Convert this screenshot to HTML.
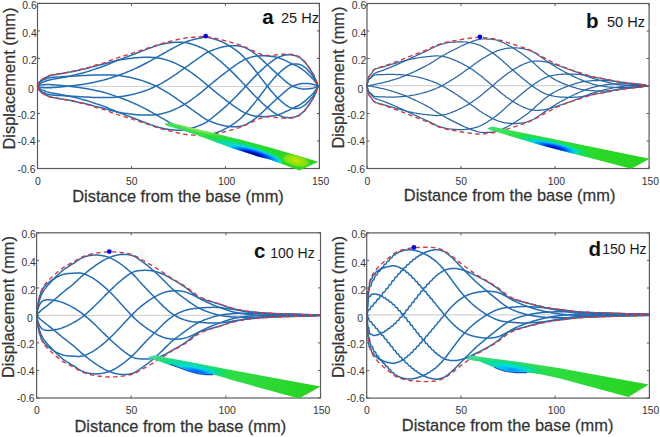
<!DOCTYPE html><html><head><meta charset="utf-8"><style>html,body{margin:0;padding:0;background:#fff;}svg{display:block}text{font-family:"Liberation Sans",sans-serif}</style></head><body>
<svg width="660" height="437" viewBox="0 0 660 437">
<rect width="660" height="437" fill="#fff"/>
<defs>
<linearGradient id="lga" gradientUnits="userSpaceOnUse" x1="164.6" y1="0" x2="318.3" y2="0"><stop offset="0" stop-color="#3ee068"/><stop offset="0.35" stop-color="#2ede38"/><stop offset="1" stop-color="#26d41a"/></linearGradient>
<clipPath id="pca"><polygon points="164.6,124.1 169.7,122.4 240.0,139.6 270.0,147.6 318.3,161.8 299.6,170.4 270.0,159.6 257.0,156.2 232.7,148.3 190.0,132.6 166.0,125.6"/></clipPath>
<linearGradient id="lgb" gradientUnits="userSpaceOnUse" x1="487.3" y1="0" x2="649.7" y2="0"><stop offset="0" stop-color="#3ee068"/><stop offset="0.35" stop-color="#2ede38"/><stop offset="1" stop-color="#26d41a"/></linearGradient>
<clipPath id="pcb"><polygon points="487.3,128.3 492.1,126.5 649.7,158.8 631.2,168.8 575.0,154.0 560.0,150.3 545.0,146.3 489.1,129.8"/></clipPath>
<linearGradient id="lgc" gradientUnits="userSpaceOnUse" x1="148.3" y1="0" x2="320.6" y2="0"><stop offset="0" stop-color="#40dca8"/><stop offset="0.25" stop-color="#38dc90"/><stop offset="0.5" stop-color="#2edc48"/><stop offset="1" stop-color="#26d41a"/></linearGradient>
<clipPath id="pcc"><polygon points="148.3,357.1 154.4,355.3 230.0,369.8 320.6,386.6 299.1,398.4 252.0,385.6 230.0,379.4 214.0,374.6 206.0,374.6 197.6,373.4 190.0,371.5 177.9,367.2 168.0,364.4 160.0,361.5 149.1,358.3"/></clipPath>
<linearGradient id="lgd" gradientUnits="userSpaceOnUse" x1="466.4" y1="0" x2="648.8" y2="0"><stop offset="0" stop-color="#40dc98"/><stop offset="0.25" stop-color="#36dc78"/><stop offset="0.5" stop-color="#2edc40"/><stop offset="1" stop-color="#26d41a"/></linearGradient>
<clipPath id="pcd"><polygon points="466.4,358.9 470.2,355.5 480.0,356.7 520.0,362.1 560.0,368.2 648.8,384.5 628.4,396.9 560.0,378.5 540.6,374.2 528.5,372.6 516.4,372.6 504.2,371.2 492.1,366.4 480.0,361.5 467.0,359.6"/></clipPath>
<radialGradient id="gcy"><stop offset="0" stop-color="#00dce8"/><stop offset="0.55" stop-color="#08dca0"/><stop offset="1" stop-color="#22dd10" stop-opacity="0"/></radialGradient>
<radialGradient id="gbl"><stop offset="0" stop-color="#000090"/><stop offset="0.3" stop-color="#0010d8"/><stop offset="0.55" stop-color="#0060ff"/><stop offset="0.78" stop-color="#00b8ff"/><stop offset="0.92" stop-color="#00e0e0" stop-opacity="0.8"/><stop offset="1" stop-color="#00e0d0" stop-opacity="0"/></radialGradient>
<radialGradient id="gbl2"><stop offset="0" stop-color="#0058f0"/><stop offset="0.45" stop-color="#0090ff"/><stop offset="0.8" stop-color="#00c8f0"/><stop offset="1" stop-color="#00d8d0" stop-opacity="0"/></radialGradient>
<radialGradient id="gbl3"><stop offset="0" stop-color="#0090f8"/><stop offset="0.5" stop-color="#00b8f8"/><stop offset="0.85" stop-color="#00d8e8"/><stop offset="1" stop-color="#00d8d0" stop-opacity="0"/></radialGradient>
<radialGradient id="gblb"><stop offset="0" stop-color="#0008b8"/><stop offset="0.35" stop-color="#0034f0"/><stop offset="0.62" stop-color="#0088ff"/><stop offset="0.82" stop-color="#00c8f0"/><stop offset="1" stop-color="#00d8d0" stop-opacity="0"/></radialGradient>
<radialGradient id="glt"><stop offset="0" stop-color="#a8ec60"/><stop offset="0.6" stop-color="#80e650" stop-opacity="0.7"/><stop offset="1" stop-color="#60e040" stop-opacity="0"/></radialGradient>
<radialGradient id="gye"><stop offset="0" stop-color="#d0e400"/><stop offset="0.3" stop-color="#a8e208"/><stop offset="0.75" stop-color="#80e010"/><stop offset="1" stop-color="#50dc12" stop-opacity="0"/></radialGradient>
</defs>
<line x1="37.5" y1="86.5" x2="319.4" y2="86.5" stroke="#d2d2d2" stroke-width="1.2"/>
<g fill="none" stroke="#226cb4" stroke-width="1.5" stroke-linejoin="round"><path d="M37.5 86.2 38.5 83.5 39.5 82.0 40.5 80.9 41.5 79.9 42.5 79.3 43.5 78.8 44.5 78.2 45.5 77.6 46.5 77.0 47.5 76.6 48.5 76.2 49.5 75.8 50.5 75.5 51.5 75.3 52.5 75.0 53.5 74.8 54.5 74.7 55.5 74.5 56.5 74.4 57.5 74.2 58.5 74.0 59.5 73.9 60.5 73.7 61.5 73.5 62.5 73.4 63.5 73.2 64.5 73.0 65.5 72.8 66.5 72.7 67.5 72.5 68.5 72.3 69.5 72.1 70.5 71.9 71.5 71.8 72.5 71.6 73.5 71.4 74.5 71.2 75.5 70.9 76.5 70.7 77.5 70.5 78.5 70.2 79.5 70.0 80.5 69.8 81.5 69.5 82.5 69.3 83.5 69.1 84.5 68.9 85.5 68.7 86.5 68.4 87.5 68.2 88.5 68.0 89.5 67.7 90.5 67.4 91.5 67.1 92.5 66.8 93.5 66.5 94.5 66.2 95.5 65.9 96.5 65.7 97.5 65.5 98.5 65.3 99.5 65.0 100.5 64.8 101.5 64.6 102.5 64.4 103.5 64.1 104.5 63.9 105.5 63.6 106.5 63.3 107.5 63.0 108.5 62.7 109.5 62.4 110.5 62.1 111.5 61.8 112.5 61.5 113.5 61.3 114.5 61.0 115.5 60.8 116.5 60.5 117.5 60.3 118.5 60.1 119.5 59.9 120.5 59.8 121.5 59.6 122.5 59.5 123.5 59.3 124.5 59.2 125.5 59.0 126.5 58.9 127.5 58.8 128.5 58.6 129.5 58.5 130.5 58.4 131.5 58.3 132.5 58.1 133.5 58.0 134.5 57.9 135.5 57.8 136.5 57.7 137.5 57.7 138.5 57.6 139.5 57.5 140.5 57.4 141.5 57.4 142.5 57.3 143.5 57.3 144.5 57.3 145.5 57.3 146.5 57.3 147.5 57.3 148.5 57.3 149.5 57.3 150.5 57.3 151.5 57.4 152.5 57.4 153.5 57.5 154.5 57.6 155.5 57.6 156.5 57.8 157.5 57.9 158.5 58.0 159.5 58.2 160.5 58.4 161.5 58.6 162.5 58.8 163.5 59.1 164.5 59.4 165.5 59.6 166.5 59.9 167.5 60.3 168.5 60.6 169.5 60.9 170.5 61.3 171.5 61.7 172.5 62.1 173.5 62.5 174.5 62.9 175.5 63.4 176.5 63.8 177.5 64.3 178.5 64.8 179.5 65.3 180.5 65.8 181.5 66.4 182.5 66.9 183.5 67.5 184.5 68.1 185.5 68.7 186.5 69.3 187.5 70.0 188.5 70.6 189.5 71.3 190.5 72.0 191.5 72.7 192.5 73.4 193.5 74.2 194.5 74.9 195.5 75.6 196.5 76.4 197.5 77.2 198.5 78.0 199.5 78.7 200.5 79.5 201.5 80.3 202.5 81.1 203.5 82.0 204.5 82.8 205.5 83.6 206.5 84.5 207.5 85.3 208.5 86.2 209.5 87.0 210.5 87.9 211.5 88.7 212.5 89.5 213.5 90.4 214.5 91.2 215.5 92.0 216.5 92.8 217.5 93.6 218.5 94.4 219.5 95.2 220.5 96.0 221.5 96.8 222.5 97.5 223.5 98.3 224.5 99.1 225.5 99.9 226.5 100.6 227.5 101.4 228.5 102.1 229.5 102.9 230.5 103.6 231.5 104.4 232.5 105.1 233.5 105.8 234.5 106.5 235.5 107.2 236.5 107.9 237.5 108.6 238.5 109.2 239.5 109.9 240.5 110.5 241.5 111.1 242.5 111.6 243.5 112.2 244.5 112.7 245.5 113.1 246.5 113.5 247.5 113.9 248.5 114.3 249.5 114.6 250.5 115.0 251.5 115.3 252.5 115.6 253.5 115.8 254.5 116.1 255.5 116.2 256.5 116.3 257.5 116.4 258.5 116.5 259.5 116.5 260.5 116.6 261.5 116.6 262.5 116.6 263.5 116.7 264.5 116.7 265.5 116.6 266.5 116.5 267.5 116.4 268.5 116.3 269.5 116.2 270.5 116.1 271.5 116.0 272.5 115.9 273.5 115.8 274.5 115.6 275.5 115.4 276.5 115.2 277.5 114.9 278.5 114.6 279.5 114.2 280.5 113.9 281.5 113.5 282.5 113.1 283.5 112.7 284.5 112.2 285.5 111.7 286.5 111.3 287.5 110.8 288.5 110.3 289.5 109.8 290.5 109.3 291.5 108.8 292.5 108.3 293.5 107.9 294.5 107.5 295.5 107.0 296.5 106.5 297.5 106.0 298.5 105.5 299.5 104.9 300.5 104.3 301.5 103.6 302.5 102.9 303.5 102.1 304.5 101.4 305.5 100.6 306.5 99.7 307.5 98.8 308.5 97.9 309.5 96.9 310.5 96.0 311.5 95.0 312.5 94.0 313.5 92.9 314.5 91.7 315.5 90.3 316.5 88.8 317.5 87.0 318.5 86.4"/><path d="M37.5 86.2 38.5 84.7 39.5 83.9 40.5 83.3 41.5 82.7 42.5 82.3 43.5 82.0 44.5 81.6 45.5 81.2 46.5 80.8 47.5 80.5 48.5 80.2 49.5 80.0 50.5 79.7 51.5 79.5 52.5 79.3 53.5 79.1 54.5 78.9 55.5 78.8 56.5 78.6 57.5 78.4 58.5 78.3 59.5 78.1 60.5 77.9 61.5 77.7 62.5 77.5 63.5 77.4 64.5 77.2 65.5 77.0 66.5 76.8 67.5 76.6 68.5 76.4 69.5 76.2 70.5 76.0 71.5 75.7 72.5 75.5 73.5 75.3 74.5 75.1 75.5 74.8 76.5 74.6 77.5 74.3 78.5 74.0 79.5 73.8 80.5 73.5 81.5 73.2 82.5 73.0 83.5 72.7 84.5 72.4 85.5 72.2 86.5 71.9 87.5 71.6 88.5 71.3 89.5 71.0 90.5 70.6 91.5 70.3 92.5 69.9 93.5 69.6 94.5 69.2 95.5 68.9 96.5 68.5 97.5 68.2 98.5 67.9 99.5 67.6 100.5 67.3 101.5 67.0 102.5 66.6 103.5 66.3 104.5 65.9 105.5 65.5 106.5 65.1 107.5 64.7 108.5 64.2 109.5 63.8 110.5 63.3 111.5 62.9 112.5 62.5 113.5 62.1 114.5 61.7 115.5 61.2 116.5 60.8 117.5 60.4 118.5 60.0 119.5 59.6 120.5 59.3 121.5 58.9 122.5 58.5 123.5 58.2 124.5 57.8 125.5 57.4 126.5 57.0 127.5 56.7 128.5 56.3 129.5 55.9 130.5 55.5 131.5 55.1 132.5 54.7 133.5 54.4 134.5 54.0 135.5 53.6 136.5 53.2 137.5 52.8 138.5 52.4 139.5 52.0 140.5 51.6 141.5 51.2 142.5 50.8 143.5 50.4 144.5 50.1 145.5 49.7 146.5 49.3 147.5 48.9 148.5 48.6 149.5 48.2 150.5 47.8 151.5 47.5 152.5 47.1 153.5 46.7 154.5 46.4 155.5 46.1 156.5 45.7 157.5 45.4 158.5 45.1 159.5 44.8 160.5 44.6 161.5 44.3 162.5 44.1 163.5 43.9 164.5 43.7 165.5 43.5 166.5 43.3 167.5 43.1 168.5 42.9 169.5 42.8 170.5 42.7 171.5 42.6 172.5 42.5 173.5 42.4 174.5 42.3 175.5 42.3 176.5 42.2 177.5 42.2 178.5 42.2 179.5 42.2 180.5 42.2 181.5 42.2 182.5 42.3 183.5 42.4 184.5 42.5 185.5 42.6 186.5 42.8 187.5 43.0 188.5 43.2 189.5 43.5 190.5 43.8 191.5 44.1 192.5 44.4 193.5 44.7 194.5 45.0 195.5 45.4 196.5 45.8 197.5 46.1 198.5 46.5 199.5 47.0 200.5 47.4 201.5 47.8 202.5 48.2 203.5 48.7 204.5 49.1 205.5 49.7 206.5 50.3 207.5 51.1 208.5 51.8 209.5 52.6 210.5 53.4 211.5 54.1 212.5 54.9 213.5 55.7 214.5 56.5 215.5 57.2 216.5 58.0 217.5 58.9 218.5 59.7 219.5 60.5 220.5 61.4 221.5 62.2 222.5 63.1 223.5 64.0 224.5 64.9 225.5 65.8 226.5 66.7 227.5 67.6 228.5 68.6 229.5 69.5 230.5 70.5 231.5 71.4 232.5 72.4 233.5 73.4 234.5 74.4 235.5 75.4 236.5 76.4 237.5 77.4 238.5 78.5 239.5 79.5 240.5 80.5 241.5 81.6 242.5 82.7 243.5 83.7 244.5 84.8 245.5 85.9 246.5 87.0 247.5 88.0 248.5 89.1 249.5 90.2 250.5 91.3 251.5 92.3 252.5 93.4 253.5 94.5 254.5 95.5 255.5 96.5 256.5 97.5 257.5 98.4 258.5 99.4 259.5 100.4 260.5 101.3 261.5 102.3 262.5 103.3 263.5 104.2 264.5 105.2 265.5 106.0 266.5 106.9 267.5 107.7 268.5 108.4 269.5 109.2 270.5 110.0 271.5 110.8 272.5 111.6 273.5 112.3 274.5 113.0 275.5 113.6 276.5 114.2 277.5 114.7 278.5 115.2 279.5 115.6 280.5 116.0 281.5 116.3 282.5 116.7 283.5 117.0 284.5 117.2 285.5 117.4 286.5 117.5 287.5 117.6 288.5 117.7 289.5 117.7 290.5 117.6 291.5 117.5 292.5 117.4 293.5 117.2 294.5 117.0 295.5 116.7 296.5 116.4 297.5 115.9 298.5 115.4 299.5 114.9 300.5 114.2 301.5 113.4 302.5 112.5 303.5 111.5 304.5 110.5 305.5 109.4 306.5 108.1 307.5 106.8 308.5 105.3 309.5 103.8 310.5 102.4 311.5 100.9 312.5 99.3 313.5 97.5 314.5 95.4 315.5 93.1 316.5 90.6 317.5 87.5 318.5 86.5"/><path d="M37.5 86.2 38.5 86.9 39.5 87.2 40.5 87.4 41.5 87.5 42.5 87.6 43.5 87.7 44.5 87.7 45.5 87.8 46.5 87.8 47.5 87.8 48.5 87.8 49.5 87.8 50.5 87.7 51.5 87.7 52.5 87.6 53.5 87.5 54.5 87.5 55.5 87.4 56.5 87.3 57.5 87.2 58.5 87.2 59.5 87.1 60.5 87.0 61.5 86.9 62.5 86.8 63.5 86.7 64.5 86.6 65.5 86.5 66.5 86.4 67.5 86.3 68.5 86.2 69.5 86.1 70.5 86.0 71.5 85.8 72.5 85.7 73.5 85.6 74.5 85.5 75.5 85.4 76.5 85.2 77.5 85.1 78.5 85.0 79.5 84.8 80.5 84.7 81.5 84.5 82.5 84.4 83.5 84.2 84.5 84.1 85.5 83.9 86.5 83.7 87.5 83.6 88.5 83.4 89.5 83.2 90.5 83.0 91.5 82.8 92.5 82.6 93.5 82.4 94.5 82.2 95.5 81.9 96.5 81.7 97.5 81.5 98.5 81.3 99.5 81.1 100.5 80.8 101.5 80.6 102.5 80.4 103.5 80.1 104.5 79.8 105.5 79.6 106.5 79.3 107.5 79.0 108.5 78.6 109.5 78.3 110.5 78.0 111.5 77.7 112.5 77.3 113.5 77.0 114.5 76.7 115.5 76.3 116.5 76.0 117.5 75.6 118.5 75.3 119.5 74.9 120.5 74.5 121.5 74.2 122.5 73.8 123.5 73.4 124.5 73.1 125.5 72.7 126.5 72.3 127.5 71.9 128.5 71.5 129.5 71.1 130.5 70.6 131.5 70.2 132.5 69.8 133.5 69.3 134.5 68.9 135.5 68.4 136.5 68.0 137.5 67.5 138.5 67.0 139.5 66.5 140.5 66.0 141.5 65.5 142.5 65.0 143.5 64.5 144.5 64.0 145.5 63.5 146.5 63.0 147.5 62.4 148.5 61.9 149.5 61.4 150.5 60.8 151.5 60.3 152.5 59.7 153.5 59.1 154.5 58.6 155.5 58.0 156.5 57.4 157.5 56.8 158.5 56.3 159.5 55.7 160.5 55.1 161.5 54.6 162.5 54.0 163.5 53.5 164.5 52.9 165.5 52.3 166.5 51.8 167.5 51.2 168.5 50.6 169.5 50.1 170.5 49.5 171.5 49.0 172.5 48.5 173.5 47.9 174.5 47.4 175.5 46.9 176.5 46.3 177.5 45.8 178.5 45.3 179.5 44.8 180.5 44.3 181.5 43.8 182.5 43.3 183.5 42.9 184.5 42.5 185.5 42.1 186.5 41.7 187.5 41.3 188.5 41.0 189.5 40.7 190.5 40.4 191.5 40.1 192.5 39.8 193.5 39.5 194.5 39.3 195.5 39.0 196.5 38.8 197.5 38.6 198.5 38.4 199.5 38.2 200.5 38.0 201.5 37.7 202.5 37.5 203.5 37.3 204.5 37.2 205.5 37.1 206.5 37.2 207.5 37.3 208.5 37.6 209.5 37.8 210.5 38.1 211.5 38.3 212.5 38.6 213.5 38.9 214.5 39.1 215.5 39.5 216.5 39.8 217.5 40.1 218.5 40.5 219.5 40.9 220.5 41.3 221.5 41.7 222.5 42.2 223.5 42.7 224.5 43.1 225.5 43.7 226.5 44.2 227.5 44.7 228.5 45.3 229.5 45.9 230.5 46.5 231.5 47.2 232.5 47.8 233.5 48.5 234.5 49.2 235.5 49.9 236.5 50.6 237.5 51.4 238.5 52.2 239.5 53.0 240.5 53.9 241.5 54.8 242.5 55.8 243.5 56.8 244.5 57.8 245.5 58.8 246.5 59.9 247.5 61.1 248.5 62.2 249.5 63.4 250.5 64.6 251.5 65.8 252.5 67.0 253.5 68.2 254.5 69.5 255.5 70.7 256.5 72.0 257.5 73.3 258.5 74.6 259.5 75.9 260.5 77.2 261.5 78.6 262.5 79.9 263.5 81.2 264.5 82.5 265.5 83.8 266.5 85.1 267.5 86.3 268.5 87.5 269.5 88.7 270.5 90.0 271.5 91.2 272.5 92.4 273.5 93.6 274.5 94.7 275.5 95.8 276.5 96.9 277.5 97.9 278.5 98.8 279.5 99.7 280.5 100.6 281.5 101.5 282.5 102.4 283.5 103.2 284.5 104.0 285.5 104.8 286.5 105.5 287.5 106.1 288.5 106.7 289.5 107.2 290.5 107.6 291.5 107.9 292.5 108.2 293.5 108.4 294.5 108.5 295.5 108.5 296.5 108.5 297.5 108.4 298.5 108.2 299.5 108.0 300.5 107.7 301.5 107.2 302.5 106.7 303.5 106.0 304.5 105.3 305.5 104.6 306.5 103.7 307.5 102.6 308.5 101.5 309.5 100.4 310.5 99.3 311.5 98.1 312.5 96.9 313.5 95.4 314.5 93.8 315.5 91.9 316.5 89.8 317.5 87.3 318.5 86.4"/><path d="M37.5 86.2 38.5 88.6 39.5 89.9 40.5 90.8 41.5 91.6 42.5 92.1 43.5 92.5 44.5 92.9 45.5 93.4 46.5 93.8 47.5 94.1 48.5 94.4 49.5 94.7 50.5 94.8 51.5 95.0 52.5 95.1 53.5 95.2 54.5 95.2 55.5 95.3 56.5 95.4 57.5 95.4 58.5 95.5 59.5 95.5 60.5 95.6 61.5 95.6 62.5 95.7 63.5 95.8 64.5 95.8 65.5 95.9 66.5 95.9 67.5 96.0 68.5 96.0 69.5 96.1 70.5 96.1 71.5 96.2 72.5 96.2 73.5 96.3 74.5 96.3 75.5 96.4 76.5 96.5 77.5 96.5 78.5 96.6 79.5 96.7 80.5 96.7 81.5 96.8 82.5 96.8 83.5 96.9 84.5 96.9 85.5 97.0 86.5 97.0 87.5 97.1 88.5 97.1 89.5 97.2 90.5 97.2 91.5 97.3 92.5 97.4 93.5 97.4 94.5 97.5 95.5 97.5 96.5 97.5 97.5 97.5 98.5 97.5 99.5 97.5 100.5 97.5 101.5 97.5 102.5 97.5 103.5 97.5 104.5 97.5 105.5 97.5 106.5 97.5 107.5 97.5 108.5 97.5 109.5 97.5 110.5 97.5 111.5 97.4 112.5 97.4 113.5 97.3 114.5 97.3 115.5 97.2 116.5 97.1 117.5 97.0 118.5 96.9 119.5 96.8 120.5 96.6 121.5 96.5 122.5 96.4 123.5 96.2 124.5 96.0 125.5 95.8 126.5 95.7 127.5 95.5 128.5 95.3 129.5 95.1 130.5 94.9 131.5 94.6 132.5 94.4 133.5 94.2 134.5 93.9 135.5 93.7 136.5 93.4 137.5 93.1 138.5 92.9 139.5 92.6 140.5 92.3 141.5 92.0 142.5 91.6 143.5 91.3 144.5 91.0 145.5 90.6 146.5 90.2 147.5 89.9 148.5 89.5 149.5 89.1 150.5 88.7 151.5 88.2 152.5 87.8 153.5 87.4 154.5 86.9 155.5 86.4 156.5 86.0 157.5 85.5 158.5 85.0 159.5 84.4 160.5 83.9 161.5 83.3 162.5 82.8 163.5 82.2 164.5 81.6 165.5 81.0 166.5 80.4 167.5 79.8 168.5 79.2 169.5 78.5 170.5 77.9 171.5 77.2 172.5 76.6 173.5 75.9 174.5 75.2 175.5 74.5 176.5 73.8 177.5 73.1 178.5 72.4 179.5 71.7 180.5 71.0 181.5 70.2 182.5 69.5 183.5 68.8 184.5 68.1 185.5 67.4 186.5 66.7 187.5 66.0 188.5 65.3 189.5 64.5 190.5 63.8 191.5 63.1 192.5 62.4 193.5 61.7 194.5 61.0 195.5 60.3 196.5 59.6 197.5 58.9 198.5 58.2 199.5 57.5 200.5 56.8 201.5 56.1 202.5 55.4 203.5 54.6 204.5 54.0 205.5 53.3 206.5 52.7 207.5 52.3 208.5 51.8 209.5 51.4 210.5 51.0 211.5 50.6 212.5 50.2 213.5 49.8 214.5 49.4 215.5 49.1 216.5 48.7 217.5 48.4 218.5 48.1 219.5 47.8 220.5 47.5 221.5 47.3 222.5 47.1 223.5 46.8 224.5 46.6 225.5 46.5 226.5 46.3 227.5 46.1 228.5 46.0 229.5 45.9 230.5 45.8 231.5 45.7 232.5 45.7 233.5 45.7 234.5 45.7 235.5 45.7 236.5 45.7 237.5 45.8 238.5 45.9 239.5 46.0 240.5 46.2 241.5 46.4 242.5 46.7 243.5 47.0 244.5 47.4 245.5 47.8 246.5 48.3 247.5 48.8 248.5 49.4 249.5 50.0 250.5 50.6 251.5 51.2 252.5 51.9 253.5 52.6 254.5 53.3 255.5 54.0 256.5 54.9 257.5 55.7 258.5 56.6 259.5 57.5 260.5 58.4 261.5 59.3 262.5 60.2 263.5 61.1 264.5 62.1 265.5 63.0 266.5 64.0 267.5 64.9 268.5 65.8 269.5 66.8 270.5 67.7 271.5 68.6 272.5 69.6 273.5 70.5 274.5 71.4 275.5 72.4 276.5 73.3 277.5 74.2 278.5 75.0 279.5 75.9 280.5 76.8 281.5 77.7 282.5 78.6 283.5 79.5 284.5 80.4 285.5 81.3 286.5 82.1 287.5 82.9 288.5 83.7 289.5 84.4 290.5 85.0 291.5 85.6 292.5 86.1 293.5 86.5 294.5 86.9 295.5 87.3 296.5 87.6 297.5 87.9 298.5 88.2 299.5 88.4 300.5 88.6 301.5 88.8 302.5 88.9 303.5 89.0 304.5 89.0 305.5 89.0 306.5 89.0 307.5 88.9 308.5 88.8 309.5 88.7 310.5 88.5 311.5 88.4 312.5 88.2 313.5 88.0 314.5 87.7 315.5 87.3 316.5 86.9 317.5 86.4 318.5 86.2"/><path d="M37.5 86.2 38.5 88.9 39.5 90.4 40.5 91.5 41.5 92.5 42.5 93.1 43.5 93.6 44.5 94.2 45.5 94.8 46.5 95.4 47.5 95.8 48.5 96.2 49.5 96.6 50.5 96.9 51.5 97.1 52.5 97.4 53.5 97.6 54.5 97.7 55.5 97.9 56.5 98.0 57.5 98.2 58.5 98.4 59.5 98.5 60.5 98.7 61.5 98.9 62.5 99.0 63.5 99.2 64.5 99.4 65.5 99.6 66.5 99.7 67.5 99.9 68.5 100.1 69.5 100.3 70.5 100.5 71.5 100.6 72.5 100.8 73.5 101.0 74.5 101.2 75.5 101.5 76.5 101.7 77.5 101.9 78.5 102.2 79.5 102.4 80.5 102.6 81.5 102.9 82.5 103.1 83.5 103.3 84.5 103.5 85.5 103.7 86.5 104.0 87.5 104.2 88.5 104.4 89.5 104.7 90.5 105.0 91.5 105.3 92.5 105.6 93.5 105.9 94.5 106.2 95.5 106.5 96.5 106.7 97.5 106.9 98.5 107.1 99.5 107.4 100.5 107.6 101.5 107.8 102.5 108.0 103.5 108.3 104.5 108.5 105.5 108.8 106.5 109.1 107.5 109.4 108.5 109.7 109.5 110.0 110.5 110.3 111.5 110.6 112.5 110.9 113.5 111.1 114.5 111.4 115.5 111.6 116.5 111.9 117.5 112.1 118.5 112.3 119.5 112.5 120.5 112.6 121.5 112.8 122.5 112.9 123.5 113.1 124.5 113.2 125.5 113.4 126.5 113.5 127.5 113.6 128.5 113.8 129.5 113.9 130.5 114.0 131.5 114.1 132.5 114.3 133.5 114.4 134.5 114.5 135.5 114.6 136.5 114.7 137.5 114.7 138.5 114.8 139.5 114.9 140.5 115.0 141.5 115.0 142.5 115.1 143.5 115.1 144.5 115.1 145.5 115.1 146.5 115.1 147.5 115.1 148.5 115.1 149.5 115.1 150.5 115.1 151.5 115.0 152.5 115.0 153.5 114.9 154.5 114.8 155.5 114.8 156.5 114.6 157.5 114.5 158.5 114.4 159.5 114.2 160.5 114.0 161.5 113.8 162.5 113.6 163.5 113.3 164.5 113.0 165.5 112.8 166.5 112.5 167.5 112.1 168.5 111.8 169.5 111.5 170.5 111.1 171.5 110.7 172.5 110.3 173.5 109.9 174.5 109.5 175.5 109.0 176.5 108.6 177.5 108.1 178.5 107.6 179.5 107.1 180.5 106.6 181.5 106.0 182.5 105.5 183.5 104.9 184.5 104.3 185.5 103.7 186.5 103.1 187.5 102.4 188.5 101.8 189.5 101.1 190.5 100.4 191.5 99.7 192.5 99.0 193.5 98.2 194.5 97.5 195.5 96.8 196.5 96.0 197.5 95.2 198.5 94.4 199.5 93.7 200.5 92.9 201.5 92.1 202.5 91.3 203.5 90.4 204.5 89.6 205.5 88.8 206.5 87.9 207.5 87.1 208.5 86.2 209.5 85.4 210.5 84.5 211.5 83.7 212.5 82.9 213.5 82.0 214.5 81.2 215.5 80.4 216.5 79.6 217.5 78.8 218.5 78.0 219.5 77.2 220.5 76.4 221.5 75.6 222.5 74.9 223.5 74.1 224.5 73.3 225.5 72.5 226.5 71.8 227.5 71.0 228.5 70.3 229.5 69.5 230.5 68.8 231.5 68.0 232.5 67.3 233.5 66.6 234.5 65.9 235.5 65.2 236.5 64.5 237.5 63.8 238.5 63.2 239.5 62.5 240.5 61.9 241.5 61.3 242.5 60.8 243.5 60.2 244.5 59.7 245.5 59.3 246.5 58.9 247.5 58.5 248.5 58.1 249.5 57.8 250.5 57.4 251.5 57.1 252.5 56.8 253.5 56.6 254.5 56.3 255.5 56.2 256.5 56.1 257.5 56.0 258.5 55.9 259.5 55.9 260.5 55.8 261.5 55.8 262.5 55.8 263.5 55.7 264.5 55.7 265.5 55.8 266.5 55.9 267.5 56.0 268.5 56.1 269.5 56.2 270.5 56.3 271.5 56.4 272.5 56.5 273.5 56.6 274.5 56.8 275.5 57.0 276.5 57.2 277.5 57.5 278.5 57.8 279.5 58.2 280.5 58.5 281.5 58.9 282.5 59.3 283.5 59.7 284.5 60.2 285.5 60.7 286.5 61.1 287.5 61.6 288.5 62.1 289.5 62.6 290.5 63.1 291.5 63.6 292.5 64.1 293.5 64.5 294.5 64.9 295.5 65.4 296.5 65.9 297.5 66.4 298.5 66.9 299.5 67.5 300.5 68.1 301.5 68.8 302.5 69.5 303.5 70.3 304.5 71.0 305.5 71.8 306.5 72.7 307.5 73.6 308.5 74.5 309.5 75.5 310.5 76.4 311.5 77.4 312.5 78.4 313.5 79.5 314.5 80.7 315.5 82.1 316.5 83.6 317.5 85.4 318.5 86.0"/><path d="M37.5 86.2 38.5 87.7 39.5 88.5 40.5 89.1 41.5 89.7 42.5 90.1 43.5 90.4 44.5 90.8 45.5 91.2 46.5 91.6 47.5 91.9 48.5 92.2 49.5 92.4 50.5 92.7 51.5 92.9 52.5 93.1 53.5 93.3 54.5 93.5 55.5 93.6 56.5 93.8 57.5 94.0 58.5 94.1 59.5 94.3 60.5 94.5 61.5 94.7 62.5 94.9 63.5 95.0 64.5 95.2 65.5 95.4 66.5 95.6 67.5 95.8 68.5 96.0 69.5 96.2 70.5 96.4 71.5 96.7 72.5 96.9 73.5 97.1 74.5 97.3 75.5 97.6 76.5 97.8 77.5 98.1 78.5 98.4 79.5 98.6 80.5 98.9 81.5 99.2 82.5 99.4 83.5 99.7 84.5 100.0 85.5 100.2 86.5 100.5 87.5 100.8 88.5 101.1 89.5 101.4 90.5 101.8 91.5 102.1 92.5 102.5 93.5 102.8 94.5 103.2 95.5 103.5 96.5 103.9 97.5 104.2 98.5 104.5 99.5 104.8 100.5 105.1 101.5 105.4 102.5 105.8 103.5 106.1 104.5 106.5 105.5 106.9 106.5 107.3 107.5 107.7 108.5 108.2 109.5 108.6 110.5 109.1 111.5 109.5 112.5 109.9 113.5 110.3 114.5 110.7 115.5 111.2 116.5 111.6 117.5 112.0 118.5 112.4 119.5 112.8 120.5 113.1 121.5 113.5 122.5 113.9 123.5 114.2 124.5 114.6 125.5 115.0 126.5 115.4 127.5 115.7 128.5 116.1 129.5 116.5 130.5 116.9 131.5 117.3 132.5 117.7 133.5 118.0 134.5 118.4 135.5 118.8 136.5 119.2 137.5 119.6 138.5 120.0 139.5 120.4 140.5 120.8 141.5 121.2 142.5 121.6 143.5 122.0 144.5 122.3 145.5 122.7 146.5 123.1 147.5 123.5 148.5 123.8 149.5 124.2 150.5 124.6 151.5 124.9 152.5 125.3 153.5 125.7 154.5 126.0 155.5 126.3 156.5 126.7 157.5 127.0 158.5 127.3 159.5 127.6 160.5 127.8 161.5 128.1 162.5 128.3 163.5 128.5 164.5 128.7 165.5 128.9 166.5 129.1 167.5 129.3 168.5 129.5 169.5 129.6 170.5 129.7 171.5 129.8 172.5 129.9 173.5 130.0 174.5 130.1 175.5 130.1 176.5 130.2 177.5 130.2 178.5 130.2 179.5 130.2 180.5 130.2 181.5 130.2 182.5 130.1 183.5 130.0 184.5 129.9 185.5 129.8 186.5 129.6 187.5 129.4 188.5 129.2 189.5 128.9 190.5 128.6 191.5 128.3 192.5 128.0 193.5 127.7 194.5 127.4 195.5 127.0 196.5 126.6 197.5 126.3 198.5 125.9 199.5 125.4 200.5 125.0 201.5 124.6 202.5 124.2 203.5 123.7 204.5 123.3 205.5 122.7 206.5 122.1 207.5 121.3 208.5 120.6 209.5 119.8 210.5 119.0 211.5 118.3 212.5 117.5 213.5 116.7 214.5 115.9 215.5 115.2 216.5 114.4 217.5 113.5 218.5 112.7 219.5 111.9 220.5 111.0 221.5 110.2 222.5 109.3 223.5 108.4 224.5 107.5 225.5 106.6 226.5 105.7 227.5 104.8 228.5 103.8 229.5 102.9 230.5 101.9 231.5 101.0 232.5 100.0 233.5 99.0 234.5 98.0 235.5 97.0 236.5 96.0 237.5 95.0 238.5 93.9 239.5 92.9 240.5 91.9 241.5 90.8 242.5 89.7 243.5 88.7 244.5 87.6 245.5 86.5 246.5 85.4 247.5 84.4 248.5 83.3 249.5 82.2 250.5 81.1 251.5 80.1 252.5 79.0 253.5 77.9 254.5 76.9 255.5 75.9 256.5 74.9 257.5 74.0 258.5 73.0 259.5 72.0 260.5 71.1 261.5 70.1 262.5 69.1 263.5 68.2 264.5 67.2 265.5 66.4 266.5 65.5 267.5 64.7 268.5 64.0 269.5 63.2 270.5 62.4 271.5 61.6 272.5 60.8 273.5 60.1 274.5 59.4 275.5 58.8 276.5 58.2 277.5 57.7 278.5 57.2 279.5 56.8 280.5 56.4 281.5 56.1 282.5 55.7 283.5 55.4 284.5 55.2 285.5 55.0 286.5 54.9 287.5 54.8 288.5 54.7 289.5 54.7 290.5 54.8 291.5 54.9 292.5 55.0 293.5 55.2 294.5 55.4 295.5 55.7 296.5 56.0 297.5 56.5 298.5 57.0 299.5 57.5 300.5 58.2 301.5 59.0 302.5 59.9 303.5 60.9 304.5 61.9 305.5 63.0 306.5 64.3 307.5 65.6 308.5 67.1 309.5 68.6 310.5 70.0 311.5 71.5 312.5 73.1 313.5 74.9 314.5 77.0 315.5 79.3 316.5 81.8 317.5 84.9 318.5 85.9"/><path d="M37.5 86.2 38.5 85.5 39.5 85.2 40.5 85.0 41.5 84.9 42.5 84.8 43.5 84.7 44.5 84.7 45.5 84.6 46.5 84.6 47.5 84.6 48.5 84.6 49.5 84.6 50.5 84.7 51.5 84.7 52.5 84.8 53.5 84.9 54.5 84.9 55.5 85.0 56.5 85.1 57.5 85.2 58.5 85.2 59.5 85.3 60.5 85.4 61.5 85.5 62.5 85.6 63.5 85.7 64.5 85.8 65.5 85.9 66.5 86.0 67.5 86.1 68.5 86.2 69.5 86.3 70.5 86.4 71.5 86.6 72.5 86.7 73.5 86.8 74.5 86.9 75.5 87.0 76.5 87.2 77.5 87.3 78.5 87.4 79.5 87.6 80.5 87.7 81.5 87.9 82.5 88.0 83.5 88.2 84.5 88.3 85.5 88.5 86.5 88.7 87.5 88.8 88.5 89.0 89.5 89.2 90.5 89.4 91.5 89.6 92.5 89.8 93.5 90.0 94.5 90.2 95.5 90.5 96.5 90.7 97.5 90.9 98.5 91.1 99.5 91.3 100.5 91.6 101.5 91.8 102.5 92.0 103.5 92.3 104.5 92.6 105.5 92.8 106.5 93.1 107.5 93.4 108.5 93.8 109.5 94.1 110.5 94.4 111.5 94.7 112.5 95.1 113.5 95.4 114.5 95.7 115.5 96.1 116.5 96.4 117.5 96.8 118.5 97.1 119.5 97.5 120.5 97.9 121.5 98.2 122.5 98.6 123.5 99.0 124.5 99.3 125.5 99.7 126.5 100.1 127.5 100.5 128.5 100.9 129.5 101.3 130.5 101.8 131.5 102.2 132.5 102.6 133.5 103.1 134.5 103.5 135.5 104.0 136.5 104.4 137.5 104.9 138.5 105.4 139.5 105.9 140.5 106.4 141.5 106.9 142.5 107.4 143.5 107.9 144.5 108.4 145.5 108.9 146.5 109.4 147.5 110.0 148.5 110.5 149.5 111.0 150.5 111.6 151.5 112.1 152.5 112.7 153.5 113.3 154.5 113.8 155.5 114.4 156.5 115.0 157.5 115.6 158.5 116.1 159.5 116.7 160.5 117.3 161.5 117.8 162.5 118.4 163.5 118.9 164.5 119.5 165.5 120.1 166.5 120.6 167.5 121.2 168.5 121.8 169.5 122.3 170.5 122.9 171.5 123.4 172.5 123.9 173.5 124.5 174.5 125.0 175.5 125.5 176.5 126.1 177.5 126.6 178.5 127.1 179.5 127.6 180.5 128.1 181.5 128.6 182.5 129.1 183.5 129.5 184.5 129.9 185.5 130.3 186.5 130.7 187.5 131.1 188.5 131.4 189.5 131.7 190.5 132.0 191.5 132.3 192.5 132.6 193.5 132.9 194.5 133.1 195.5 133.4 196.5 133.6 197.5 133.8 198.5 134.0 199.5 134.2 200.5 134.4 201.5 134.7 202.5 134.9 203.5 135.1 204.5 135.2 205.5 135.3 206.5 135.2 207.5 135.1 208.5 134.8 209.5 134.6 210.5 134.3 211.5 134.1 212.5 133.8 213.5 133.5 214.5 133.3 215.5 132.9 216.5 132.6 217.5 132.3 218.5 131.9 219.5 131.5 220.5 131.1 221.5 130.7 222.5 130.2 223.5 129.7 224.5 129.3 225.5 128.7 226.5 128.2 227.5 127.7 228.5 127.1 229.5 126.5 230.5 125.9 231.5 125.2 232.5 124.6 233.5 123.9 234.5 123.2 235.5 122.5 236.5 121.8 237.5 121.0 238.5 120.2 239.5 119.4 240.5 118.5 241.5 117.6 242.5 116.6 243.5 115.6 244.5 114.6 245.5 113.6 246.5 112.5 247.5 111.3 248.5 110.2 249.5 109.0 250.5 107.8 251.5 106.6 252.5 105.4 253.5 104.2 254.5 102.9 255.5 101.7 256.5 100.4 257.5 99.1 258.5 97.8 259.5 96.5 260.5 95.2 261.5 93.8 262.5 92.5 263.5 91.2 264.5 89.9 265.5 88.6 266.5 87.3 267.5 86.1 268.5 84.9 269.5 83.7 270.5 82.4 271.5 81.2 272.5 80.0 273.5 78.8 274.5 77.7 275.5 76.6 276.5 75.5 277.5 74.5 278.5 73.6 279.5 72.7 280.5 71.8 281.5 70.9 282.5 70.0 283.5 69.2 284.5 68.4 285.5 67.6 286.5 66.9 287.5 66.3 288.5 65.7 289.5 65.2 290.5 64.8 291.5 64.5 292.5 64.2 293.5 64.0 294.5 63.9 295.5 63.9 296.5 63.9 297.5 64.0 298.5 64.2 299.5 64.4 300.5 64.7 301.5 65.2 302.5 65.7 303.5 66.4 304.5 67.1 305.5 67.8 306.5 68.7 307.5 69.8 308.5 70.9 309.5 72.0 310.5 73.1 311.5 74.3 312.5 75.5 313.5 77.0 314.5 78.6 315.5 80.5 316.5 82.6 317.5 85.1 318.5 86.0"/><path d="M37.5 86.2 38.5 83.8 39.5 82.5 40.5 81.6 41.5 80.8 42.5 80.3 43.5 79.9 44.5 79.5 45.5 79.0 46.5 78.6 47.5 78.3 48.5 78.0 49.5 77.7 50.5 77.6 51.5 77.4 52.5 77.3 53.5 77.2 54.5 77.2 55.5 77.1 56.5 77.0 57.5 77.0 58.5 76.9 59.5 76.9 60.5 76.8 61.5 76.8 62.5 76.7 63.5 76.6 64.5 76.6 65.5 76.5 66.5 76.5 67.5 76.4 68.5 76.4 69.5 76.3 70.5 76.3 71.5 76.2 72.5 76.2 73.5 76.1 74.5 76.1 75.5 76.0 76.5 75.9 77.5 75.9 78.5 75.8 79.5 75.7 80.5 75.7 81.5 75.6 82.5 75.6 83.5 75.5 84.5 75.5 85.5 75.4 86.5 75.4 87.5 75.3 88.5 75.3 89.5 75.2 90.5 75.2 91.5 75.1 92.5 75.0 93.5 75.0 94.5 74.9 95.5 74.9 96.5 74.9 97.5 74.9 98.5 74.9 99.5 74.9 100.5 74.9 101.5 74.9 102.5 74.9 103.5 74.9 104.5 74.9 105.5 74.9 106.5 74.9 107.5 74.9 108.5 74.9 109.5 74.9 110.5 74.9 111.5 75.0 112.5 75.0 113.5 75.1 114.5 75.1 115.5 75.2 116.5 75.3 117.5 75.4 118.5 75.5 119.5 75.6 120.5 75.8 121.5 75.9 122.5 76.0 123.5 76.2 124.5 76.4 125.5 76.6 126.5 76.7 127.5 76.9 128.5 77.1 129.5 77.3 130.5 77.5 131.5 77.8 132.5 78.0 133.5 78.2 134.5 78.5 135.5 78.7 136.5 79.0 137.5 79.3 138.5 79.5 139.5 79.8 140.5 80.1 141.5 80.4 142.5 80.8 143.5 81.1 144.5 81.4 145.5 81.8 146.5 82.2 147.5 82.5 148.5 82.9 149.5 83.3 150.5 83.7 151.5 84.2 152.5 84.6 153.5 85.0 154.5 85.5 155.5 86.0 156.5 86.4 157.5 86.9 158.5 87.4 159.5 88.0 160.5 88.5 161.5 89.1 162.5 89.6 163.5 90.2 164.5 90.8 165.5 91.4 166.5 92.0 167.5 92.6 168.5 93.2 169.5 93.9 170.5 94.5 171.5 95.2 172.5 95.8 173.5 96.5 174.5 97.2 175.5 97.9 176.5 98.6 177.5 99.3 178.5 100.0 179.5 100.7 180.5 101.4 181.5 102.2 182.5 102.9 183.5 103.6 184.5 104.3 185.5 105.0 186.5 105.7 187.5 106.4 188.5 107.1 189.5 107.9 190.5 108.6 191.5 109.3 192.5 110.0 193.5 110.7 194.5 111.4 195.5 112.1 196.5 112.8 197.5 113.5 198.5 114.2 199.5 114.9 200.5 115.6 201.5 116.3 202.5 117.0 203.5 117.8 204.5 118.4 205.5 119.1 206.5 119.7 207.5 120.1 208.5 120.6 209.5 121.0 210.5 121.4 211.5 121.8 212.5 122.2 213.5 122.6 214.5 123.0 215.5 123.3 216.5 123.7 217.5 124.0 218.5 124.3 219.5 124.6 220.5 124.9 221.5 125.1 222.5 125.3 223.5 125.6 224.5 125.8 225.5 125.9 226.5 126.1 227.5 126.3 228.5 126.4 229.5 126.5 230.5 126.6 231.5 126.7 232.5 126.7 233.5 126.7 234.5 126.7 235.5 126.7 236.5 126.7 237.5 126.6 238.5 126.5 239.5 126.4 240.5 126.2 241.5 126.0 242.5 125.7 243.5 125.4 244.5 125.0 245.5 124.6 246.5 124.1 247.5 123.6 248.5 123.0 249.5 122.4 250.5 121.8 251.5 121.2 252.5 120.5 253.5 119.8 254.5 119.1 255.5 118.4 256.5 117.5 257.5 116.7 258.5 115.8 259.5 114.9 260.5 114.0 261.5 113.1 262.5 112.2 263.5 111.3 264.5 110.3 265.5 109.4 266.5 108.4 267.5 107.5 268.5 106.6 269.5 105.6 270.5 104.7 271.5 103.8 272.5 102.8 273.5 101.9 274.5 101.0 275.5 100.0 276.5 99.1 277.5 98.2 278.5 97.4 279.5 96.5 280.5 95.6 281.5 94.7 282.5 93.8 283.5 92.9 284.5 92.0 285.5 91.1 286.5 90.3 287.5 89.5 288.5 88.7 289.5 88.0 290.5 87.4 291.5 86.8 292.5 86.3 293.5 85.9 294.5 85.5 295.5 85.1 296.5 84.8 297.5 84.5 298.5 84.2 299.5 84.0 300.5 83.8 301.5 83.6 302.5 83.5 303.5 83.4 304.5 83.4 305.5 83.4 306.5 83.4 307.5 83.5 308.5 83.6 309.5 83.7 310.5 83.9 311.5 84.0 312.5 84.2 313.5 84.4 314.5 84.7 315.5 85.1 316.5 85.5 317.5 86.0 318.5 86.2"/></g>
<g fill="none" stroke="#d8393b" stroke-width="1.4" stroke-dasharray="4.5 3.3"><path d="M37.5 86.2 38.5 83.3 39.5 81.8 40.5 80.6 41.5 79.7 42.5 79.1 43.5 78.5 44.5 77.9 45.5 77.3 46.5 76.7 47.5 76.3 48.5 75.9 49.5 75.5 50.5 75.2 51.5 75.0 52.5 74.8 53.5 74.6 54.5 74.4 55.5 74.3 56.5 74.1 57.5 74.0 58.5 73.8 59.5 73.6 60.5 73.5 61.5 73.3 62.5 73.1 63.5 73.0 64.5 72.8 65.5 72.6 66.5 72.5 67.5 72.3 68.5 72.1 69.5 71.9 70.5 71.7 71.5 71.5 72.5 71.3 73.5 71.1 74.5 70.9 75.5 70.7 76.5 70.4 77.5 70.2 78.5 69.9 79.5 69.7 80.5 69.4 81.5 69.2 82.5 69.0 83.5 68.7 84.5 68.5 85.5 68.2 86.5 68.0 87.5 67.7 88.5 67.5 89.5 67.2 90.5 66.8 91.5 66.5 92.5 66.2 93.5 65.8 94.5 65.5 95.5 65.2 96.5 64.9 97.5 64.6 98.5 64.4 99.5 64.1 100.5 63.8 101.5 63.6 102.5 63.3 103.5 63.0 104.5 62.6 105.5 62.3 106.5 61.9 107.5 61.5 108.5 61.1 109.5 60.7 110.5 60.3 111.5 59.9 112.5 59.6 113.5 59.2 114.5 58.9 115.5 58.5 116.5 58.2 117.5 57.8 118.5 57.5 119.5 57.2 120.5 56.9 121.5 56.6 122.5 56.3 123.5 56.0 124.5 55.7 125.5 55.4 126.5 55.1 127.5 54.8 128.5 54.5 129.5 54.1 130.5 53.8 131.5 53.5 132.5 53.2 133.5 52.9 134.5 52.5 135.5 52.2 136.5 51.9 137.5 51.6 138.5 51.2 139.5 50.9 140.5 50.5 141.5 50.2 142.5 49.9 143.5 49.5 144.5 49.2 145.5 48.8 146.5 48.5 147.5 48.2 148.5 47.8 149.5 47.5 150.5 47.2 151.5 46.8 152.5 46.5 153.5 46.1 154.5 45.8 155.5 45.4 156.5 45.1 157.5 44.8 158.5 44.5 159.5 44.2 160.5 43.9 161.5 43.6 162.5 43.3 163.5 43.0 164.5 42.8 165.5 42.5 166.5 42.2 167.5 42.0 168.5 41.7 169.5 41.5 170.5 41.2 171.5 41.0 172.5 40.7 173.5 40.5 174.5 40.3 175.5 40.0 176.5 39.8 177.5 39.6 178.5 39.3 179.5 39.1 180.5 38.9 181.5 38.7 182.5 38.5 183.5 38.3 184.5 38.2 185.5 38.0 186.5 37.9 187.5 37.8 188.5 37.7 189.5 37.6 190.5 37.5 191.5 37.4 192.5 37.3 193.5 37.3 194.5 37.2 195.5 37.1 196.5 37.1 197.5 37.0 198.5 36.9 199.5 36.8 200.5 36.8 201.5 36.6 202.5 36.5 203.5 36.4 204.5 36.3 205.5 36.3 206.5 36.4 207.5 36.6 208.5 36.9 209.5 37.1 210.5 37.3 211.5 37.5 212.5 37.7 213.5 37.9 214.5 38.2 215.5 38.4 216.5 38.6 217.5 38.8 218.5 39.1 219.5 39.3 220.5 39.6 221.5 39.8 222.5 40.1 223.5 40.3 224.5 40.6 225.5 40.8 226.5 41.1 227.5 41.4 228.5 41.6 229.5 41.9 230.5 42.2 231.5 42.5 232.5 42.8 233.5 43.0 234.5 43.3 235.5 43.6 236.5 43.9 237.5 44.2 238.5 44.5 239.5 44.8 240.5 45.2 241.5 45.5 242.5 45.9 243.5 46.3 244.5 46.8 245.5 47.2 246.5 47.7 247.5 48.2 248.5 48.7 249.5 49.2 250.5 49.7 251.5 50.1 252.5 50.6 253.5 51.0 254.5 51.5 255.5 51.9 256.5 52.4 257.5 52.8 258.5 53.3 259.5 53.7 260.5 54.0 261.5 54.4 262.5 54.6 263.5 54.9 264.5 55.1 265.5 55.2 266.5 55.4 267.5 55.5 268.5 55.6 269.5 55.6 270.5 55.6 271.5 55.5 272.5 55.4 273.5 55.3 274.5 55.1 275.5 55.0 276.5 54.9 277.5 54.8 278.5 54.7 279.5 54.6 280.5 54.5 281.5 54.4 282.5 54.3 283.5 54.3 284.5 54.2 285.5 54.1 286.5 54.1 287.5 54.1 288.5 54.1 289.5 54.2 290.5 54.3 291.5 54.4 292.5 54.5 293.5 54.7 294.5 54.9 295.5 55.2 296.5 55.6 297.5 56.0 298.5 56.5 299.5 57.0 300.5 57.7 301.5 58.5 302.5 59.4 303.5 60.4 304.5 61.4 305.5 62.5 306.5 63.7 307.5 65.2 308.5 66.6 309.5 68.1 310.5 69.6 311.5 71.2 312.5 72.8 313.5 74.6 314.5 76.7 315.5 79.1 316.5 81.7 317.5 84.9 318.5 85.9"/><path d="M37.5 86.2 38.5 89.1 39.5 90.6 40.5 91.8 41.5 92.7 42.5 93.3 43.5 93.9 44.5 94.5 45.5 95.1 46.5 95.7 47.5 96.1 48.5 96.5 49.5 96.9 50.5 97.2 51.5 97.4 52.5 97.6 53.5 97.8 54.5 98.0 55.5 98.1 56.5 98.3 57.5 98.4 58.5 98.6 59.5 98.8 60.5 98.9 61.5 99.1 62.5 99.3 63.5 99.4 64.5 99.6 65.5 99.8 66.5 99.9 67.5 100.1 68.5 100.3 69.5 100.5 70.5 100.7 71.5 100.9 72.5 101.1 73.5 101.3 74.5 101.5 75.5 101.7 76.5 102.0 77.5 102.2 78.5 102.5 79.5 102.7 80.5 103.0 81.5 103.2 82.5 103.4 83.5 103.7 84.5 103.9 85.5 104.2 86.5 104.4 87.5 104.7 88.5 104.9 89.5 105.2 90.5 105.6 91.5 105.9 92.5 106.2 93.5 106.6 94.5 106.9 95.5 107.2 96.5 107.5 97.5 107.8 98.5 108.0 99.5 108.3 100.5 108.6 101.5 108.8 102.5 109.1 103.5 109.4 104.5 109.8 105.5 110.1 106.5 110.5 107.5 110.9 108.5 111.3 109.5 111.7 110.5 112.1 111.5 112.5 112.5 112.8 113.5 113.2 114.5 113.5 115.5 113.9 116.5 114.2 117.5 114.6 118.5 114.9 119.5 115.2 120.5 115.5 121.5 115.8 122.5 116.1 123.5 116.4 124.5 116.7 125.5 117.0 126.5 117.3 127.5 117.6 128.5 117.9 129.5 118.3 130.5 118.6 131.5 118.9 132.5 119.2 133.5 119.5 134.5 119.9 135.5 120.2 136.5 120.5 137.5 120.8 138.5 121.2 139.5 121.5 140.5 121.9 141.5 122.2 142.5 122.5 143.5 122.9 144.5 123.2 145.5 123.6 146.5 123.9 147.5 124.2 148.5 124.6 149.5 124.9 150.5 125.2 151.5 125.6 152.5 125.9 153.5 126.3 154.5 126.6 155.5 127.0 156.5 127.3 157.5 127.6 158.5 127.9 159.5 128.2 160.5 128.5 161.5 128.8 162.5 129.1 163.5 129.4 164.5 129.6 165.5 129.9 166.5 130.2 167.5 130.4 168.5 130.7 169.5 130.9 170.5 131.2 171.5 131.4 172.5 131.7 173.5 131.9 174.5 132.1 175.5 132.4 176.5 132.6 177.5 132.8 178.5 133.1 179.5 133.3 180.5 133.5 181.5 133.7 182.5 133.9 183.5 134.1 184.5 134.2 185.5 134.4 186.5 134.5 187.5 134.6 188.5 134.7 189.5 134.8 190.5 134.9 191.5 135.0 192.5 135.1 193.5 135.1 194.5 135.2 195.5 135.3 196.5 135.3 197.5 135.4 198.5 135.5 199.5 135.6 200.5 135.6 201.5 135.8 202.5 135.9 203.5 136.0 204.5 136.1 205.5 136.1 206.5 136.0 207.5 135.8 208.5 135.5 209.5 135.3 210.5 135.1 211.5 134.9 212.5 134.7 213.5 134.5 214.5 134.2 215.5 134.0 216.5 133.8 217.5 133.6 218.5 133.3 219.5 133.1 220.5 132.8 221.5 132.6 222.5 132.3 223.5 132.1 224.5 131.8 225.5 131.6 226.5 131.3 227.5 131.0 228.5 130.8 229.5 130.5 230.5 130.2 231.5 129.9 232.5 129.6 233.5 129.4 234.5 129.1 235.5 128.8 236.5 128.5 237.5 128.2 238.5 127.9 239.5 127.6 240.5 127.2 241.5 126.9 242.5 126.5 243.5 126.1 244.5 125.6 245.5 125.2 246.5 124.7 247.5 124.2 248.5 123.7 249.5 123.2 250.5 122.7 251.5 122.3 252.5 121.8 253.5 121.4 254.5 120.9 255.5 120.5 256.5 120.0 257.5 119.6 258.5 119.1 259.5 118.7 260.5 118.4 261.5 118.0 262.5 117.8 263.5 117.5 264.5 117.3 265.5 117.2 266.5 117.0 267.5 116.9 268.5 116.8 269.5 116.8 270.5 116.8 271.5 116.9 272.5 117.0 273.5 117.1 274.5 117.3 275.5 117.4 276.5 117.5 277.5 117.6 278.5 117.7 279.5 117.8 280.5 117.9 281.5 118.0 282.5 118.1 283.5 118.1 284.5 118.2 285.5 118.3 286.5 118.3 287.5 118.3 288.5 118.3 289.5 118.2 290.5 118.1 291.5 118.0 292.5 117.9 293.5 117.7 294.5 117.5 295.5 117.2 296.5 116.8 297.5 116.4 298.5 115.9 299.5 115.4 300.5 114.7 301.5 113.9 302.5 113.0 303.5 112.0 304.5 111.0 305.5 109.9 306.5 108.7 307.5 107.2 308.5 105.8 309.5 104.3 310.5 102.8 311.5 101.2 312.5 99.6 313.5 97.8 314.5 95.7 315.5 93.3 316.5 90.7 317.5 87.5 318.5 86.5"/></g>
<circle cx="205.7" cy="36.2" r="2.4" fill="#0000ff"/>
<rect x="37.5" y="3.4" width="281.9" height="165.1" fill="none" stroke="#5a5a5a" stroke-width="1.2"/>
<path d="M37.5 168.5h2.5M319.4 168.5h-2.5M37.5 141.0h2.5M319.4 141.0h-2.5M37.5 113.5h2.5M319.4 113.5h-2.5M37.5 85.9h2.5M319.4 85.9h-2.5M37.5 58.4h2.5M319.4 58.4h-2.5M37.5 30.9h2.5M319.4 30.9h-2.5M37.5 3.4h2.5M319.4 3.4h-2.5M37.5 168.5v-2.5M37.5 3.4v2.5M131.5 168.5v-2.5M131.5 3.4v2.5M225.4 168.5v-2.5M225.4 3.4v2.5M319.4 168.5v-2.5M319.4 3.4v2.5" stroke="#5a5a5a" stroke-width="1" fill="none"/>
<polygon points="164.6,124.1 169.7,122.4 240.0,139.6 270.0,147.6 318.3,161.8 299.6,170.4 270.0,159.6 257.0,156.2 232.7,148.3 190.0,132.6 166.0,125.6" fill="url(#lga)"/>
<g clip-path="url(#pca)">
<ellipse cx="195" cy="128.5" rx="32" ry="3.2" transform="rotate(15 195 128.5)" fill="url(#glt)"/>
<ellipse cx="244" cy="150" rx="50" ry="9" transform="rotate(15 244 150)" fill="url(#gcy)"/>
<ellipse cx="254" cy="154.3" rx="30" ry="5.8" transform="rotate(16 254 154.3)" fill="url(#gbl)"/>
<ellipse cx="296" cy="160.5" rx="15" ry="6.5" transform="rotate(14 296 160.5)" fill="url(#gye)"/>
</g>
<text x="35.5" y="172.8" font-size="10.4" text-anchor="end" fill="#333333" >-0.6</text>
<text x="35.5" y="145.1" font-size="10.4" text-anchor="end" fill="#333333" >-0.4</text>
<text x="35.5" y="118.6" font-size="10.4" text-anchor="end" fill="#333333" >-0.2</text>
<text x="33.8" y="92.8" font-size="10.4" text-anchor="end" fill="#333333" >0</text>
<text x="36.8" y="64.0" font-size="10.4" text-anchor="end" fill="#333333" >0.2</text>
<text x="36.8" y="37.0" font-size="10.4" text-anchor="end" fill="#333333" >0.4</text>
<text x="36.8" y="8.7" font-size="10.4" text-anchor="end" fill="#333333" >0.6</text>
<text x="37.8" y="184.8" font-size="10.4" text-anchor="middle" fill="#333333" >0</text>
<text x="131.8" y="184.8" font-size="10.4" text-anchor="middle" fill="#333333" >50</text>
<text x="226.6" y="184.8" font-size="10.4" text-anchor="middle" fill="#333333" >100</text>
<text x="320.6" y="184.8" font-size="10.4" text-anchor="middle" fill="#333333" >150</text>
<text transform="translate(72.2,201.5) scale(0.966,1)" font-size="17" fill="#333333" stroke="#333333" stroke-width="0.25" >Distance from the base (mm)</text>
<text transform="translate(14.7,149.5) rotate(-90) scale(0.964,1)" font-size="17" fill="#333333" stroke="#333333" stroke-width="0.25" >Displacement (mm)</text>
<text x="262.3" y="24.2" font-size="20.5" font-weight="bold" fill="#111" >a</text>
<text transform="translate(281.0,22.8) scale(1.045,1)" font-size="14" fill="#1a1a1a">25 Hz</text>
<line x1="367.0" y1="85.7" x2="649.1" y2="85.7" stroke="#d2d2d2" stroke-width="1.2"/>
<g fill="none" stroke="#2766a6" stroke-width="1.25" stroke-linejoin="round"><path d="M367.0 85.7 368.0 78.9 369.0 76.4 370.0 75.3 371.0 74.1 372.0 72.6 373.0 71.0 374.0 69.8 375.0 69.3 376.0 68.8 377.0 68.5 378.0 68.2 379.0 67.9 380.0 67.7 381.0 67.4 382.0 67.2 383.0 66.9 384.0 66.6 385.0 66.3 386.0 66.0 387.0 65.7 388.0 65.4 389.0 65.1 390.0 64.8 391.0 64.5 392.0 64.2 393.0 63.9 394.0 63.7 395.0 63.4 396.0 63.1 397.0 62.8 398.0 62.5 399.0 62.2 400.0 62.0 401.0 61.7 402.0 61.4 403.0 61.2 404.0 60.9 405.0 60.6 406.0 60.4 407.0 60.1 408.0 59.9 409.0 59.6 410.0 59.4 411.0 59.2 412.0 59.0 413.0 58.8 414.0 58.6 415.0 58.4 416.0 58.2 417.0 58.0 418.0 57.8 419.0 57.7 420.0 57.5 421.0 57.4 422.0 57.2 423.0 57.1 424.0 57.0 425.0 56.9 426.0 56.8 427.0 56.7 428.0 56.6 429.0 56.5 430.0 56.4 431.0 56.3 432.0 56.2 433.0 56.1 434.0 56.0 435.0 55.9 436.0 55.9 437.0 55.9 438.0 55.9 439.0 56.0 440.0 56.1 441.0 56.2 442.0 56.3 443.0 56.5 444.0 56.7 445.0 56.9 446.0 57.1 447.0 57.4 448.0 57.7 449.0 58.0 450.0 58.4 451.0 58.7 452.0 59.1 453.0 59.5 454.0 59.9 455.0 60.3 456.0 60.7 457.0 61.2 458.0 61.6 459.0 62.1 460.0 62.6 461.0 63.0 462.0 63.6 463.0 64.1 464.0 64.6 465.0 65.2 466.0 65.7 467.0 66.3 468.0 66.9 469.0 67.5 470.0 68.1 471.0 68.8 472.0 69.4 473.0 70.1 474.0 70.8 475.0 71.5 476.0 72.2 477.0 72.9 478.0 73.7 479.0 74.4 480.0 75.2 481.0 76.0 482.0 76.8 483.0 77.6 484.0 78.5 485.0 79.3 486.0 80.2 487.0 81.0 488.0 81.8 489.0 82.7 490.0 83.5 491.0 84.4 492.0 85.2 493.0 86.0 494.0 86.9 495.0 87.7 496.0 88.6 497.0 89.4 498.0 90.3 499.0 91.1 500.0 91.9 501.0 92.7 502.0 93.6 503.0 94.4 504.0 95.1 505.0 95.9 506.0 96.7 507.0 97.4 508.0 98.1 509.0 98.8 510.0 99.5 511.0 100.2 512.0 100.9 513.0 101.5 514.0 102.1 515.0 102.7 516.0 103.3 517.0 103.9 518.0 104.4 519.0 105.0 520.0 105.5 521.0 106.0 522.0 106.5 523.0 106.9 524.0 107.4 525.0 107.8 526.0 108.2 527.0 108.5 528.0 108.9 529.0 109.2 530.0 109.4 531.0 109.7 532.0 109.9 533.0 110.1 534.0 110.2 535.0 110.3 536.0 110.4 537.0 110.4 538.0 110.3 539.0 110.3 540.0 110.2 541.0 110.2 542.0 110.1 543.0 109.9 544.0 109.8 545.0 109.6 546.0 109.4 547.0 109.2 548.0 109.0 549.0 108.7 550.0 108.4 551.0 108.2 552.0 107.9 553.0 107.5 554.0 107.2 555.0 106.9 556.0 106.5 557.0 106.2 558.0 105.9 559.0 105.5 560.0 105.2 561.0 104.9 562.0 104.5 563.0 104.2 564.0 103.8 565.0 103.5 566.0 103.2 567.0 102.8 568.0 102.4 569.0 102.1 570.0 101.7 571.0 101.4 572.0 101.0 573.0 100.6 574.0 100.3 575.0 99.9 576.0 99.5 577.0 99.2 578.0 98.8 579.0 98.4 580.0 98.0 581.0 97.6 582.0 97.2 583.0 96.8 584.0 96.4 585.0 96.0 586.0 95.6 587.0 95.2 588.0 94.9 589.0 94.5 590.0 94.1 591.0 93.7 592.0 93.4 593.0 93.0 594.0 92.7 595.0 92.4 596.0 92.1 597.0 91.8 598.0 91.5 599.0 91.2 600.0 91.0 601.0 90.7 602.0 90.5 603.0 90.2 604.0 90.0 605.0 89.7 606.0 89.5 607.0 89.2 608.0 89.0 609.0 88.8 610.0 88.5 611.0 88.3 612.0 88.1 613.0 87.9 614.0 87.7 615.0 87.5 616.0 87.3 617.0 87.1 618.0 87.0 619.0 86.8 620.0 86.7 621.0 86.5 622.0 86.4 623.0 86.3 624.0 86.2 625.0 86.1 626.0 86.0 627.0 85.9 628.0 85.8 629.0 85.8 630.0 85.7 631.0 85.6 632.0 85.6 633.0 85.6 634.0 85.5 635.0 85.5 636.0 85.5 637.0 85.4 638.0 85.4 639.0 85.4 640.0 85.4 641.0 85.4 642.0 85.4 643.0 85.4 644.0 85.5 645.0 85.5 646.0 85.6 647.0 85.6 648.0 85.7 649.0 85.7"/><path d="M367.0 85.7 368.0 80.8 369.0 79.0 370.0 78.1 371.0 77.2 372.0 75.9 373.0 74.7 374.0 73.7 375.0 73.2 376.0 72.7 377.0 72.3 378.0 71.9 379.0 71.6 380.0 71.3 381.0 70.9 382.0 70.6 383.0 70.3 384.0 69.9 385.0 69.5 386.0 69.1 387.0 68.7 388.0 68.3 389.0 67.9 390.0 67.5 391.0 67.1 392.0 66.7 393.0 66.2 394.0 65.8 395.0 65.4 396.0 64.9 397.0 64.5 398.0 64.1 399.0 63.6 400.0 63.2 401.0 62.7 402.0 62.3 403.0 61.8 404.0 61.4 405.0 60.9 406.0 60.4 407.0 60.0 408.0 59.5 409.0 59.0 410.0 58.5 411.0 58.1 412.0 57.6 413.0 57.1 414.0 56.7 415.0 56.2 416.0 55.7 417.0 55.3 418.0 54.8 419.0 54.4 420.0 53.9 421.0 53.4 422.0 53.0 423.0 52.5 424.0 52.1 425.0 51.6 426.0 51.2 427.0 50.7 428.0 50.3 429.0 49.8 430.0 49.3 431.0 48.8 432.0 48.3 433.0 47.8 434.0 47.3 435.0 46.8 436.0 46.3 437.0 45.8 438.0 45.4 439.0 45.1 440.0 44.7 441.0 44.4 442.0 44.1 443.0 43.8 444.0 43.5 445.0 43.2 446.0 43.0 447.0 42.8 448.0 42.6 449.0 42.5 450.0 42.4 451.0 42.3 452.0 42.2 453.0 42.1 454.0 42.1 455.0 42.0 456.0 42.0 457.0 41.9 458.0 41.9 459.0 41.8 460.0 41.8 461.0 41.8 462.0 41.8 463.0 41.9 464.0 41.9 465.0 42.0 466.0 42.1 467.0 42.2 468.0 42.3 469.0 42.4 470.0 42.6 471.0 42.8 472.0 43.0 473.0 43.2 474.0 43.5 475.0 43.7 476.0 44.0 477.0 44.3 478.0 44.6 479.0 45.0 480.0 45.4 481.0 45.9 482.0 46.4 483.0 46.9 484.0 47.5 485.0 48.1 486.0 48.7 487.0 49.3 488.0 49.9 489.0 50.6 490.0 51.2 491.0 51.9 492.0 52.5 493.0 53.2 494.0 53.9 495.0 54.6 496.0 55.4 497.0 56.2 498.0 57.0 499.0 57.8 500.0 58.7 501.0 59.5 502.0 60.4 503.0 61.3 504.0 62.2 505.0 63.1 506.0 64.0 507.0 64.9 508.0 65.8 509.0 66.7 510.0 67.6 511.0 68.5 512.0 69.3 513.0 70.2 514.0 71.1 515.0 71.9 516.0 72.8 517.0 73.7 518.0 74.5 519.0 75.3 520.0 76.2 521.0 77.0 522.0 77.8 523.0 78.7 524.0 79.5 525.0 80.3 526.0 81.1 527.0 81.9 528.0 82.7 529.0 83.4 530.0 84.2 531.0 85.0 532.0 85.7 533.0 86.4 534.0 87.2 535.0 87.9 536.0 88.5 537.0 89.2 538.0 89.8 539.0 90.5 540.0 91.1 541.0 91.6 542.0 92.2 543.0 92.7 544.0 93.1 545.0 93.6 546.0 94.0 547.0 94.4 548.0 94.7 549.0 95.1 550.0 95.4 551.0 95.6 552.0 95.8 553.0 96.0 554.0 96.2 555.0 96.4 556.0 96.5 557.0 96.7 558.0 96.8 559.0 96.9 560.0 97.0 561.0 97.0 562.0 97.1 563.0 97.2 564.0 97.2 565.0 97.2 566.0 97.3 567.0 97.3 568.0 97.3 569.0 97.3 570.0 97.3 571.0 97.3 572.0 97.3 573.0 97.3 574.0 97.2 575.0 97.2 576.0 97.1 577.0 97.1 578.0 97.0 579.0 96.9 580.0 96.8 581.0 96.7 582.0 96.5 583.0 96.4 584.0 96.2 585.0 96.0 586.0 95.8 587.0 95.7 588.0 95.5 589.0 95.3 590.0 95.1 591.0 94.9 592.0 94.6 593.0 94.4 594.0 94.2 595.0 94.0 596.0 93.8 597.0 93.7 598.0 93.5 599.0 93.3 600.0 93.2 601.0 93.0 602.0 92.8 603.0 92.6 604.0 92.5 605.0 92.3 606.0 92.1 607.0 91.8 608.0 91.6 609.0 91.4 610.0 91.2 611.0 90.9 612.0 90.7 613.0 90.5 614.0 90.2 615.0 90.0 616.0 89.8 617.0 89.6 618.0 89.4 619.0 89.2 620.0 89.0 621.0 88.8 622.0 88.6 623.0 88.4 624.0 88.3 625.0 88.1 626.0 88.0 627.0 87.8 628.0 87.7 629.0 87.6 630.0 87.4 631.0 87.3 632.0 87.2 633.0 87.1 634.0 87.0 635.0 86.9 636.0 86.9 637.0 86.8 638.0 86.7 639.0 86.6 640.0 86.5 641.0 86.4 642.0 86.3 643.0 86.2 644.0 86.1 645.0 86.0 646.0 85.9 647.0 85.8 648.0 85.7 649.0 85.7"/><path d="M367.0 85.7 368.0 85.6 369.0 85.5 370.0 85.4 371.0 85.2 372.0 85.0 373.0 84.8 374.0 84.6 375.0 84.4 376.0 84.2 377.0 84.0 378.0 83.7 379.0 83.5 380.0 83.3 381.0 83.1 382.0 82.9 383.0 82.7 384.0 82.4 385.0 82.2 386.0 81.9 387.0 81.6 388.0 81.4 389.0 81.1 390.0 80.8 391.0 80.5 392.0 80.2 393.0 79.9 394.0 79.6 395.0 79.3 396.0 79.0 397.0 78.6 398.0 78.3 399.0 78.0 400.0 77.6 401.0 77.2 402.0 76.9 403.0 76.5 404.0 76.1 405.0 75.7 406.0 75.3 407.0 74.9 408.0 74.4 409.0 74.0 410.0 73.6 411.0 73.1 412.0 72.7 413.0 72.2 414.0 71.8 415.0 71.3 416.0 70.8 417.0 70.4 418.0 69.9 419.0 69.4 420.0 68.9 421.0 68.4 422.0 67.9 423.0 67.4 424.0 66.9 425.0 66.4 426.0 65.8 427.0 65.3 428.0 64.7 429.0 64.2 430.0 63.6 431.0 63.0 432.0 62.4 433.0 61.7 434.0 61.1 435.0 60.4 436.0 59.8 437.0 59.2 438.0 58.5 439.0 58.0 440.0 57.4 441.0 56.8 442.0 56.2 443.0 55.6 444.0 55.0 445.0 54.5 446.0 53.9 447.0 53.3 448.0 52.8 449.0 52.3 450.0 51.8 451.0 51.3 452.0 50.8 453.0 50.3 454.0 49.8 455.0 49.3 456.0 48.8 457.0 48.3 458.0 47.8 459.0 47.3 460.0 46.8 461.0 46.3 462.0 45.8 463.0 45.3 464.0 44.9 465.0 44.4 466.0 44.0 467.0 43.5 468.0 43.1 469.0 42.7 470.0 42.3 471.0 42.0 472.0 41.6 473.0 41.2 474.0 40.9 475.0 40.6 476.0 40.2 477.0 39.9 478.0 39.6 479.0 39.4 480.0 39.2 481.0 39.1 482.0 39.0 483.0 38.9 484.0 38.9 485.0 38.9 486.0 39.0 487.0 39.0 488.0 39.0 489.0 39.0 490.0 39.1 491.0 39.2 492.0 39.3 493.0 39.4 494.0 39.6 495.0 39.7 496.0 40.0 497.0 40.2 498.0 40.6 499.0 40.9 500.0 41.3 501.0 41.7 502.0 42.1 503.0 42.5 504.0 43.0 505.0 43.5 506.0 44.0 507.0 44.6 508.0 45.1 509.0 45.7 510.0 46.2 511.0 46.8 512.0 47.4 513.0 48.0 514.0 48.6 515.0 49.2 516.0 49.8 517.0 50.5 518.0 51.1 519.0 51.8 520.0 52.4 521.0 53.1 522.0 53.8 523.0 54.5 524.0 55.2 525.0 56.0 526.0 56.7 527.0 57.5 528.0 58.2 529.0 59.0 530.0 59.8 531.0 60.7 532.0 61.5 533.0 62.3 534.0 63.2 535.0 64.1 536.0 65.1 537.0 66.0 538.0 66.9 539.0 67.8 540.0 68.7 541.0 69.6 542.0 70.5 543.0 71.3 544.0 72.1 545.0 73.0 546.0 73.7 547.0 74.5 548.0 75.2 549.0 75.9 550.0 76.6 551.0 77.3 552.0 77.9 553.0 78.5 554.0 79.1 555.0 79.6 556.0 80.2 557.0 80.7 558.0 81.2 559.0 81.7 560.0 82.1 561.0 82.6 562.0 83.0 563.0 83.4 564.0 83.8 565.0 84.2 566.0 84.6 567.0 85.0 568.0 85.4 569.0 85.7 570.0 86.1 571.0 86.4 572.0 86.8 573.0 87.1 574.0 87.4 575.0 87.7 576.0 88.0 577.0 88.3 578.0 88.6 579.0 88.8 580.0 89.1 581.0 89.3 582.0 89.5 583.0 89.7 584.0 89.8 585.0 90.0 586.0 90.1 587.0 90.2 588.0 90.3 589.0 90.4 590.0 90.5 591.0 90.6 592.0 90.7 593.0 90.7 594.0 90.8 595.0 90.8 596.0 90.8 597.0 90.9 598.0 90.9 599.0 90.9 600.0 91.0 601.0 91.0 602.0 91.0 603.0 91.0 604.0 91.0 605.0 91.0 606.0 90.9 607.0 90.9 608.0 90.8 609.0 90.7 610.0 90.6 611.0 90.5 612.0 90.4 613.0 90.3 614.0 90.1 615.0 90.0 616.0 89.9 617.0 89.8 618.0 89.6 619.0 89.5 620.0 89.4 621.0 89.3 622.0 89.1 623.0 89.0 624.0 88.9 625.0 88.7 626.0 88.6 627.0 88.5 628.0 88.4 629.0 88.3 630.0 88.2 631.0 88.1 632.0 88.0 633.0 87.9 634.0 87.8 635.0 87.7 636.0 87.6 637.0 87.5 638.0 87.3 639.0 87.2 640.0 87.1 641.0 87.0 642.0 86.8 643.0 86.7 644.0 86.5 645.0 86.3 646.0 86.1 647.0 85.9 648.0 85.8 649.0 85.7"/><path d="M367.0 85.7 368.0 90.5 369.0 92.1 370.0 92.8 371.0 93.5 372.0 94.5 373.0 95.5 374.0 96.1 375.0 96.4 376.0 96.5 377.0 96.7 378.0 96.7 379.0 96.8 380.0 96.8 381.0 96.8 382.0 96.8 383.0 96.8 384.0 96.9 385.0 96.9 386.0 97.0 387.0 97.0 388.0 97.0 389.0 97.0 390.0 97.0 391.0 97.0 392.0 97.0 393.0 97.0 394.0 97.0 395.0 97.0 396.0 96.9 397.0 96.9 398.0 96.9 399.0 96.8 400.0 96.8 401.0 96.7 402.0 96.6 403.0 96.5 404.0 96.4 405.0 96.3 406.0 96.2 407.0 96.1 408.0 96.0 409.0 95.9 410.0 95.7 411.0 95.6 412.0 95.4 413.0 95.2 414.0 95.0 415.0 94.9 416.0 94.7 417.0 94.4 418.0 94.2 419.0 94.0 420.0 93.8 421.0 93.5 422.0 93.2 423.0 93.0 424.0 92.7 425.0 92.4 426.0 92.1 427.0 91.8 428.0 91.5 429.0 91.1 430.0 90.8 431.0 90.4 432.0 90.1 433.0 89.7 434.0 89.3 435.0 88.9 436.0 88.5 437.0 88.0 438.0 87.6 439.0 87.1 440.0 86.6 441.0 86.1 442.0 85.6 443.0 85.1 444.0 84.5 445.0 84.0 446.0 83.4 447.0 82.8 448.0 82.2 449.0 81.6 450.0 81.0 451.0 80.4 452.0 79.8 453.0 79.2 454.0 78.5 455.0 77.9 456.0 77.2 457.0 76.6 458.0 75.9 459.0 75.2 460.0 74.5 461.0 73.9 462.0 73.2 463.0 72.4 464.0 71.7 465.0 71.0 466.0 70.3 467.0 69.6 468.0 68.9 469.0 68.2 470.0 67.5 471.0 66.7 472.0 66.0 473.0 65.3 474.0 64.6 475.0 63.8 476.0 63.1 477.0 62.4 478.0 61.6 479.0 60.9 480.0 60.2 481.0 59.6 482.0 58.9 483.0 58.3 484.0 57.7 485.0 57.2 486.0 56.6 487.0 56.0 488.0 55.4 489.0 54.9 490.0 54.3 491.0 53.8 492.0 53.2 493.0 52.7 494.0 52.2 495.0 51.8 496.0 51.3 497.0 50.9 498.0 50.5 499.0 50.2 500.0 49.9 501.0 49.6 502.0 49.3 503.0 49.1 504.0 48.8 505.0 48.6 506.0 48.5 507.0 48.3 508.0 48.2 509.0 48.1 510.0 48.0 511.0 48.0 512.0 47.9 513.0 47.9 514.0 47.9 515.0 47.9 516.0 47.9 517.0 47.9 518.0 48.0 519.0 48.1 520.0 48.2 521.0 48.3 522.0 48.5 523.0 48.6 524.0 48.8 525.0 49.1 526.0 49.3 527.0 49.6 528.0 49.9 529.0 50.2 530.0 50.6 531.0 51.0 532.0 51.5 533.0 51.9 534.0 52.4 535.0 53.0 536.0 53.7 537.0 54.3 538.0 55.0 539.0 55.7 540.0 56.3 541.0 57.0 542.0 57.7 543.0 58.4 544.0 59.1 545.0 59.8 546.0 60.5 547.0 61.2 548.0 61.8 549.0 62.5 550.0 63.2 551.0 63.9 552.0 64.5 553.0 65.2 554.0 65.8 555.0 66.4 556.0 67.1 557.0 67.7 558.0 68.2 559.0 68.8 560.0 69.4 561.0 69.9 562.0 70.5 563.0 71.0 564.0 71.5 565.0 72.1 566.0 72.6 567.0 73.1 568.0 73.6 569.0 74.1 570.0 74.6 571.0 75.1 572.0 75.6 573.0 76.1 574.0 76.6 575.0 77.1 576.0 77.6 577.0 78.0 578.0 78.5 579.0 78.9 580.0 79.4 581.0 79.8 582.0 80.2 583.0 80.6 584.0 81.0 585.0 81.4 586.0 81.8 587.0 82.2 588.0 82.5 589.0 82.8 590.0 83.2 591.0 83.5 592.0 83.8 593.0 84.1 594.0 84.3 595.0 84.6 596.0 84.8 597.0 85.1 598.0 85.3 599.0 85.5 600.0 85.7 601.0 85.9 602.0 86.1 603.0 86.2 604.0 86.4 605.0 86.6 606.0 86.7 607.0 86.8 608.0 87.0 609.0 87.1 610.0 87.2 611.0 87.2 612.0 87.3 613.0 87.4 614.0 87.4 615.0 87.5 616.0 87.5 617.0 87.6 618.0 87.6 619.0 87.6 620.0 87.6 621.0 87.6 622.0 87.6 623.0 87.6 624.0 87.6 625.0 87.6 626.0 87.6 627.0 87.5 628.0 87.5 629.0 87.5 630.0 87.4 631.0 87.4 632.0 87.4 633.0 87.3 634.0 87.3 635.0 87.3 636.0 87.2 637.0 87.1 638.0 87.1 639.0 87.0 640.0 86.9 641.0 86.8 642.0 86.7 643.0 86.6 644.0 86.5 645.0 86.3 646.0 86.1 647.0 85.9 648.0 85.8 649.0 85.7"/><path d="M367.0 85.7 368.0 92.5 369.0 95.0 370.0 96.1 371.0 97.3 372.0 98.8 373.0 100.4 374.0 101.6 375.0 102.1 376.0 102.6 377.0 102.9 378.0 103.2 379.0 103.5 380.0 103.7 381.0 104.0 382.0 104.2 383.0 104.5 384.0 104.8 385.0 105.1 386.0 105.4 387.0 105.7 388.0 106.0 389.0 106.3 390.0 106.6 391.0 106.9 392.0 107.2 393.0 107.5 394.0 107.7 395.0 108.0 396.0 108.3 397.0 108.6 398.0 108.9 399.0 109.2 400.0 109.4 401.0 109.7 402.0 110.0 403.0 110.2 404.0 110.5 405.0 110.8 406.0 111.0 407.0 111.3 408.0 111.5 409.0 111.8 410.0 112.0 411.0 112.2 412.0 112.4 413.0 112.6 414.0 112.8 415.0 113.0 416.0 113.2 417.0 113.4 418.0 113.6 419.0 113.7 420.0 113.9 421.0 114.0 422.0 114.2 423.0 114.3 424.0 114.4 425.0 114.5 426.0 114.6 427.0 114.7 428.0 114.8 429.0 114.9 430.0 115.0 431.0 115.1 432.0 115.2 433.0 115.3 434.0 115.4 435.0 115.5 436.0 115.5 437.0 115.5 438.0 115.5 439.0 115.4 440.0 115.3 441.0 115.2 442.0 115.1 443.0 114.9 444.0 114.7 445.0 114.5 446.0 114.3 447.0 114.0 448.0 113.7 449.0 113.4 450.0 113.0 451.0 112.7 452.0 112.3 453.0 111.9 454.0 111.5 455.0 111.1 456.0 110.7 457.0 110.2 458.0 109.8 459.0 109.3 460.0 108.8 461.0 108.4 462.0 107.8 463.0 107.3 464.0 106.8 465.0 106.2 466.0 105.7 467.0 105.1 468.0 104.5 469.0 103.9 470.0 103.3 471.0 102.6 472.0 102.0 473.0 101.3 474.0 100.6 475.0 99.9 476.0 99.2 477.0 98.5 478.0 97.7 479.0 97.0 480.0 96.2 481.0 95.4 482.0 94.6 483.0 93.8 484.0 92.9 485.0 92.1 486.0 91.2 487.0 90.4 488.0 89.6 489.0 88.7 490.0 87.9 491.0 87.0 492.0 86.2 493.0 85.4 494.0 84.5 495.0 83.7 496.0 82.8 497.0 82.0 498.0 81.1 499.0 80.3 500.0 79.5 501.0 78.7 502.0 77.8 503.0 77.0 504.0 76.3 505.0 75.5 506.0 74.7 507.0 74.0 508.0 73.3 509.0 72.6 510.0 71.9 511.0 71.2 512.0 70.5 513.0 69.9 514.0 69.3 515.0 68.7 516.0 68.1 517.0 67.5 518.0 67.0 519.0 66.4 520.0 65.9 521.0 65.4 522.0 64.9 523.0 64.5 524.0 64.0 525.0 63.6 526.0 63.2 527.0 62.9 528.0 62.5 529.0 62.2 530.0 62.0 531.0 61.7 532.0 61.5 533.0 61.3 534.0 61.2 535.0 61.1 536.0 61.0 537.0 61.0 538.0 61.1 539.0 61.1 540.0 61.2 541.0 61.2 542.0 61.3 543.0 61.5 544.0 61.6 545.0 61.8 546.0 62.0 547.0 62.2 548.0 62.4 549.0 62.7 550.0 63.0 551.0 63.2 552.0 63.5 553.0 63.9 554.0 64.2 555.0 64.5 556.0 64.9 557.0 65.2 558.0 65.5 559.0 65.9 560.0 66.2 561.0 66.5 562.0 66.9 563.0 67.2 564.0 67.6 565.0 67.9 566.0 68.2 567.0 68.6 568.0 69.0 569.0 69.3 570.0 69.7 571.0 70.0 572.0 70.4 573.0 70.8 574.0 71.1 575.0 71.5 576.0 71.9 577.0 72.2 578.0 72.6 579.0 73.0 580.0 73.4 581.0 73.8 582.0 74.2 583.0 74.6 584.0 75.0 585.0 75.4 586.0 75.8 587.0 76.2 588.0 76.5 589.0 76.9 590.0 77.3 591.0 77.7 592.0 78.0 593.0 78.4 594.0 78.7 595.0 79.0 596.0 79.3 597.0 79.6 598.0 79.9 599.0 80.2 600.0 80.4 601.0 80.7 602.0 80.9 603.0 81.2 604.0 81.4 605.0 81.7 606.0 81.9 607.0 82.2 608.0 82.4 609.0 82.6 610.0 82.9 611.0 83.1 612.0 83.3 613.0 83.5 614.0 83.7 615.0 83.9 616.0 84.1 617.0 84.3 618.0 84.4 619.0 84.6 620.0 84.7 621.0 84.9 622.0 85.0 623.0 85.1 624.0 85.2 625.0 85.3 626.0 85.4 627.0 85.5 628.0 85.6 629.0 85.6 630.0 85.7 631.0 85.8 632.0 85.8 633.0 85.8 634.0 85.9 635.0 85.9 636.0 85.9 637.0 86.0 638.0 86.0 639.0 86.0 640.0 86.0 641.0 86.0 642.0 86.0 643.0 86.0 644.0 85.9 645.0 85.9 646.0 85.8 647.0 85.8 648.0 85.7 649.0 85.7"/><path d="M367.0 85.7 368.0 90.6 369.0 92.4 370.0 93.3 371.0 94.2 372.0 95.5 373.0 96.7 374.0 97.7 375.0 98.2 376.0 98.7 377.0 99.1 378.0 99.5 379.0 99.8 380.0 100.1 381.0 100.5 382.0 100.8 383.0 101.1 384.0 101.5 385.0 101.9 386.0 102.3 387.0 102.7 388.0 103.1 389.0 103.5 390.0 103.9 391.0 104.3 392.0 104.7 393.0 105.2 394.0 105.6 395.0 106.0 396.0 106.5 397.0 106.9 398.0 107.3 399.0 107.8 400.0 108.2 401.0 108.7 402.0 109.1 403.0 109.6 404.0 110.0 405.0 110.5 406.0 111.0 407.0 111.4 408.0 111.9 409.0 112.4 410.0 112.9 411.0 113.3 412.0 113.8 413.0 114.3 414.0 114.7 415.0 115.2 416.0 115.7 417.0 116.1 418.0 116.6 419.0 117.0 420.0 117.5 421.0 118.0 422.0 118.4 423.0 118.9 424.0 119.3 425.0 119.8 426.0 120.2 427.0 120.7 428.0 121.1 429.0 121.6 430.0 122.1 431.0 122.6 432.0 123.1 433.0 123.6 434.0 124.1 435.0 124.6 436.0 125.1 437.0 125.6 438.0 126.0 439.0 126.3 440.0 126.7 441.0 127.0 442.0 127.3 443.0 127.6 444.0 127.9 445.0 128.2 446.0 128.4 447.0 128.6 448.0 128.8 449.0 128.9 450.0 129.0 451.0 129.1 452.0 129.2 453.0 129.3 454.0 129.3 455.0 129.4 456.0 129.4 457.0 129.5 458.0 129.5 459.0 129.6 460.0 129.6 461.0 129.6 462.0 129.6 463.0 129.5 464.0 129.5 465.0 129.4 466.0 129.3 467.0 129.2 468.0 129.1 469.0 129.0 470.0 128.8 471.0 128.6 472.0 128.4 473.0 128.2 474.0 127.9 475.0 127.7 476.0 127.4 477.0 127.1 478.0 126.8 479.0 126.4 480.0 126.0 481.0 125.5 482.0 125.0 483.0 124.5 484.0 123.9 485.0 123.3 486.0 122.7 487.0 122.1 488.0 121.5 489.0 120.8 490.0 120.2 491.0 119.5 492.0 118.9 493.0 118.2 494.0 117.5 495.0 116.8 496.0 116.0 497.0 115.2 498.0 114.4 499.0 113.6 500.0 112.7 501.0 111.9 502.0 111.0 503.0 110.1 504.0 109.2 505.0 108.3 506.0 107.4 507.0 106.5 508.0 105.6 509.0 104.7 510.0 103.8 511.0 102.9 512.0 102.1 513.0 101.2 514.0 100.3 515.0 99.5 516.0 98.6 517.0 97.7 518.0 96.9 519.0 96.1 520.0 95.2 521.0 94.4 522.0 93.6 523.0 92.7 524.0 91.9 525.0 91.1 526.0 90.3 527.0 89.5 528.0 88.7 529.0 88.0 530.0 87.2 531.0 86.4 532.0 85.7 533.0 85.0 534.0 84.2 535.0 83.5 536.0 82.9 537.0 82.2 538.0 81.6 539.0 80.9 540.0 80.3 541.0 79.8 542.0 79.2 543.0 78.7 544.0 78.3 545.0 77.8 546.0 77.4 547.0 77.0 548.0 76.7 549.0 76.3 550.0 76.0 551.0 75.8 552.0 75.6 553.0 75.4 554.0 75.2 555.0 75.0 556.0 74.9 557.0 74.7 558.0 74.6 559.0 74.5 560.0 74.4 561.0 74.4 562.0 74.3 563.0 74.2 564.0 74.2 565.0 74.2 566.0 74.1 567.0 74.1 568.0 74.1 569.0 74.1 570.0 74.1 571.0 74.1 572.0 74.1 573.0 74.1 574.0 74.2 575.0 74.2 576.0 74.3 577.0 74.3 578.0 74.4 579.0 74.5 580.0 74.6 581.0 74.7 582.0 74.9 583.0 75.0 584.0 75.2 585.0 75.4 586.0 75.6 587.0 75.7 588.0 75.9 589.0 76.1 590.0 76.3 591.0 76.5 592.0 76.8 593.0 77.0 594.0 77.2 595.0 77.4 596.0 77.6 597.0 77.7 598.0 77.9 599.0 78.1 600.0 78.2 601.0 78.4 602.0 78.6 603.0 78.8 604.0 78.9 605.0 79.1 606.0 79.3 607.0 79.6 608.0 79.8 609.0 80.0 610.0 80.2 611.0 80.5 612.0 80.7 613.0 80.9 614.0 81.2 615.0 81.4 616.0 81.6 617.0 81.8 618.0 82.0 619.0 82.2 620.0 82.4 621.0 82.6 622.0 82.8 623.0 83.0 624.0 83.1 625.0 83.3 626.0 83.4 627.0 83.6 628.0 83.7 629.0 83.8 630.0 84.0 631.0 84.1 632.0 84.2 633.0 84.3 634.0 84.4 635.0 84.5 636.0 84.5 637.0 84.6 638.0 84.7 639.0 84.8 640.0 84.9 641.0 85.0 642.0 85.1 643.0 85.2 644.0 85.3 645.0 85.4 646.0 85.5 647.0 85.6 648.0 85.7 649.0 85.7"/><path d="M367.0 85.7 368.0 85.8 369.0 85.9 370.0 86.0 371.0 86.2 372.0 86.4 373.0 86.6 374.0 86.8 375.0 87.0 376.0 87.2 377.0 87.4 378.0 87.7 379.0 87.9 380.0 88.1 381.0 88.3 382.0 88.5 383.0 88.7 384.0 89.0 385.0 89.2 386.0 89.5 387.0 89.8 388.0 90.0 389.0 90.3 390.0 90.6 391.0 90.9 392.0 91.2 393.0 91.5 394.0 91.8 395.0 92.1 396.0 92.4 397.0 92.8 398.0 93.1 399.0 93.4 400.0 93.8 401.0 94.2 402.0 94.5 403.0 94.9 404.0 95.3 405.0 95.7 406.0 96.1 407.0 96.5 408.0 97.0 409.0 97.4 410.0 97.8 411.0 98.3 412.0 98.7 413.0 99.2 414.0 99.6 415.0 100.1 416.0 100.6 417.0 101.0 418.0 101.5 419.0 102.0 420.0 102.5 421.0 103.0 422.0 103.5 423.0 104.0 424.0 104.5 425.0 105.0 426.0 105.6 427.0 106.1 428.0 106.7 429.0 107.2 430.0 107.8 431.0 108.4 432.0 109.0 433.0 109.7 434.0 110.3 435.0 111.0 436.0 111.6 437.0 112.2 438.0 112.9 439.0 113.4 440.0 114.0 441.0 114.6 442.0 115.2 443.0 115.8 444.0 116.4 445.0 116.9 446.0 117.5 447.0 118.1 448.0 118.6 449.0 119.1 450.0 119.6 451.0 120.1 452.0 120.6 453.0 121.1 454.0 121.6 455.0 122.1 456.0 122.6 457.0 123.1 458.0 123.6 459.0 124.1 460.0 124.6 461.0 125.1 462.0 125.6 463.0 126.1 464.0 126.5 465.0 127.0 466.0 127.4 467.0 127.9 468.0 128.3 469.0 128.7 470.0 129.1 471.0 129.4 472.0 129.8 473.0 130.2 474.0 130.5 475.0 130.8 476.0 131.2 477.0 131.5 478.0 131.8 479.0 132.0 480.0 132.2 481.0 132.3 482.0 132.4 483.0 132.5 484.0 132.5 485.0 132.5 486.0 132.4 487.0 132.4 488.0 132.4 489.0 132.4 490.0 132.3 491.0 132.2 492.0 132.1 493.0 132.0 494.0 131.8 495.0 131.7 496.0 131.4 497.0 131.2 498.0 130.8 499.0 130.5 500.0 130.1 501.0 129.7 502.0 129.3 503.0 128.9 504.0 128.4 505.0 127.9 506.0 127.4 507.0 126.8 508.0 126.3 509.0 125.7 510.0 125.2 511.0 124.6 512.0 124.0 513.0 123.4 514.0 122.8 515.0 122.2 516.0 121.6 517.0 120.9 518.0 120.3 519.0 119.6 520.0 119.0 521.0 118.3 522.0 117.6 523.0 116.9 524.0 116.2 525.0 115.4 526.0 114.7 527.0 113.9 528.0 113.2 529.0 112.4 530.0 111.6 531.0 110.7 532.0 109.9 533.0 109.1 534.0 108.2 535.0 107.3 536.0 106.3 537.0 105.4 538.0 104.5 539.0 103.6 540.0 102.7 541.0 101.8 542.0 100.9 543.0 100.1 544.0 99.3 545.0 98.4 546.0 97.7 547.0 96.9 548.0 96.2 549.0 95.5 550.0 94.8 551.0 94.1 552.0 93.5 553.0 92.9 554.0 92.3 555.0 91.8 556.0 91.2 557.0 90.7 558.0 90.2 559.0 89.7 560.0 89.3 561.0 88.8 562.0 88.4 563.0 88.0 564.0 87.6 565.0 87.2 566.0 86.8 567.0 86.4 568.0 86.0 569.0 85.7 570.0 85.3 571.0 85.0 572.0 84.6 573.0 84.3 574.0 84.0 575.0 83.7 576.0 83.4 577.0 83.1 578.0 82.8 579.0 82.6 580.0 82.3 581.0 82.1 582.0 81.9 583.0 81.7 584.0 81.6 585.0 81.4 586.0 81.3 587.0 81.2 588.0 81.1 589.0 81.0 590.0 80.9 591.0 80.8 592.0 80.7 593.0 80.7 594.0 80.6 595.0 80.6 596.0 80.6 597.0 80.5 598.0 80.5 599.0 80.5 600.0 80.4 601.0 80.4 602.0 80.4 603.0 80.4 604.0 80.4 605.0 80.4 606.0 80.5 607.0 80.5 608.0 80.6 609.0 80.7 610.0 80.8 611.0 80.9 612.0 81.0 613.0 81.1 614.0 81.3 615.0 81.4 616.0 81.5 617.0 81.6 618.0 81.8 619.0 81.9 620.0 82.0 621.0 82.1 622.0 82.3 623.0 82.4 624.0 82.5 625.0 82.7 626.0 82.8 627.0 82.9 628.0 83.0 629.0 83.1 630.0 83.2 631.0 83.3 632.0 83.4 633.0 83.5 634.0 83.6 635.0 83.7 636.0 83.8 637.0 83.9 638.0 84.1 639.0 84.2 640.0 84.3 641.0 84.4 642.0 84.6 643.0 84.7 644.0 84.9 645.0 85.1 646.0 85.3 647.0 85.5 648.0 85.6 649.0 85.7"/><path d="M367.0 85.7 368.0 80.9 369.0 79.3 370.0 78.6 371.0 77.9 372.0 76.9 373.0 75.9 374.0 75.3 375.0 75.0 376.0 74.9 377.0 74.7 378.0 74.7 379.0 74.6 380.0 74.6 381.0 74.6 382.0 74.6 383.0 74.6 384.0 74.5 385.0 74.5 386.0 74.4 387.0 74.4 388.0 74.4 389.0 74.4 390.0 74.4 391.0 74.4 392.0 74.4 393.0 74.4 394.0 74.4 395.0 74.4 396.0 74.5 397.0 74.5 398.0 74.5 399.0 74.6 400.0 74.6 401.0 74.7 402.0 74.8 403.0 74.9 404.0 75.0 405.0 75.1 406.0 75.2 407.0 75.3 408.0 75.4 409.0 75.5 410.0 75.7 411.0 75.8 412.0 76.0 413.0 76.2 414.0 76.4 415.0 76.5 416.0 76.7 417.0 77.0 418.0 77.2 419.0 77.4 420.0 77.6 421.0 77.9 422.0 78.2 423.0 78.4 424.0 78.7 425.0 79.0 426.0 79.3 427.0 79.6 428.0 79.9 429.0 80.3 430.0 80.6 431.0 81.0 432.0 81.3 433.0 81.7 434.0 82.1 435.0 82.5 436.0 82.9 437.0 83.4 438.0 83.8 439.0 84.3 440.0 84.8 441.0 85.3 442.0 85.8 443.0 86.3 444.0 86.9 445.0 87.4 446.0 88.0 447.0 88.6 448.0 89.2 449.0 89.8 450.0 90.4 451.0 91.0 452.0 91.6 453.0 92.2 454.0 92.9 455.0 93.5 456.0 94.2 457.0 94.8 458.0 95.5 459.0 96.2 460.0 96.9 461.0 97.5 462.0 98.2 463.0 99.0 464.0 99.7 465.0 100.4 466.0 101.1 467.0 101.8 468.0 102.5 469.0 103.2 470.0 103.9 471.0 104.7 472.0 105.4 473.0 106.1 474.0 106.8 475.0 107.6 476.0 108.3 477.0 109.0 478.0 109.8 479.0 110.5 480.0 111.2 481.0 111.8 482.0 112.5 483.0 113.1 484.0 113.7 485.0 114.2 486.0 114.8 487.0 115.4 488.0 116.0 489.0 116.5 490.0 117.1 491.0 117.6 492.0 118.2 493.0 118.7 494.0 119.2 495.0 119.6 496.0 120.1 497.0 120.5 498.0 120.9 499.0 121.2 500.0 121.5 501.0 121.8 502.0 122.1 503.0 122.3 504.0 122.6 505.0 122.8 506.0 122.9 507.0 123.1 508.0 123.2 509.0 123.3 510.0 123.4 511.0 123.4 512.0 123.5 513.0 123.5 514.0 123.5 515.0 123.5 516.0 123.5 517.0 123.5 518.0 123.4 519.0 123.3 520.0 123.2 521.0 123.1 522.0 122.9 523.0 122.8 524.0 122.6 525.0 122.3 526.0 122.1 527.0 121.8 528.0 121.5 529.0 121.2 530.0 120.8 531.0 120.4 532.0 119.9 533.0 119.5 534.0 119.0 535.0 118.4 536.0 117.7 537.0 117.1 538.0 116.4 539.0 115.7 540.0 115.1 541.0 114.4 542.0 113.7 543.0 113.0 544.0 112.3 545.0 111.6 546.0 110.9 547.0 110.2 548.0 109.6 549.0 108.9 550.0 108.2 551.0 107.5 552.0 106.9 553.0 106.2 554.0 105.6 555.0 105.0 556.0 104.3 557.0 103.7 558.0 103.2 559.0 102.6 560.0 102.0 561.0 101.5 562.0 100.9 563.0 100.4 564.0 99.9 565.0 99.3 566.0 98.8 567.0 98.3 568.0 97.8 569.0 97.3 570.0 96.8 571.0 96.3 572.0 95.8 573.0 95.3 574.0 94.8 575.0 94.3 576.0 93.8 577.0 93.4 578.0 92.9 579.0 92.5 580.0 92.0 581.0 91.6 582.0 91.2 583.0 90.8 584.0 90.4 585.0 90.0 586.0 89.6 587.0 89.2 588.0 88.9 589.0 88.6 590.0 88.2 591.0 87.9 592.0 87.6 593.0 87.3 594.0 87.1 595.0 86.8 596.0 86.6 597.0 86.3 598.0 86.1 599.0 85.9 600.0 85.7 601.0 85.5 602.0 85.3 603.0 85.2 604.0 85.0 605.0 84.8 606.0 84.7 607.0 84.6 608.0 84.4 609.0 84.3 610.0 84.2 611.0 84.2 612.0 84.1 613.0 84.0 614.0 84.0 615.0 83.9 616.0 83.9 617.0 83.8 618.0 83.8 619.0 83.8 620.0 83.8 621.0 83.8 622.0 83.8 623.0 83.8 624.0 83.8 625.0 83.8 626.0 83.8 627.0 83.9 628.0 83.9 629.0 83.9 630.0 84.0 631.0 84.0 632.0 84.0 633.0 84.1 634.0 84.1 635.0 84.1 636.0 84.2 637.0 84.3 638.0 84.3 639.0 84.4 640.0 84.5 641.0 84.6 642.0 84.7 643.0 84.8 644.0 84.9 645.0 85.1 646.0 85.3 647.0 85.5 648.0 85.6 649.0 85.7"/></g>
<g fill="none" stroke="#d8393b" stroke-width="1.4" stroke-dasharray="4.5 3.3"><path d="M367.0 85.7 368.0 78.8 369.0 76.3 370.0 75.1 371.0 74.0 372.0 72.4 373.0 70.7 374.0 69.6 375.0 69.0 376.0 68.5 377.0 68.1 378.0 67.8 379.0 67.5 380.0 67.2 381.0 67.0 382.0 66.7 383.0 66.4 384.0 66.0 385.0 65.7 386.0 65.3 387.0 65.0 388.0 64.6 389.0 64.3 390.0 63.9 391.0 63.6 392.0 63.2 393.0 62.8 394.0 62.5 395.0 62.1 396.0 61.7 397.0 61.4 398.0 61.0 399.0 60.6 400.0 60.2 401.0 59.8 402.0 59.5 403.0 59.1 404.0 58.7 405.0 58.3 406.0 57.9 407.0 57.5 408.0 57.1 409.0 56.7 410.0 56.3 411.0 55.9 412.0 55.5 413.0 55.1 414.0 54.7 415.0 54.3 416.0 54.0 417.0 53.6 418.0 53.2 419.0 52.8 420.0 52.4 421.0 52.0 422.0 51.6 423.0 51.2 424.0 50.8 425.0 50.5 426.0 50.1 427.0 49.7 428.0 49.3 429.0 48.8 430.0 48.4 431.0 47.9 432.0 47.5 433.0 47.0 434.0 46.5 435.0 46.0 436.0 45.6 437.0 45.2 438.0 44.8 439.0 44.4 440.0 44.1 441.0 43.7 442.0 43.4 443.0 43.1 444.0 42.8 445.0 42.6 446.0 42.3 447.0 42.1 448.0 41.9 449.0 41.7 450.0 41.5 451.0 41.3 452.0 41.1 453.0 41.0 454.0 40.8 455.0 40.6 456.0 40.5 457.0 40.3 458.0 40.1 459.0 39.9 460.0 39.7 461.0 39.6 462.0 39.4 463.0 39.2 464.0 39.0 465.0 38.9 466.0 38.7 467.0 38.6 468.0 38.5 469.0 38.3 470.0 38.2 471.0 38.1 472.0 38.0 473.0 37.9 474.0 37.8 475.0 37.7 476.0 37.5 477.0 37.4 478.0 37.4 479.0 37.3 480.0 37.3 481.0 37.3 482.0 37.4 483.0 37.5 484.0 37.7 485.0 37.8 486.0 37.9 487.0 38.0 488.0 38.1 489.0 38.2 490.0 38.3 491.0 38.5 492.0 38.6 493.0 38.7 494.0 38.8 495.0 39.0 496.0 39.2 497.0 39.4 498.0 39.6 499.0 39.9 500.0 40.2 501.0 40.4 502.0 40.7 503.0 41.0 504.0 41.3 505.0 41.6 506.0 41.9 507.0 42.3 508.0 42.6 509.0 42.9 510.0 43.3 511.0 43.6 512.0 43.9 513.0 44.2 514.0 44.5 515.0 44.8 516.0 45.1 517.0 45.5 518.0 45.8 519.0 46.1 520.0 46.4 521.0 46.7 522.0 47.1 523.0 47.4 524.0 47.7 525.0 48.1 526.0 48.5 527.0 48.8 528.0 49.2 529.0 49.6 530.0 50.1 531.0 50.5 532.0 50.9 533.0 51.4 534.0 51.9 535.0 52.5 536.0 53.1 537.0 53.7 538.0 54.3 539.0 54.8 540.0 55.4 541.0 56.0 542.0 56.5 543.0 57.1 544.0 57.6 545.0 58.2 546.0 58.7 547.0 59.3 548.0 59.8 549.0 60.3 550.0 60.8 551.0 61.3 552.0 61.9 553.0 62.4 554.0 62.9 555.0 63.3 556.0 63.8 557.0 64.3 558.0 64.7 559.0 65.1 560.0 65.6 561.0 66.0 562.0 66.4 563.0 66.8 564.0 67.2 565.0 67.6 566.0 67.9 567.0 68.3 568.0 68.7 569.0 69.1 570.0 69.4 571.0 69.8 572.0 70.1 573.0 70.5 574.0 70.8 575.0 71.1 576.0 71.5 577.0 71.8 578.0 72.1 579.0 72.4 580.0 72.7 581.0 73.0 582.0 73.4 583.0 73.7 584.0 74.0 585.0 74.3 586.0 74.7 587.0 75.0 588.0 75.3 589.0 75.6 590.0 75.9 591.0 76.1 592.0 76.4 593.0 76.7 594.0 76.9 595.0 77.2 596.0 77.4 597.0 77.6 598.0 77.8 599.0 78.0 600.0 78.1 601.0 78.3 602.0 78.5 603.0 78.6 604.0 78.8 605.0 79.0 606.0 79.2 607.0 79.4 608.0 79.6 609.0 79.8 610.0 80.0 611.0 80.2 612.0 80.4 613.0 80.6 614.0 80.8 615.0 81.0 616.0 81.2 617.0 81.3 618.0 81.5 619.0 81.7 620.0 81.8 621.0 82.0 622.0 82.1 623.0 82.3 624.0 82.4 625.0 82.6 626.0 82.7 627.0 82.9 628.0 83.0 629.0 83.1 630.0 83.2 631.0 83.3 632.0 83.4 633.0 83.5 634.0 83.6 635.0 83.7 636.0 83.8 637.0 83.9 638.0 84.0 639.0 84.1 640.0 84.2 641.0 84.4 642.0 84.5 643.0 84.7 644.0 84.8 645.0 85.0 646.0 85.3 647.0 85.5 648.0 85.6 649.0 85.7"/><path d="M367.0 85.7 368.0 92.6 369.0 95.1 370.0 96.3 371.0 97.4 372.0 99.0 373.0 100.7 374.0 101.8 375.0 102.4 376.0 102.9 377.0 103.3 378.0 103.6 379.0 103.9 380.0 104.2 381.0 104.4 382.0 104.7 383.0 105.0 384.0 105.4 385.0 105.7 386.0 106.1 387.0 106.4 388.0 106.8 389.0 107.1 390.0 107.5 391.0 107.8 392.0 108.2 393.0 108.6 394.0 108.9 395.0 109.3 396.0 109.7 397.0 110.0 398.0 110.4 399.0 110.8 400.0 111.2 401.0 111.6 402.0 111.9 403.0 112.3 404.0 112.7 405.0 113.1 406.0 113.5 407.0 113.9 408.0 114.3 409.0 114.7 410.0 115.1 411.0 115.5 412.0 115.9 413.0 116.3 414.0 116.7 415.0 117.1 416.0 117.4 417.0 117.8 418.0 118.2 419.0 118.6 420.0 119.0 421.0 119.4 422.0 119.8 423.0 120.2 424.0 120.6 425.0 120.9 426.0 121.3 427.0 121.7 428.0 122.1 429.0 122.6 430.0 123.0 431.0 123.5 432.0 123.9 433.0 124.4 434.0 124.9 435.0 125.4 436.0 125.8 437.0 126.2 438.0 126.6 439.0 127.0 440.0 127.3 441.0 127.7 442.0 128.0 443.0 128.3 444.0 128.6 445.0 128.8 446.0 129.1 447.0 129.3 448.0 129.5 449.0 129.7 450.0 129.9 451.0 130.1 452.0 130.3 453.0 130.4 454.0 130.6 455.0 130.8 456.0 130.9 457.0 131.1 458.0 131.3 459.0 131.5 460.0 131.7 461.0 131.8 462.0 132.0 463.0 132.2 464.0 132.4 465.0 132.5 466.0 132.7 467.0 132.8 468.0 132.9 469.0 133.1 470.0 133.2 471.0 133.3 472.0 133.4 473.0 133.5 474.0 133.6 475.0 133.7 476.0 133.9 477.0 134.0 478.0 134.0 479.0 134.1 480.0 134.1 481.0 134.1 482.0 134.0 483.0 133.9 484.0 133.7 485.0 133.6 486.0 133.5 487.0 133.4 488.0 133.3 489.0 133.2 490.0 133.1 491.0 132.9 492.0 132.8 493.0 132.7 494.0 132.6 495.0 132.4 496.0 132.2 497.0 132.0 498.0 131.8 499.0 131.5 500.0 131.2 501.0 131.0 502.0 130.7 503.0 130.4 504.0 130.1 505.0 129.8 506.0 129.5 507.0 129.1 508.0 128.8 509.0 128.5 510.0 128.1 511.0 127.8 512.0 127.5 513.0 127.2 514.0 126.9 515.0 126.6 516.0 126.3 517.0 125.9 518.0 125.6 519.0 125.3 520.0 125.0 521.0 124.7 522.0 124.3 523.0 124.0 524.0 123.7 525.0 123.3 526.0 122.9 527.0 122.6 528.0 122.2 529.0 121.8 530.0 121.3 531.0 120.9 532.0 120.5 533.0 120.0 534.0 119.5 535.0 118.9 536.0 118.3 537.0 117.7 538.0 117.1 539.0 116.6 540.0 116.0 541.0 115.4 542.0 114.9 543.0 114.3 544.0 113.8 545.0 113.2 546.0 112.7 547.0 112.1 548.0 111.6 549.0 111.1 550.0 110.6 551.0 110.1 552.0 109.5 553.0 109.0 554.0 108.5 555.0 108.1 556.0 107.6 557.0 107.1 558.0 106.7 559.0 106.3 560.0 105.8 561.0 105.4 562.0 105.0 563.0 104.6 564.0 104.2 565.0 103.8 566.0 103.5 567.0 103.1 568.0 102.7 569.0 102.3 570.0 102.0 571.0 101.6 572.0 101.3 573.0 100.9 574.0 100.6 575.0 100.3 576.0 99.9 577.0 99.6 578.0 99.3 579.0 99.0 580.0 98.7 581.0 98.4 582.0 98.0 583.0 97.7 584.0 97.4 585.0 97.1 586.0 96.7 587.0 96.4 588.0 96.1 589.0 95.8 590.0 95.5 591.0 95.3 592.0 95.0 593.0 94.7 594.0 94.5 595.0 94.2 596.0 94.0 597.0 93.8 598.0 93.6 599.0 93.4 600.0 93.3 601.0 93.1 602.0 92.9 603.0 92.8 604.0 92.6 605.0 92.4 606.0 92.2 607.0 92.0 608.0 91.8 609.0 91.6 610.0 91.4 611.0 91.2 612.0 91.0 613.0 90.8 614.0 90.6 615.0 90.4 616.0 90.2 617.0 90.1 618.0 89.9 619.0 89.7 620.0 89.6 621.0 89.4 622.0 89.3 623.0 89.1 624.0 89.0 625.0 88.8 626.0 88.7 627.0 88.5 628.0 88.4 629.0 88.3 630.0 88.2 631.0 88.1 632.0 88.0 633.0 87.9 634.0 87.8 635.0 87.7 636.0 87.6 637.0 87.5 638.0 87.4 639.0 87.3 640.0 87.2 641.0 87.0 642.0 86.9 643.0 86.7 644.0 86.6 645.0 86.4 646.0 86.1 647.0 85.9 648.0 85.8 649.0 85.7"/></g>
<circle cx="479.9" cy="36.8" r="2.4" fill="#0000ff"/>
<rect x="367.0" y="3.5" width="282.1" height="165.0" fill="none" stroke="#5a5a5a" stroke-width="1.2"/>
<path d="M367.0 168.5h2.5M649.1 168.5h-2.5M367.0 141.0h2.5M649.1 141.0h-2.5M367.0 113.5h2.5M649.1 113.5h-2.5M367.0 86.0h2.5M649.1 86.0h-2.5M367.0 58.5h2.5M649.1 58.5h-2.5M367.0 31.0h2.5M649.1 31.0h-2.5M367.0 3.5h2.5M649.1 3.5h-2.5M367.0 168.5v-2.5M367.0 3.5v2.5M461.0 168.5v-2.5M461.0 3.5v2.5M555.1 168.5v-2.5M555.1 3.5v2.5M649.1 168.5v-2.5M649.1 3.5v2.5" stroke="#5a5a5a" stroke-width="1" fill="none"/>
<polygon points="487.3,128.3 492.1,126.5 649.7,158.8 631.2,168.8 575.0,154.0 560.0,150.3 545.0,146.3 489.1,129.8" fill="url(#lgb)"/>
<g clip-path="url(#pcb)">
<ellipse cx="552" cy="146" rx="48" ry="7.5" transform="rotate(13 552 146)" fill="url(#gcy)"/>
<ellipse cx="554" cy="147.6" rx="25" ry="5" transform="rotate(13 554 147.6)" fill="url(#gblb)"/>
</g>
<text x="365.0" y="172.8" font-size="10.4" text-anchor="end" fill="#333333" >-0.6</text>
<text x="365.0" y="145.1" font-size="10.4" text-anchor="end" fill="#333333" >-0.4</text>
<text x="365.0" y="118.6" font-size="10.4" text-anchor="end" fill="#333333" >-0.2</text>
<text x="363.3" y="92.9" font-size="10.4" text-anchor="end" fill="#333333" >0</text>
<text x="366.3" y="64.1" font-size="10.4" text-anchor="end" fill="#333333" >0.2</text>
<text x="366.3" y="37.1" font-size="10.4" text-anchor="end" fill="#333333" >0.4</text>
<text x="366.3" y="8.8" font-size="10.4" text-anchor="end" fill="#333333" >0.6</text>
<text x="367.3" y="184.8" font-size="10.4" text-anchor="middle" fill="#333333" >0</text>
<text x="461.3" y="184.8" font-size="10.4" text-anchor="middle" fill="#333333" >50</text>
<text x="556.3" y="184.8" font-size="10.4" text-anchor="middle" fill="#333333" >100</text>
<text x="650.3" y="184.8" font-size="10.4" text-anchor="middle" fill="#333333" >150</text>
<text transform="translate(403.8,201.4) scale(0.966,1)" font-size="17" fill="#333333" stroke="#333333" stroke-width="0.25" >Distance from the base (mm)</text>
<text transform="translate(344.2,148.6) rotate(-90) scale(0.964,1)" font-size="17" fill="#333333" stroke="#333333" stroke-width="0.25" >Displacement (mm)</text>
<text x="585.9" y="28.1" font-size="20.5" font-weight="bold" fill="#111" >b</text>
<text transform="translate(607.0,26.5) scale(1.045,1)" font-size="14" fill="#1a1a1a">50 Hz</text>
<line x1="36.6" y1="315.4" x2="320.5" y2="315.4" stroke="#d2d2d2" stroke-width="1.2"/>
<g fill="none" stroke="#226cb4" stroke-width="1.5" stroke-linejoin="round"><path d="M36.6 315.3 37.6 306.4 38.6 301.0 39.6 296.9 40.6 293.5 41.6 290.9 42.6 289.0 43.6 287.5 44.6 286.3 45.6 285.2 46.6 284.2 47.6 283.3 48.6 282.5 49.6 281.8 50.6 281.1 51.6 280.4 52.6 279.7 53.6 279.0 54.6 278.4 55.6 277.8 56.6 277.3 57.6 276.7 58.6 276.3 59.6 275.8 60.6 275.4 61.6 275.0 62.6 274.6 63.6 274.3 64.6 274.1 65.6 273.9 66.6 273.7 67.6 273.6 68.6 273.5 69.6 273.4 70.6 273.4 71.6 273.3 72.6 273.3 73.6 273.2 74.6 273.2 75.6 273.1 76.6 273.0 77.6 273.0 78.6 273.0 79.6 273.0 80.6 273.1 81.6 273.3 82.6 273.5 83.6 273.8 84.6 274.1 85.6 274.5 86.6 274.9 87.6 275.3 88.6 275.8 89.6 276.3 90.6 276.8 91.6 277.4 92.6 278.0 93.6 278.6 94.6 279.3 95.6 280.0 96.6 280.7 97.6 281.4 98.6 282.2 99.6 283.0 100.6 283.8 101.6 284.6 102.6 285.4 103.6 286.3 104.6 287.1 105.6 288.0 106.6 288.9 107.6 289.9 108.6 290.8 109.6 291.8 110.6 292.7 111.6 293.7 112.6 294.8 113.6 295.8 114.6 296.8 115.6 297.9 116.6 299.0 117.6 300.1 118.6 301.2 119.6 302.3 120.6 303.4 121.6 304.5 122.6 305.6 123.6 306.7 124.6 307.8 125.6 308.9 126.6 310.0 127.6 311.1 128.6 312.2 129.6 313.3 130.6 314.4 131.6 315.4 132.6 316.4 133.6 317.4 134.6 318.4 135.6 319.3 136.6 320.2 137.6 321.1 138.6 322.0 139.6 322.8 140.6 323.6 141.6 324.4 142.6 325.2 143.6 326.0 144.6 326.7 145.6 327.5 146.6 328.2 147.6 328.9 148.6 329.5 149.6 330.2 150.6 330.8 151.6 331.4 152.6 332.0 153.6 332.6 154.6 333.2 155.6 333.7 156.6 334.3 157.6 334.8 158.6 335.3 159.6 335.8 160.6 336.2 161.6 336.6 162.6 337.0 163.6 337.4 164.6 337.7 165.6 338.0 166.6 338.2 167.6 338.4 168.6 338.6 169.6 338.8 170.6 338.9 171.6 339.0 172.6 339.1 173.6 339.1 174.6 339.2 175.6 339.2 176.6 339.2 177.6 339.2 178.6 339.1 179.6 339.0 180.6 338.9 181.6 338.7 182.6 338.6 183.6 338.4 184.6 338.1 185.6 337.9 186.6 337.6 187.6 337.2 188.6 336.9 189.6 336.5 190.6 336.0 191.6 335.6 192.6 335.1 193.6 334.7 194.6 334.2 195.6 333.7 196.6 333.2 197.6 332.7 198.6 332.2 199.6 331.9 200.6 331.5 201.6 331.2 202.6 330.9 203.6 330.6 204.6 330.3 205.6 330.0 206.6 329.8 207.6 329.5 208.6 329.2 209.6 328.9 210.6 328.6 211.6 328.4 212.6 328.1 213.6 327.8 214.6 327.5 215.6 327.3 216.6 327.0 217.6 326.7 218.6 326.4 219.6 326.1 220.6 325.8 221.6 325.5 222.6 325.1 223.6 324.8 224.6 324.4 225.6 324.1 226.6 323.7 227.6 323.4 228.6 323.0 229.6 322.7 230.6 322.4 231.6 322.1 232.6 321.9 233.6 321.6 234.6 321.4 235.6 321.1 236.6 320.8 237.6 320.6 238.6 320.4 239.6 320.1 240.6 319.9 241.6 319.7 242.6 319.5 243.6 319.3 244.6 319.1 245.6 318.9 246.6 318.8 247.6 318.6 248.6 318.5 249.6 318.3 250.6 318.2 251.6 318.1 252.6 317.9 253.6 317.8 254.6 317.7 255.6 317.6 256.6 317.5 257.6 317.4 258.6 317.3 259.6 317.2 260.6 317.1 261.6 317.0 262.6 316.9 263.6 316.8 264.6 316.7 265.6 316.7 266.6 316.6 267.6 316.5 268.6 316.5 269.6 316.4 270.6 316.3 271.6 316.3 272.6 316.2 273.6 316.2 274.6 316.1 275.6 316.1 276.6 316.0 277.6 316.0 278.6 315.9 279.6 315.9 280.6 315.9 281.6 315.8 282.6 315.8 283.6 315.7 284.6 315.7 285.6 315.7 286.6 315.6 287.6 315.6 288.6 315.6 289.6 315.5 290.6 315.5 291.6 315.5 292.6 315.5 293.6 315.4 294.6 315.4 295.6 315.4 296.6 315.4 297.6 315.3 298.6 315.3 299.6 315.3 300.6 315.3 301.6 315.3 302.6 315.3 303.6 315.2 304.6 315.2 305.6 315.2 306.6 315.2 307.6 315.2 308.6 315.2 309.6 315.2 310.6 315.2 311.6 315.2 312.6 315.2 313.6 315.2 314.6 315.2 315.6 315.2 316.6 315.2 317.6 315.2 318.6 315.2 319.6 315.3"/><path d="M36.6 315.3 37.6 308.1 38.6 303.5 39.6 299.9 40.6 296.8 41.6 294.3 42.6 292.4 43.6 290.8 44.6 289.4 45.6 288.1 46.6 286.8 47.6 285.6 48.6 284.5 49.6 283.4 50.6 282.3 51.6 281.3 52.6 280.2 53.6 279.1 54.6 278.1 55.6 277.0 56.6 276.0 57.6 275.1 58.6 274.1 59.6 273.2 60.6 272.3 61.6 271.4 62.6 270.5 63.6 269.7 64.6 269.0 65.6 268.3 66.6 267.6 67.6 267.0 68.6 266.3 69.6 265.7 70.6 265.1 71.6 264.5 72.6 263.9 73.6 263.3 74.6 262.6 75.6 261.9 76.6 261.2 77.6 260.5 78.6 259.9 79.6 259.2 80.6 258.6 81.6 258.1 82.6 257.7 83.6 257.3 84.6 256.9 85.6 256.6 86.6 256.3 87.6 256.0 88.6 255.8 89.6 255.6 90.6 255.4 91.6 255.3 92.6 255.2 93.6 255.1 94.6 255.1 95.6 255.0 96.6 255.0 97.6 255.1 98.6 255.2 99.6 255.3 100.6 255.4 101.6 255.5 102.6 255.7 103.6 255.9 104.6 256.1 105.6 256.4 106.6 256.6 107.6 256.9 108.6 257.3 109.6 257.7 110.6 258.1 111.6 258.6 112.6 259.1 113.6 259.6 114.6 260.1 115.6 260.7 116.6 261.3 117.6 261.9 118.6 262.6 119.6 263.2 120.6 264.0 121.6 264.7 122.6 265.5 123.6 266.2 124.6 267.0 125.6 267.8 126.6 268.6 127.6 269.5 128.6 270.3 129.6 271.2 130.6 272.1 131.6 273.0 132.6 273.9 133.6 274.9 134.6 275.9 135.6 277.0 136.6 278.1 137.6 279.2 138.6 280.4 139.6 281.5 140.6 282.6 141.6 283.7 142.6 284.8 143.6 285.9 144.6 286.9 145.6 288.0 146.6 289.0 147.6 290.1 148.6 291.1 149.6 292.2 150.6 293.2 151.6 294.3 152.6 295.3 153.6 296.3 154.6 297.4 155.6 298.4 156.6 299.5 157.6 300.5 158.6 301.5 159.6 302.6 160.6 303.6 161.6 304.6 162.6 305.6 163.6 306.6 164.6 307.5 165.6 308.4 166.6 309.3 167.6 310.2 168.6 311.1 169.6 311.9 170.6 312.6 171.6 313.4 172.6 314.1 173.6 314.7 174.6 315.4 175.6 315.9 176.6 316.5 177.6 317.0 178.6 317.5 179.6 318.0 180.6 318.4 181.6 318.8 182.6 319.2 183.6 319.6 184.6 319.9 185.6 320.2 186.6 320.5 187.6 320.8 188.6 321.0 189.6 321.2 190.6 321.4 191.6 321.6 192.6 321.7 193.6 321.8 194.6 321.9 195.6 322.0 196.6 322.1 197.6 322.1 198.6 322.2 199.6 322.3 200.6 322.4 201.6 322.5 202.6 322.6 203.6 322.6 204.6 322.7 205.6 322.8 206.6 322.8 207.6 322.9 208.6 322.9 209.6 323.0 210.6 323.0 211.6 323.0 212.6 323.0 213.6 323.1 214.6 323.1 215.6 323.0 216.6 323.0 217.6 323.0 218.6 322.9 219.6 322.9 220.6 322.8 221.6 322.7 222.6 322.6 223.6 322.5 224.6 322.3 225.6 322.2 226.6 322.0 227.6 321.9 228.6 321.7 229.6 321.5 230.6 321.4 231.6 321.3 232.6 321.1 233.6 321.0 234.6 320.8 235.6 320.7 236.6 320.5 237.6 320.4 238.6 320.3 239.6 320.1 240.6 320.0 241.6 319.8 242.6 319.7 243.6 319.6 244.6 319.4 245.6 319.3 246.6 319.2 247.6 319.1 248.6 319.0 249.6 318.9 250.6 318.7 251.6 318.6 252.6 318.6 253.6 318.5 254.6 318.4 255.6 318.3 256.6 318.2 257.6 318.1 258.6 318.0 259.6 317.9 260.6 317.8 261.6 317.8 262.6 317.7 263.6 317.6 264.6 317.5 265.6 317.5 266.6 317.4 267.6 317.4 268.6 317.3 269.6 317.2 270.6 317.2 271.6 317.1 272.6 317.1 273.6 317.0 274.6 317.0 275.6 316.9 276.6 316.9 277.6 316.8 278.6 316.8 279.6 316.7 280.6 316.7 281.6 316.6 282.6 316.6 283.6 316.5 284.6 316.5 285.6 316.5 286.6 316.4 287.6 316.4 288.6 316.4 289.6 316.3 290.6 316.3 291.6 316.2 292.6 316.2 293.6 316.2 294.6 316.1 295.6 316.1 296.6 316.1 297.6 316.0 298.6 316.0 299.6 316.0 300.6 315.9 301.6 315.9 302.6 315.9 303.6 315.8 304.6 315.8 305.6 315.8 306.6 315.7 307.6 315.7 308.6 315.7 309.6 315.6 310.6 315.6 311.6 315.6 312.6 315.6 313.6 315.5 314.6 315.5 315.6 315.5 316.6 315.4 317.6 315.4 318.6 315.4 319.6 315.3"/><path d="M36.6 315.3 37.6 313.9 38.6 312.9 39.6 311.9 40.6 310.9 41.6 310.0 42.6 309.2 43.6 308.4 44.6 307.6 45.6 306.9 46.6 306.1 47.6 305.3 48.6 304.5 49.6 303.7 50.6 302.9 51.6 302.1 52.6 301.2 53.6 300.4 54.6 299.5 55.6 298.7 56.6 297.8 57.6 297.0 58.6 296.1 59.6 295.2 60.6 294.4 61.6 293.5 62.6 292.7 63.6 291.8 64.6 291.0 65.6 290.2 66.6 289.4 67.6 288.6 68.6 287.8 69.6 287.0 70.6 286.3 71.6 285.5 72.6 284.6 73.6 283.8 74.6 282.9 75.6 282.0 76.6 281.1 77.6 280.1 78.6 279.2 79.6 278.3 80.6 277.3 81.6 276.4 82.6 275.6 83.6 274.7 84.6 273.9 85.6 273.1 86.6 272.2 87.6 271.4 88.6 270.6 89.6 269.8 90.6 269.1 91.6 268.3 92.6 267.6 93.6 266.8 94.6 266.1 95.6 265.4 96.6 264.7 97.6 264.0 98.6 263.4 99.6 262.7 100.6 262.1 101.6 261.5 102.6 260.9 103.6 260.3 104.6 259.8 105.6 259.2 106.6 258.7 107.6 258.2 108.6 257.8 109.6 257.4 110.6 257.0 111.6 256.6 112.6 256.3 113.6 256.0 114.6 255.7 115.6 255.4 116.6 255.2 117.6 255.0 118.6 254.8 119.6 254.7 120.6 254.6 121.6 254.5 122.6 254.5 123.6 254.5 124.6 254.5 125.6 254.5 126.6 254.6 127.6 254.6 128.6 254.8 129.6 254.9 130.6 255.1 131.6 255.4 132.6 255.7 133.6 256.0 134.6 256.5 135.6 257.0 136.6 257.7 137.6 258.3 138.6 259.1 139.6 259.8 140.6 260.5 141.6 261.3 142.6 262.0 143.6 262.7 144.6 263.4 145.6 264.2 146.6 264.9 147.6 265.7 148.6 266.5 149.6 267.3 150.6 268.1 151.6 269.0 152.6 269.8 153.6 270.7 154.6 271.6 155.6 272.5 156.6 273.4 157.6 274.3 158.6 275.3 159.6 276.2 160.6 277.2 161.6 278.2 162.6 279.2 163.6 280.2 164.6 281.2 165.6 282.3 166.6 283.3 167.6 284.3 168.6 285.3 169.6 286.3 170.6 287.3 171.6 288.2 172.6 289.1 173.6 290.0 174.6 290.8 175.6 291.6 176.6 292.4 177.6 293.2 178.6 294.0 179.6 294.8 180.6 295.5 181.6 296.3 182.6 297.0 183.6 297.8 184.6 298.5 185.6 299.2 186.6 300.0 187.6 300.7 188.6 301.4 189.6 302.1 190.6 302.8 191.6 303.5 192.6 304.2 193.6 304.9 194.6 305.5 195.6 306.2 196.6 306.8 197.6 307.4 198.6 307.9 199.6 308.4 200.6 308.9 201.6 309.4 202.6 309.8 203.6 310.2 204.6 310.6 205.6 311.0 206.6 311.4 207.6 311.8 208.6 312.1 209.6 312.5 210.6 312.8 211.6 313.1 212.6 313.4 213.6 313.7 214.6 314.0 215.6 314.3 216.6 314.5 217.6 314.8 218.6 315.0 219.6 315.2 220.6 315.4 221.6 315.6 222.6 315.8 223.6 316.0 224.6 316.1 225.6 316.3 226.6 316.4 227.6 316.5 228.6 316.6 229.6 316.7 230.6 316.8 231.6 316.9 232.6 317.0 233.6 317.0 234.6 317.1 235.6 317.1 236.6 317.2 237.6 317.2 238.6 317.2 239.6 317.3 240.6 317.3 241.6 317.3 242.6 317.3 243.6 317.3 244.6 317.3 245.6 317.3 246.6 317.3 247.6 317.3 248.6 317.3 249.6 317.3 250.6 317.3 251.6 317.3 252.6 317.3 253.6 317.2 254.6 317.2 255.6 317.2 256.6 317.2 257.6 317.2 258.6 317.2 259.6 317.1 260.6 317.1 261.6 317.1 262.6 317.1 263.6 317.1 264.6 317.0 265.6 317.0 266.6 317.0 267.6 317.0 268.6 317.0 269.6 316.9 270.6 316.9 271.6 316.9 272.6 316.9 273.6 316.8 274.6 316.8 275.6 316.8 276.6 316.8 277.6 316.8 278.6 316.7 279.6 316.7 280.6 316.7 281.6 316.7 282.6 316.6 283.6 316.6 284.6 316.6 285.6 316.6 286.6 316.6 287.6 316.5 288.6 316.5 289.6 316.5 290.6 316.5 291.6 316.4 292.6 316.4 293.6 316.4 294.6 316.4 295.6 316.3 296.6 316.3 297.6 316.3 298.6 316.3 299.6 316.2 300.6 316.2 301.6 316.2 302.6 316.1 303.6 316.1 304.6 316.1 305.6 316.0 306.6 316.0 307.6 316.0 308.6 315.9 309.6 315.9 310.6 315.9 311.6 315.8 312.6 315.8 313.6 315.7 314.6 315.7 315.6 315.6 316.6 315.6 317.6 315.5 318.6 315.4 319.6 315.4"/><path d="M36.6 315.3 37.6 320.5 38.6 323.4 39.6 325.6 40.6 327.3 41.6 328.5 42.6 329.2 43.6 329.7 44.6 330.0 45.6 330.2 46.6 330.3 47.6 330.4 48.6 330.4 49.6 330.4 50.6 330.3 51.6 330.2 52.6 330.1 53.6 330.0 54.6 329.8 55.6 329.6 56.6 329.4 57.6 329.2 58.6 328.9 59.6 328.7 60.6 328.4 61.6 328.1 62.6 327.7 63.6 327.3 64.6 326.9 65.6 326.5 66.6 326.1 67.6 325.6 68.6 325.1 69.6 324.7 70.6 324.1 71.6 323.6 72.6 323.1 73.6 322.6 74.6 322.0 75.6 321.4 76.6 320.8 77.6 320.2 78.6 319.6 79.6 318.9 80.6 318.2 81.6 317.5 82.6 316.7 83.6 315.9 84.6 315.1 85.6 314.3 86.6 313.4 87.6 312.5 88.6 311.6 89.6 310.7 90.6 309.8 91.6 308.9 92.6 307.9 93.6 306.9 94.6 306.0 95.6 305.0 96.6 304.0 97.6 303.0 98.6 302.0 99.6 301.0 100.6 300.0 101.6 299.0 102.6 298.0 103.6 297.0 104.6 295.9 105.6 294.9 106.6 293.9 107.6 292.9 108.6 292.0 109.6 291.0 110.6 290.0 111.6 289.1 112.6 288.1 113.6 287.1 114.6 286.2 115.6 285.3 116.6 284.3 117.6 283.4 118.6 282.5 119.6 281.7 120.6 280.8 121.6 280.0 122.6 279.2 123.6 278.4 124.6 277.6 125.6 276.8 126.6 276.1 127.6 275.4 128.6 274.7 129.6 274.0 130.6 273.4 131.6 272.8 132.6 272.3 133.6 271.9 134.6 271.5 135.6 271.2 136.6 271.0 137.6 270.8 138.6 270.7 139.6 270.6 140.6 270.5 141.6 270.5 142.6 270.4 143.6 270.3 144.6 270.3 145.6 270.3 146.6 270.3 147.6 270.4 148.6 270.4 149.6 270.5 150.6 270.6 151.6 270.8 152.6 271.0 153.6 271.1 154.6 271.4 155.6 271.6 156.6 271.9 157.6 272.1 158.6 272.5 159.6 272.8 160.6 273.2 161.6 273.6 162.6 274.0 163.6 274.5 164.6 274.9 165.6 275.4 166.6 276.0 167.6 276.6 168.6 277.1 169.6 277.7 170.6 278.4 171.6 278.9 172.6 279.5 173.6 280.1 174.6 280.6 175.6 281.2 176.6 281.7 177.6 282.3 178.6 282.9 179.6 283.5 180.6 284.2 181.6 284.8 182.6 285.5 183.6 286.1 184.6 286.8 185.6 287.5 186.6 288.3 187.6 289.0 188.6 289.8 189.6 290.6 190.6 291.4 191.6 292.2 192.6 293.1 193.6 293.9 194.6 294.7 195.6 295.5 196.6 296.3 197.6 297.1 198.6 297.8 199.6 298.4 200.6 299.0 201.6 299.5 202.6 300.1 203.6 300.6 204.6 301.1 205.6 301.6 206.6 302.0 207.6 302.5 208.6 303.0 209.6 303.4 210.6 303.8 211.6 304.3 212.6 304.7 213.6 305.1 214.6 305.5 215.6 305.9 216.6 306.2 217.6 306.6 218.6 307.0 219.6 307.4 220.6 307.8 221.6 308.1 222.6 308.5 223.6 308.9 224.6 309.3 225.6 309.6 226.6 310.0 227.6 310.3 228.6 310.6 229.6 310.9 230.6 311.2 231.6 311.5 232.6 311.7 233.6 312.0 234.6 312.2 235.6 312.4 236.6 312.6 237.6 312.8 238.6 313.0 239.6 313.2 240.6 313.4 241.6 313.5 242.6 313.7 243.6 313.8 244.6 314.0 245.6 314.1 246.6 314.2 247.6 314.3 248.6 314.4 249.6 314.5 250.6 314.6 251.6 314.7 252.6 314.8 253.6 314.9 254.6 315.0 255.6 315.0 256.6 315.1 257.6 315.2 258.6 315.2 259.6 315.3 260.6 315.3 261.6 315.4 262.6 315.4 263.6 315.5 264.6 315.5 265.6 315.5 266.6 315.6 267.6 315.6 268.6 315.6 269.6 315.7 270.6 315.7 271.6 315.7 272.6 315.7 273.6 315.8 274.6 315.8 275.6 315.8 276.6 315.8 277.6 315.8 278.6 315.9 279.6 315.9 280.6 315.9 281.6 315.9 282.6 315.9 283.6 315.9 284.6 315.9 285.6 315.9 286.6 315.9 287.6 316.0 288.6 316.0 289.6 316.0 290.6 316.0 291.6 316.0 292.6 316.0 293.6 316.0 294.6 316.0 295.6 316.0 296.6 316.0 297.6 316.0 298.6 316.0 299.6 316.0 300.6 315.9 301.6 315.9 302.6 315.9 303.6 315.9 304.6 315.9 305.6 315.9 306.6 315.9 307.6 315.9 308.6 315.8 309.6 315.8 310.6 315.8 311.6 315.8 312.6 315.7 313.6 315.7 314.6 315.7 315.6 315.6 316.6 315.6 317.6 315.5 318.6 315.4 319.6 315.4"/><path d="M36.6 315.3 37.6 323.9 38.6 329.2 39.6 333.2 40.6 336.5 41.6 339.1 42.6 340.9 43.6 342.3 44.6 343.5 45.6 344.5 46.6 345.5 47.6 346.4 48.6 347.2 49.6 347.9 50.6 348.6 51.6 349.3 52.6 349.9 53.6 350.6 54.6 351.2 55.6 351.8 56.6 352.3 57.6 352.8 58.6 353.3 59.6 353.7 60.6 354.1 61.6 354.5 62.6 354.9 63.6 355.1 64.6 355.4 65.6 355.6 66.6 355.7 67.6 355.8 68.6 355.9 69.6 356.0 70.6 356.1 71.6 356.1 72.6 356.1 73.6 356.2 74.6 356.3 75.6 356.3 76.6 356.4 77.6 356.4 78.6 356.4 79.6 356.4 80.6 356.3 81.6 356.2 82.6 355.9 83.6 355.7 84.6 355.3 85.6 355.0 86.6 354.6 87.6 354.2 88.6 353.7 89.6 353.2 90.6 352.7 91.6 352.1 92.6 351.6 93.6 350.9 94.6 350.3 95.6 349.6 96.6 349.0 97.6 348.2 98.6 347.5 99.6 346.7 100.6 346.0 101.6 345.2 102.6 344.4 103.6 343.5 104.6 342.7 105.6 341.8 106.6 340.9 107.6 340.0 108.6 339.1 109.6 338.2 110.6 337.2 111.6 336.3 112.6 335.3 113.6 334.3 114.6 333.3 115.6 332.2 116.6 331.2 117.6 330.1 118.6 329.0 119.6 328.0 120.6 326.9 121.6 325.8 122.6 324.7 123.6 323.6 124.6 322.6 125.6 321.5 126.6 320.4 127.6 319.4 128.6 318.3 129.6 317.3 130.6 316.2 131.6 315.2 132.6 314.2 133.6 313.1 134.6 312.2 135.6 311.2 136.6 310.2 137.6 309.3 138.6 308.4 139.6 307.6 140.6 306.7 141.6 305.9 142.6 305.1 143.6 304.3 144.6 303.6 145.6 302.8 146.6 302.1 147.6 301.4 148.6 300.7 149.6 300.0 150.6 299.3 151.6 298.7 152.6 298.1 153.6 297.5 154.6 296.9 155.6 296.3 156.6 295.8 157.6 295.3 158.6 294.7 159.6 294.3 160.6 293.8 161.6 293.4 162.6 293.0 163.6 292.6 164.6 292.3 165.6 292.0 166.6 291.7 167.6 291.5 168.6 291.3 169.6 291.2 170.6 291.1 171.6 291.0 172.6 290.9 173.6 290.8 174.6 290.7 175.6 290.7 176.6 290.7 177.6 290.7 178.6 290.8 179.6 290.9 180.6 291.0 181.6 291.2 182.6 291.4 183.6 291.6 184.6 291.8 185.6 292.1 186.6 292.4 187.6 292.7 188.6 293.1 189.6 293.5 190.6 294.0 191.6 294.4 192.6 294.9 193.6 295.4 194.6 295.9 195.6 296.4 196.6 296.9 197.6 297.4 198.6 297.9 199.6 298.2 200.6 298.6 201.6 298.9 202.6 299.2 203.6 299.5 204.6 299.9 205.6 300.1 206.6 300.4 207.6 300.7 208.6 301.0 209.6 301.3 210.6 301.6 211.6 301.9 212.6 302.1 213.6 302.4 214.6 302.7 215.6 303.0 216.6 303.3 217.6 303.6 218.6 303.9 219.6 304.2 220.6 304.5 221.6 304.8 222.6 305.2 223.6 305.6 224.6 305.9 225.6 306.3 226.6 306.6 227.6 307.0 228.6 307.3 229.6 307.7 230.6 308.0 231.6 308.3 232.6 308.5 233.6 308.8 234.6 309.1 235.6 309.3 236.6 309.6 237.6 309.8 238.6 310.1 239.6 310.3 240.6 310.5 241.6 310.8 242.6 311.0 243.6 311.2 244.6 311.4 245.6 311.5 246.6 311.7 247.6 311.9 248.6 312.0 249.6 312.2 250.6 312.3 251.6 312.5 252.6 312.6 253.6 312.7 254.6 312.8 255.6 313.0 256.6 313.1 257.6 313.2 258.6 313.3 259.6 313.4 260.6 313.5 261.6 313.6 262.6 313.7 263.6 313.7 264.6 313.8 265.6 313.9 266.6 314.0 267.6 314.0 268.6 314.1 269.6 314.2 270.6 314.2 271.6 314.3 272.6 314.3 273.6 314.4 274.6 314.4 275.6 314.5 276.6 314.5 277.6 314.6 278.6 314.6 279.6 314.7 280.6 314.7 281.6 314.8 282.6 314.8 283.6 314.8 284.6 314.9 285.6 314.9 286.6 315.0 287.6 315.0 288.6 315.0 289.6 315.0 290.6 315.1 291.6 315.1 292.6 315.1 293.6 315.2 294.6 315.2 295.6 315.2 296.6 315.2 297.6 315.3 298.6 315.3 299.6 315.3 300.6 315.3 301.6 315.3 302.6 315.3 303.6 315.4 304.6 315.4 305.6 315.4 306.6 315.4 307.6 315.4 308.6 315.4 309.6 315.4 310.6 315.4 311.6 315.4 312.6 315.4 313.6 315.4 314.6 315.4 315.6 315.4 316.6 315.4 317.6 315.4 318.6 315.3 319.6 315.3"/><path d="M36.6 315.3 37.6 322.3 38.6 326.8 39.6 330.3 40.6 333.3 41.6 335.7 42.6 337.6 43.6 339.1 44.6 340.5 45.6 341.8 46.6 343.0 47.6 344.2 48.6 345.3 49.6 346.3 50.6 347.4 51.6 348.4 52.6 349.5 53.6 350.5 54.6 351.5 55.6 352.5 56.6 353.5 57.6 354.4 58.6 355.3 59.6 356.3 60.6 357.1 61.6 358.0 62.6 358.8 63.6 359.6 64.6 360.3 65.6 361.0 66.6 361.7 67.6 362.3 68.6 362.9 69.6 363.5 70.6 364.1 71.6 364.7 72.6 365.3 73.6 365.9 74.6 366.5 75.6 367.2 76.6 367.9 77.6 368.6 78.6 369.2 79.6 369.8 80.6 370.4 81.6 370.9 82.6 371.3 83.6 371.7 84.6 372.1 85.6 372.4 86.6 372.7 87.6 373.0 88.6 373.2 89.6 373.4 90.6 373.5 91.6 373.7 92.6 373.8 93.6 373.8 94.6 373.9 95.6 373.9 96.6 373.9 97.6 373.8 98.6 373.8 99.6 373.7 100.6 373.6 101.6 373.4 102.6 373.2 103.6 373.1 104.6 372.9 105.6 372.6 106.6 372.3 107.6 372.0 108.6 371.7 109.6 371.3 110.6 370.9 111.6 370.5 112.6 370.0 113.6 369.5 114.6 369.0 115.6 368.4 116.6 367.9 117.6 367.2 118.6 366.6 119.6 365.9 120.6 365.2 121.6 364.5 122.6 363.8 123.6 363.0 124.6 362.3 125.6 361.5 126.6 360.7 127.6 359.9 128.6 359.0 129.6 358.2 130.6 357.3 131.6 356.4 132.6 355.5 133.6 354.6 134.6 353.6 135.6 352.5 136.6 351.5 137.6 350.4 138.6 349.3 139.6 348.2 140.6 347.1 141.6 346.0 142.6 345.0 143.6 343.9 144.6 342.9 145.6 341.9 146.6 340.8 147.6 339.8 148.6 338.8 149.6 337.8 150.6 336.8 151.6 335.8 152.6 334.7 153.6 333.7 154.6 332.7 155.6 331.7 156.6 330.7 157.6 329.7 158.6 328.7 159.6 327.7 160.6 326.7 161.6 325.7 162.6 324.7 163.6 323.8 164.6 322.9 165.6 322.0 166.6 321.1 167.6 320.2 168.6 319.4 169.6 318.6 170.6 317.9 171.6 317.2 172.6 316.5 173.6 315.8 174.6 315.2 175.6 314.6 176.6 314.1 177.6 313.5 178.6 313.0 179.6 312.6 180.6 312.1 181.6 311.7 182.6 311.3 183.6 310.9 184.6 310.6 185.6 310.3 186.6 310.0 187.6 309.7 188.6 309.4 189.6 309.2 190.6 309.0 191.6 308.9 192.6 308.7 193.6 308.6 194.6 308.5 195.6 308.4 196.6 308.3 197.6 308.3 198.6 308.2 199.6 308.1 200.6 308.0 201.6 307.9 202.6 307.8 203.6 307.7 204.6 307.7 205.6 307.6 206.6 307.5 207.6 307.5 208.6 307.4 209.6 307.4 210.6 307.4 211.6 307.3 212.6 307.3 213.6 307.3 214.6 307.3 215.6 307.3 216.6 307.4 217.6 307.4 218.6 307.4 219.6 307.5 220.6 307.6 221.6 307.7 222.6 307.8 223.6 307.9 224.6 308.1 225.6 308.2 226.6 308.4 227.6 308.6 228.6 308.7 229.6 308.9 230.6 309.0 231.6 309.2 232.6 309.3 233.6 309.5 234.6 309.6 235.6 309.8 236.6 309.9 237.6 310.1 238.6 310.2 239.6 310.4 240.6 310.5 241.6 310.6 242.6 310.8 243.6 310.9 244.6 311.1 245.6 311.2 246.6 311.3 247.6 311.4 248.6 311.5 249.6 311.6 250.6 311.8 251.6 311.9 252.6 312.0 253.6 312.1 254.6 312.2 255.6 312.2 256.6 312.3 257.6 312.4 258.6 312.5 259.6 312.6 260.6 312.7 261.6 312.8 262.6 312.8 263.6 312.9 264.6 313.0 265.6 313.1 266.6 313.1 267.6 313.2 268.6 313.2 269.6 313.3 270.6 313.4 271.6 313.4 272.6 313.5 273.6 313.5 274.6 313.6 275.6 313.6 276.6 313.7 277.6 313.7 278.6 313.8 279.6 313.8 280.6 313.9 281.6 313.9 282.6 314.0 283.6 314.0 284.6 314.1 285.6 314.1 286.6 314.1 287.6 314.2 288.6 314.2 289.6 314.3 290.6 314.3 291.6 314.3 292.6 314.4 293.6 314.4 294.6 314.4 295.6 314.5 296.6 314.5 297.6 314.5 298.6 314.6 299.6 314.6 300.6 314.7 301.6 314.7 302.6 314.7 303.6 314.8 304.6 314.8 305.6 314.8 306.6 314.8 307.6 314.9 308.6 314.9 309.6 314.9 310.6 315.0 311.6 315.0 312.6 315.0 313.6 315.1 314.6 315.1 315.6 315.1 316.6 315.2 317.6 315.2 318.6 315.2 319.6 315.3"/><path d="M36.6 315.3 37.6 316.6 38.6 317.6 39.6 318.6 40.6 319.5 41.6 320.4 42.6 321.2 43.6 322.0 44.6 322.7 45.6 323.5 46.6 324.3 47.6 325.0 48.6 325.8 49.6 326.6 50.6 327.4 51.6 328.2 52.6 329.0 53.6 329.8 54.6 330.6 55.6 331.5 56.6 332.3 57.6 333.1 58.6 334.0 59.6 334.8 60.6 335.6 61.6 336.5 62.6 337.3 63.6 338.1 64.6 338.9 65.6 339.7 66.6 340.5 67.6 341.2 68.6 342.0 69.6 342.8 70.6 343.5 71.6 344.3 72.6 345.1 73.6 345.9 74.6 346.8 75.6 347.7 76.6 348.6 77.6 349.5 78.6 350.4 79.6 351.3 80.6 352.2 81.6 353.1 82.6 353.9 83.6 354.7 84.6 355.6 85.6 356.4 86.6 357.2 87.6 358.0 88.6 358.7 89.6 359.5 90.6 360.3 91.6 361.0 92.6 361.7 93.6 362.4 94.6 363.1 95.6 363.8 96.6 364.5 97.6 365.2 98.6 365.8 99.6 366.4 100.6 367.0 101.6 367.6 102.6 368.2 103.6 368.8 104.6 369.3 105.6 369.8 106.6 370.3 107.6 370.8 108.6 371.2 109.6 371.6 110.6 372.0 111.6 372.3 112.6 372.7 113.6 373.0 114.6 373.3 115.6 373.5 116.6 373.8 117.6 373.9 118.6 374.1 119.6 374.2 120.6 374.3 121.6 374.4 122.6 374.4 123.6 374.4 124.6 374.4 125.6 374.4 126.6 374.4 127.6 374.3 128.6 374.2 129.6 374.0 130.6 373.8 131.6 373.6 132.6 373.3 133.6 373.0 134.6 372.5 135.6 372.0 136.6 371.3 137.6 370.7 138.6 370.0 139.6 369.3 140.6 368.5 141.6 367.8 142.6 367.2 143.6 366.5 144.6 365.7 145.6 365.0 146.6 364.3 147.6 363.5 148.6 362.8 149.6 362.0 150.6 361.2 151.6 360.4 152.6 359.5 153.6 358.7 154.6 357.8 155.6 357.0 156.6 356.1 157.6 355.1 158.6 354.2 159.6 353.3 160.6 352.3 161.6 351.4 162.6 350.4 163.6 349.4 164.6 348.4 165.6 347.4 166.6 346.4 167.6 345.4 168.6 344.5 169.6 343.5 170.6 342.5 171.6 341.6 172.6 340.7 173.6 339.9 174.6 339.1 175.6 338.3 176.6 337.5 177.6 336.8 178.6 336.0 179.6 335.3 180.6 334.5 181.6 333.8 182.6 333.1 183.6 332.3 184.6 331.6 185.6 330.9 186.6 330.2 187.6 329.5 188.6 328.8 189.6 328.1 190.6 327.4 191.6 326.7 192.6 326.1 193.6 325.4 194.6 324.8 195.6 324.2 196.6 323.6 197.6 323.0 198.6 322.5 199.6 322.0 200.6 321.5 201.6 321.1 202.6 320.6 203.6 320.2 204.6 319.8 205.6 319.4 206.6 319.1 207.6 318.7 208.6 318.4 209.6 318.1 210.6 317.7 211.6 317.4 212.6 317.1 213.6 316.8 214.6 316.6 215.6 316.3 216.6 316.1 217.6 315.8 218.6 315.6 219.6 315.4 220.6 315.2 221.6 315.0 222.6 314.8 223.6 314.6 224.6 314.5 225.6 314.3 226.6 314.2 227.6 314.1 228.6 314.0 229.6 313.9 230.6 313.8 231.6 313.7 232.6 313.6 233.6 313.5 234.6 313.5 235.6 313.4 236.6 313.4 237.6 313.3 238.6 313.3 239.6 313.3 240.6 313.3 241.6 313.3 242.6 313.2 243.6 313.2 244.6 313.2 245.6 313.2 246.6 313.2 247.6 313.2 248.6 313.2 249.6 313.3 250.6 313.3 251.6 313.3 252.6 313.3 253.6 313.3 254.6 313.3 255.6 313.3 256.6 313.3 257.6 313.4 258.6 313.4 259.6 313.4 260.6 313.4 261.6 313.5 262.6 313.5 263.6 313.5 264.6 313.5 265.6 313.5 266.6 313.6 267.6 313.6 268.6 313.6 269.6 313.6 270.6 313.6 271.6 313.7 272.6 313.7 273.6 313.7 274.6 313.7 275.6 313.8 276.6 313.8 277.6 313.8 278.6 313.8 279.6 313.8 280.6 313.9 281.6 313.9 282.6 313.9 283.6 313.9 284.6 314.0 285.6 314.0 286.6 314.0 287.6 314.0 288.6 314.1 289.6 314.1 290.6 314.1 291.6 314.1 292.6 314.1 293.6 314.2 294.6 314.2 295.6 314.2 296.6 314.2 297.6 314.3 298.6 314.3 299.6 314.3 300.6 314.4 301.6 314.4 302.6 314.4 303.6 314.5 304.6 314.5 305.6 314.5 306.6 314.6 307.6 314.6 308.6 314.6 309.6 314.7 310.6 314.7 311.6 314.8 312.6 314.8 313.6 314.8 314.6 314.9 315.6 314.9 316.6 315.0 317.6 315.1 318.6 315.2 319.6 315.2"/><path d="M36.6 315.3 37.6 310.0 38.6 306.9 39.6 304.7 40.6 303.0 41.6 301.7 42.6 301.0 43.6 300.5 44.6 300.2 45.6 300.0 46.6 299.8 47.6 299.8 48.6 299.7 49.6 299.8 50.6 299.9 51.6 299.9 52.6 300.1 53.6 300.2 54.6 300.4 55.6 300.5 56.6 300.8 57.6 301.0 58.6 301.3 59.6 301.5 60.6 301.9 61.6 302.2 62.6 302.5 63.6 302.9 64.6 303.3 65.6 303.8 66.6 304.2 67.6 304.7 68.6 305.2 69.6 305.7 70.6 306.2 71.6 306.7 72.6 307.3 73.6 307.8 74.6 308.4 75.6 309.0 76.6 309.6 77.6 310.3 78.6 310.9 79.6 311.6 80.6 312.3 81.6 313.1 82.6 313.8 83.6 314.6 84.6 315.5 85.6 316.3 86.6 317.1 87.6 318.0 88.6 318.9 89.6 319.7 90.6 320.6 91.6 321.6 92.6 322.5 93.6 323.4 94.6 324.4 95.6 325.3 96.6 326.3 97.6 327.3 98.6 328.2 99.6 329.2 100.6 330.2 101.6 331.2 102.6 332.2 103.6 333.1 104.6 334.1 105.6 335.1 106.6 336.1 107.6 337.0 108.6 338.0 109.6 338.9 110.6 339.9 111.6 340.8 112.6 341.7 113.6 342.7 114.6 343.6 115.6 344.5 116.6 345.4 117.6 346.3 118.6 347.2 119.6 348.0 120.6 348.8 121.6 349.6 122.6 350.4 123.6 351.2 124.6 352.0 125.6 352.7 126.6 353.4 127.6 354.1 128.6 354.8 129.6 355.4 130.6 356.0 131.6 356.6 132.6 357.1 133.6 357.5 134.6 357.9 135.6 358.2 136.6 358.4 137.6 358.6 138.6 358.7 139.6 358.8 140.6 358.8 141.6 358.9 142.6 359.0 143.6 359.0 144.6 359.0 145.6 359.1 146.6 359.0 147.6 359.0 148.6 358.9 149.6 358.8 150.6 358.7 151.6 358.6 152.6 358.4 153.6 358.2 154.6 358.0 155.6 357.8 156.6 357.5 157.6 357.3 158.6 357.0 159.6 356.6 160.6 356.3 161.6 355.9 162.6 355.5 163.6 355.0 164.6 354.6 165.6 354.1 166.6 353.5 167.6 353.0 168.6 352.4 169.6 351.8 170.6 351.2 171.6 350.6 172.6 350.1 173.6 349.5 174.6 349.0 175.6 348.5 176.6 347.9 177.6 347.4 178.6 346.8 179.6 346.2 180.6 345.6 181.6 344.9 182.6 344.3 183.6 343.7 184.6 343.0 185.6 342.3 186.6 341.6 187.6 340.9 188.6 340.1 189.6 339.3 190.6 338.5 191.6 337.7 192.6 336.9 193.6 336.1 194.6 335.4 195.6 334.6 196.6 333.8 197.6 333.0 198.6 332.3 199.6 331.7 200.6 331.2 201.6 330.6 202.6 330.1 203.6 329.6 204.6 329.1 205.6 328.7 206.6 328.2 207.6 327.7 208.6 327.3 209.6 326.9 210.6 326.5 211.6 326.0 212.6 325.6 213.6 325.2 214.6 324.9 215.6 324.5 216.6 324.1 217.6 323.7 218.6 323.4 219.6 323.0 220.6 322.6 221.6 322.3 222.6 321.9 223.6 321.5 224.6 321.2 225.6 320.8 226.6 320.5 227.6 320.2 228.6 319.8 229.6 319.6 230.6 319.3 231.6 319.0 232.6 318.8 233.6 318.5 234.6 318.3 235.6 318.1 236.6 317.9 237.6 317.7 238.6 317.5 239.6 317.3 240.6 317.2 241.6 317.0 242.6 316.9 243.6 316.7 244.6 316.6 245.6 316.5 246.6 316.3 247.6 316.2 248.6 316.1 249.6 316.0 250.6 315.9 251.6 315.9 252.6 315.8 253.6 315.7 254.6 315.6 255.6 315.6 256.6 315.5 257.6 315.4 258.6 315.4 259.6 315.3 260.6 315.3 261.6 315.2 262.6 315.2 263.6 315.1 264.6 315.1 265.6 315.1 266.6 315.0 267.6 315.0 268.6 314.9 269.6 314.9 270.6 314.9 271.6 314.9 272.6 314.8 273.6 314.8 274.6 314.8 275.6 314.8 276.6 314.8 277.6 314.7 278.6 314.7 279.6 314.7 280.6 314.7 281.6 314.7 282.6 314.7 283.6 314.7 284.6 314.7 285.6 314.6 286.6 314.6 287.6 314.6 288.6 314.6 289.6 314.6 290.6 314.6 291.6 314.6 292.6 314.6 293.6 314.6 294.6 314.6 295.6 314.6 296.6 314.6 297.6 314.6 298.6 314.6 299.6 314.6 300.6 314.6 301.6 314.6 302.6 314.7 303.6 314.7 304.6 314.7 305.6 314.7 306.6 314.7 307.6 314.7 308.6 314.8 309.6 314.8 310.6 314.8 311.6 314.8 312.6 314.9 313.6 314.9 314.6 314.9 315.6 315.0 316.6 315.0 317.6 315.1 318.6 315.2 319.6 315.2"/></g>
<g fill="none" stroke="#d8393b" stroke-width="1.4" stroke-dasharray="4.5 3.3"><path d="M36.6 315.3 37.6 306.2 38.6 300.6 39.6 296.3 40.6 292.8 41.6 289.9 42.6 287.9 43.6 286.3 44.6 284.9 45.6 283.6 46.6 282.4 47.6 281.3 48.6 280.3 49.6 279.3 50.6 278.3 51.6 277.4 52.6 276.4 53.6 275.5 54.6 274.6 55.6 273.7 56.6 272.8 57.6 272.0 58.6 271.1 59.6 270.3 60.6 269.5 61.6 268.8 62.6 268.0 63.6 267.4 64.6 266.7 65.6 266.1 66.6 265.6 67.6 265.0 68.6 264.5 69.6 264.0 70.6 263.5 71.6 263.0 72.6 262.5 73.6 261.9 74.6 261.3 75.6 260.7 76.6 260.1 77.6 259.5 78.6 258.8 79.6 258.2 80.6 257.7 81.6 257.2 82.6 256.8 83.6 256.4 84.6 256.0 85.6 255.7 86.6 255.3 87.6 255.0 88.6 254.7 89.6 254.5 90.6 254.2 91.6 254.0 92.6 253.8 93.6 253.6 94.6 253.4 95.6 253.2 96.6 253.1 97.6 252.9 98.6 252.8 99.6 252.6 100.6 252.5 101.6 252.4 102.6 252.3 103.6 252.2 104.6 252.1 105.6 252.0 106.6 251.9 107.6 251.9 108.6 251.8 109.6 251.8 110.6 251.8 111.6 251.9 112.6 251.9 113.6 251.9 114.6 251.9 115.6 252.0 116.6 252.1 117.6 252.2 118.6 252.3 119.6 252.4 120.6 252.5 121.6 252.7 122.6 252.8 123.6 252.9 124.6 253.1 125.6 253.2 126.6 253.4 127.6 253.6 128.6 253.8 129.6 254.0 130.6 254.2 131.6 254.5 132.6 254.7 133.6 255.1 134.6 255.5 135.6 256.0 136.6 256.6 137.6 257.2 138.6 257.8 139.6 258.4 140.6 259.0 141.6 259.6 142.6 260.2 143.6 260.7 144.6 261.3 145.6 261.9 146.6 262.4 147.6 263.0 148.6 263.6 149.6 264.1 150.6 264.7 151.6 265.3 152.6 265.9 153.6 266.5 154.6 267.1 155.6 267.7 156.6 268.4 157.6 269.0 158.6 269.6 159.6 270.3 160.6 270.9 161.6 271.6 162.6 272.2 163.6 272.9 164.6 273.6 165.6 274.2 166.6 274.9 167.6 275.6 168.6 276.3 169.6 277.0 170.6 277.7 171.6 278.3 172.6 279.0 173.6 279.5 174.6 280.1 175.6 280.7 176.6 281.2 177.6 281.8 178.6 282.3 179.6 282.9 180.6 283.5 181.6 284.1 182.6 284.7 183.6 285.4 184.6 286.0 185.6 286.6 186.6 287.3 187.6 288.0 188.6 288.7 189.6 289.5 190.6 290.2 191.6 291.0 192.6 291.7 193.6 292.5 194.6 293.2 195.6 294.0 196.6 294.8 197.6 295.5 198.6 296.1 199.6 296.6 200.6 297.2 201.6 297.6 202.6 298.1 203.6 298.5 204.6 298.9 205.6 299.3 206.6 299.7 207.6 300.1 208.6 300.4 209.6 300.8 210.6 301.1 211.6 301.5 212.6 301.8 213.6 302.1 214.6 302.5 215.6 302.8 216.6 303.1 217.6 303.4 218.6 303.7 219.6 304.0 220.6 304.3 221.6 304.7 222.6 305.0 223.6 305.4 224.6 305.7 225.6 306.1 226.6 306.4 227.6 306.8 228.6 307.1 229.6 307.4 230.6 307.7 231.6 308.0 232.6 308.2 233.6 308.5 234.6 308.7 235.6 309.0 236.6 309.2 237.6 309.4 238.6 309.6 239.6 309.8 240.6 310.0 241.6 310.2 242.6 310.4 243.6 310.6 244.6 310.8 245.6 311.0 246.6 311.1 247.6 311.3 248.6 311.4 249.6 311.5 250.6 311.6 251.6 311.8 252.6 311.9 253.6 312.0 254.6 312.1 255.6 312.2 256.6 312.3 257.6 312.4 258.6 312.5 259.6 312.6 260.6 312.6 261.6 312.7 262.6 312.8 263.6 312.9 264.6 312.9 265.6 313.0 266.6 313.1 267.6 313.1 268.6 313.2 269.6 313.2 270.6 313.3 271.6 313.3 272.6 313.4 273.6 313.4 274.6 313.5 275.6 313.5 276.6 313.6 277.6 313.6 278.6 313.7 279.6 313.7 280.6 313.7 281.6 313.8 282.6 313.8 283.6 313.8 284.6 313.9 285.6 313.9 286.6 313.9 287.6 314.0 288.6 314.0 289.6 314.0 290.6 314.1 291.6 314.1 292.6 314.1 293.6 314.1 294.6 314.2 295.6 314.2 296.6 314.2 297.6 314.3 298.6 314.3 299.6 314.3 300.6 314.4 301.6 314.4 302.6 314.4 303.6 314.5 304.6 314.5 305.6 314.5 306.6 314.5 307.6 314.6 308.6 314.6 309.6 314.7 310.6 314.7 311.6 314.7 312.6 314.8 313.6 314.8 314.6 314.9 315.6 314.9 316.6 315.0 317.6 315.1 318.6 315.2 319.6 315.2"/><path d="M36.6 315.3 37.6 324.2 38.6 329.6 39.6 333.8 40.6 337.2 41.6 340.0 42.6 341.9 43.6 343.5 44.6 344.9 45.6 346.1 46.6 347.3 47.6 348.4 48.6 349.4 49.6 350.3 50.6 351.2 51.6 352.2 52.6 353.1 53.6 354.0 54.6 354.9 55.6 355.8 56.6 356.6 57.6 357.4 58.6 358.2 59.6 359.0 60.6 359.8 61.6 360.5 62.6 361.3 63.6 361.9 64.6 362.5 65.6 363.1 66.6 363.6 67.6 364.2 68.6 364.7 69.6 365.1 70.6 365.6 71.6 366.1 72.6 366.6 73.6 367.2 74.6 367.8 75.6 368.4 76.6 369.0 77.6 369.6 78.6 370.2 79.6 370.8 80.6 371.3 81.6 371.8 82.6 372.2 83.6 372.6 84.6 372.9 85.6 373.3 86.6 373.6 87.6 373.9 88.6 374.2 89.6 374.4 90.6 374.7 91.6 374.9 92.6 375.1 93.6 375.3 94.6 375.5 95.6 375.7 96.6 375.8 97.6 376.0 98.6 376.1 99.6 376.2 100.6 376.3 101.6 376.5 102.6 376.6 103.6 376.7 104.6 376.8 105.6 376.9 106.6 376.9 107.6 377.0 108.6 377.0 109.6 377.0 110.6 377.0 111.6 377.0 112.6 377.0 113.6 376.9 114.6 376.9 115.6 376.9 116.6 376.8 117.6 376.7 118.6 376.6 119.6 376.5 120.6 376.4 121.6 376.2 122.6 376.1 123.6 375.9 124.6 375.8 125.6 375.6 126.6 375.5 127.6 375.3 128.6 375.1 129.6 374.9 130.6 374.7 131.6 374.5 132.6 374.2 133.6 373.9 134.6 373.5 135.6 373.0 136.6 372.4 137.6 371.8 138.6 371.2 139.6 370.6 140.6 370.0 141.6 369.4 142.6 368.9 143.6 368.4 144.6 367.8 145.6 367.3 146.6 366.7 147.6 366.2 148.6 365.6 149.6 365.0 150.6 364.5 151.6 363.9 152.6 363.3 153.6 362.7 154.6 362.1 155.6 361.5 156.6 360.9 157.6 360.3 158.6 359.7 159.6 359.1 160.6 358.5 161.6 357.8 162.6 357.2 163.6 356.5 164.6 355.9 165.6 355.2 166.6 354.6 167.6 353.9 168.6 353.2 169.6 352.5 170.6 351.9 171.6 351.2 172.6 350.6 173.6 350.1 174.6 349.5 175.6 349.0 176.6 348.4 177.6 347.9 178.6 347.3 179.6 346.8 180.6 346.2 181.6 345.6 182.6 345.0 183.6 344.4 184.6 343.8 185.6 343.2 186.6 342.5 187.6 341.8 188.6 341.1 189.6 340.4 190.6 339.7 191.6 338.9 192.6 338.2 193.6 337.5 194.6 336.8 195.6 336.0 196.6 335.3 197.6 334.6 198.6 334.0 199.6 333.4 200.6 332.9 201.6 332.5 202.6 332.1 203.6 331.6 204.6 331.2 205.6 330.8 206.6 330.5 207.6 330.1 208.6 329.8 209.6 329.4 210.6 329.1 211.6 328.7 212.6 328.4 213.6 328.1 214.6 327.8 215.6 327.5 216.6 327.2 217.6 326.9 218.6 326.6 219.6 326.3 220.6 326.0 221.6 325.6 222.6 325.3 223.6 324.9 224.6 324.6 225.6 324.3 226.6 323.9 227.6 323.6 228.6 323.3 229.6 323.0 230.6 322.7 231.6 322.4 232.6 322.2 233.6 321.9 234.6 321.7 235.6 321.5 236.6 321.2 237.6 321.0 238.6 320.8 239.6 320.6 240.6 320.4 241.6 320.2 242.6 320.0 243.6 319.9 244.6 319.7 245.6 319.5 246.6 319.4 247.6 319.2 248.6 319.1 249.6 319.0 250.6 318.9 251.6 318.7 252.6 318.6 253.6 318.5 254.6 318.4 255.6 318.3 256.6 318.2 257.6 318.1 258.6 318.0 259.6 318.0 260.6 317.9 261.6 317.8 262.6 317.7 263.6 317.7 264.6 317.6 265.6 317.5 266.6 317.5 267.6 317.4 268.6 317.4 269.6 317.3 270.6 317.3 271.6 317.2 272.6 317.2 273.6 317.1 274.6 317.1 275.6 317.0 276.6 317.0 277.6 316.9 278.6 316.9 279.6 316.9 280.6 316.8 281.6 316.8 282.6 316.7 283.6 316.7 284.6 316.7 285.6 316.6 286.6 316.6 287.6 316.6 288.6 316.6 289.6 316.5 290.6 316.5 291.6 316.5 292.6 316.5 293.6 316.4 294.6 316.4 295.6 316.4 296.6 316.3 297.6 316.3 298.6 316.3 299.6 316.2 300.6 316.2 301.6 316.2 302.6 316.2 303.6 316.1 304.6 316.1 305.6 316.1 306.6 316.0 307.6 316.0 308.6 316.0 309.6 315.9 310.6 315.9 311.6 315.8 312.6 315.8 313.6 315.8 314.6 315.7 315.6 315.7 316.6 315.6 317.6 315.5 318.6 315.4 319.6 315.4"/></g>
<circle cx="109.3" cy="251.6" r="2.4" fill="#0000ff"/>
<rect x="36.6" y="232.8" width="283.9" height="165.2" fill="none" stroke="#5a5a5a" stroke-width="1.2"/>
<path d="M36.6 398.0h2.5M320.5 398.0h-2.5M36.6 370.5h2.5M320.5 370.5h-2.5M36.6 342.9h2.5M320.5 342.9h-2.5M36.6 315.4h2.5M320.5 315.4h-2.5M36.6 287.9h2.5M320.5 287.9h-2.5M36.6 260.3h2.5M320.5 260.3h-2.5M36.6 232.8h2.5M320.5 232.8h-2.5M36.6 398.0v-2.5M36.6 232.8v2.5M131.2 398.0v-2.5M131.2 232.8v2.5M225.9 398.0v-2.5M225.9 232.8v2.5M320.5 398.0v-2.5M320.5 232.8v2.5" stroke="#5a5a5a" stroke-width="1" fill="none"/>
<polygon points="148.3,357.1 154.4,355.3 230.0,369.8 320.6,386.6 299.1,398.4 252.0,385.6 230.0,379.4 214.0,374.6 206.0,374.6 197.6,373.4 190.0,371.5 177.9,367.2 168.0,364.4 160.0,361.5 149.1,358.3" fill="url(#lgc)"/>
<g clip-path="url(#pcc)">
<ellipse cx="193" cy="367.5" rx="45" ry="6.5" transform="rotate(11 193 367.5)" fill="url(#gcy)"/>
<ellipse cx="197" cy="371.2" rx="20" ry="3.4" transform="rotate(12 197 371.2)" fill="url(#gbl2)"/>
</g>
<path d="M170.0 364.2 178.0 367.3 188.0 371.0 198.0 373.6 206.0 374.6 213.0 374.6" fill="none" stroke="#1a50c8" stroke-width="1.1"/>
<text x="34.6" y="402.3" font-size="10.4" text-anchor="end" fill="#333333" >-0.6</text>
<text x="34.6" y="374.6" font-size="10.4" text-anchor="end" fill="#333333" >-0.4</text>
<text x="34.6" y="348.1" font-size="10.4" text-anchor="end" fill="#333333" >-0.2</text>
<text x="32.9" y="322.3" font-size="10.4" text-anchor="end" fill="#333333" >0</text>
<text x="35.9" y="293.5" font-size="10.4" text-anchor="end" fill="#333333" >0.2</text>
<text x="35.9" y="266.4" font-size="10.4" text-anchor="end" fill="#333333" >0.4</text>
<text x="35.9" y="238.1" font-size="10.4" text-anchor="end" fill="#333333" >0.6</text>
<text x="36.9" y="414.3" font-size="10.4" text-anchor="middle" fill="#333333" >0</text>
<text x="131.5" y="414.3" font-size="10.4" text-anchor="middle" fill="#333333" >50</text>
<text x="227.1" y="414.3" font-size="10.4" text-anchor="middle" fill="#333333" >100</text>
<text x="321.7" y="414.3" font-size="10.4" text-anchor="middle" fill="#333333" >150</text>
<text transform="translate(74.5,431.6) scale(0.966,1)" font-size="17" fill="#333333" stroke="#333333" stroke-width="0.25" >Distance from the base (mm)</text>
<text transform="translate(13.7,378.0) rotate(-90) scale(0.964,1)" font-size="17" fill="#333333" stroke="#333333" stroke-width="0.25" >Displacement (mm)</text>
<text x="254.0" y="257.6" font-size="20.5" font-weight="bold" fill="#111" >c</text>
<text transform="translate(270.3,257.6) scale(1.0,1)" font-size="14" fill="#1a1a1a">100 Hz</text>
<line x1="366.7" y1="314.8" x2="649.4" y2="314.8" stroke="#d2d2d2" stroke-width="1.2"/>
<g fill="none" stroke="#226cb4" stroke-width="1.5" stroke-linejoin="round"><path d="M366.7 314.8 367.2 297.7 367.7 291.3 368.2 291.0 368.7 290.7 369.2 287.1 369.7 282.8 370.2 280.2 370.7 278.9 371.2 278.9 371.7 278.8 372.2 278.0 372.7 276.3 373.2 274.9 373.7 274.2 374.2 274.2 374.7 274.1 375.2 273.7 375.7 272.7 376.2 271.8 376.7 271.3 377.2 271.3 377.7 271.3 378.2 271.0 378.7 270.3 379.2 269.7 379.7 269.4 380.2 269.4 380.7 269.4 381.2 269.2 381.7 268.7 382.2 268.3 382.7 268.0 383.2 268.0 383.7 268.0 384.2 267.8 384.7 267.5 385.2 267.2 385.7 267.0 386.2 267.0 386.7 267.0 387.2 266.9 387.7 266.7 388.2 266.5 388.7 266.4 389.2 266.4 389.7 266.3 390.2 266.3 390.7 266.1 391.2 265.9 391.7 265.8 392.2 265.8 392.7 265.8 393.2 265.7 393.7 265.7 394.2 265.9 394.7 266.0 395.2 266.0 395.7 266.0 396.2 266.1 396.7 266.4 397.2 266.7 397.7 266.9 398.2 266.9 398.7 266.9 399.2 267.1 399.7 267.5 400.2 268.0 400.7 268.3 401.2 268.3 401.7 268.4 402.2 268.6 402.7 269.2 403.2 269.8 403.7 270.3 404.2 270.3 404.7 270.3 405.2 270.6 405.7 271.3 406.2 272.1 406.7 272.6 407.2 272.6 407.7 272.6 408.2 273.0 408.7 273.8 409.2 274.7 409.7 275.2 410.2 275.3 410.7 275.3 411.2 275.7 411.7 276.6 412.2 277.6 412.7 278.2 413.2 278.2 413.7 278.2 414.2 278.7 414.7 279.7 415.2 280.7 415.7 281.4 416.2 281.4 416.7 281.4 417.2 281.9 417.7 282.9 418.2 284.0 418.7 284.7 419.2 284.7 419.7 284.7 420.2 285.2 420.7 286.3 421.2 287.4 421.7 288.1 422.2 288.1 422.7 288.2 423.2 288.6 423.7 289.7 424.2 290.9 424.7 291.6 425.2 291.6 425.7 291.6 426.2 292.1 426.7 293.2 427.2 294.3 427.7 295.0 428.2 295.1 428.7 295.2 429.2 295.8 429.7 296.8 430.2 297.8 430.7 298.5 431.2 298.7 431.7 298.9 432.2 299.4 432.7 300.4 433.2 301.3 433.7 302.0 434.2 302.3 434.7 302.6 435.2 303.1 435.7 304.0 436.2 304.9 436.7 305.5 437.2 305.9 437.7 306.3 438.2 306.9 438.7 307.7 439.2 308.5 439.7 309.1 440.2 309.6 440.7 310.1 441.2 310.7 441.7 311.4 442.2 312.1 442.7 312.7 443.2 313.2 443.7 313.8 444.2 314.4 444.7 315.0 445.2 315.6 445.7 316.2 446.2 316.8 446.7 317.4 447.2 317.9 447.7 318.5 448.2 319.1 448.7 319.6 449.2 320.2 449.7 320.7 450.2 321.2 450.7 321.8 451.2 322.3 451.7 322.8 452.2 323.3 452.7 323.8 453.2 324.3 453.7 324.8 454.2 325.2 454.7 325.7 455.2 326.1 455.7 326.6 456.2 327.0 456.7 327.4 457.2 327.8 457.7 328.2 458.2 328.6 458.7 329.0 459.2 329.4 459.7 329.8 460.2 330.1 460.7 330.5 461.2 330.8 461.7 331.1 462.2 331.4 462.7 331.8 463.2 332.1 463.7 332.3 464.2 332.6 464.7 332.9 465.2 333.2 465.7 333.4 466.2 333.6 466.7 333.9 467.2 334.1 467.7 334.3 468.2 334.5 468.7 334.7 469.2 334.9 469.7 335.1 470.2 335.2 470.7 335.4 471.2 335.6 471.7 335.7 472.2 335.9 472.7 336.0 473.2 336.1 473.7 336.2 474.2 336.4 474.7 336.5 475.2 336.6 475.7 336.7 476.2 336.8 476.7 336.9 477.2 337.0 477.7 337.1 478.2 337.2 478.7 337.3 479.2 337.3 479.7 337.4 480.2 337.5 480.7 337.6 481.2 337.6 481.7 337.7 482.2 337.8 482.7 337.8 483.2 337.9 483.7 337.9 484.2 337.9 484.7 338.0 485.2 338.0 485.7 338.0 486.2 338.0 486.7 338.0 487.2 338.0 487.7 338.1 488.2 338.0 488.7 338.0 489.2 338.0 489.7 338.0 490.2 338.0 490.7 338.0 491.2 337.9 491.7 337.9 492.2 337.9 492.7 337.8 493.2 337.7 493.7 337.7 494.2 337.6 494.7 337.5 495.2 337.4 495.7 337.4 496.2 337.2 496.7 337.1 497.2 337.0 497.7 336.9 498.2 336.7 498.7 336.5 499.2 336.4 499.7 336.2 500.2 336.0 500.7 335.7 501.2 335.5 501.7 335.3 502.2 335.0 502.7 334.8 503.2 334.6 503.7 334.3 504.2 334.0 504.7 333.8 505.2 333.5 505.7 333.3 506.2 333.0 506.7 332.8 507.2 332.5 507.7 332.3 508.2 332.0 508.7 331.8 509.2 331.6 509.7 331.4 510.2 331.2 510.7 331.0 511.2 330.9 511.7 330.7 512.2 330.5 512.7 330.4 513.2 330.2 513.7 330.1 514.2 329.9 514.7 329.8 515.2 329.6 515.7 329.5 516.2 329.4 516.7 329.2 517.2 329.1 517.7 328.9 518.2 328.8 518.7 328.7 519.2 328.5 519.7 328.4 520.2 328.3 520.7 328.1 521.2 328.0 521.7 327.9 522.2 327.7 522.7 327.6 523.2 327.5 523.7 327.3 524.2 327.2 524.7 327.1 525.2 326.9 525.7 326.8 526.2 326.7 526.7 326.5 527.2 326.4 527.7 326.3 528.2 326.1 528.7 326.0 529.2 325.9 529.7 325.7 530.2 325.6 530.7 325.5 531.2 325.3 531.7 325.2 532.2 325.1 532.7 325.0 533.2 324.8 533.7 324.7 534.2 324.6 534.7 324.5 535.2 324.3 535.7 324.2 536.2 324.1 536.7 323.9 537.2 323.8 537.7 323.7 538.2 323.6 538.7 323.5 539.2 323.3 539.7 323.2 540.2 323.1 540.7 323.0 541.2 322.8 541.7 322.7 542.2 322.6 542.7 322.5 543.2 322.3 543.7 322.2 544.2 322.1 544.7 322.0 545.2 321.9 545.7 321.8 546.2 321.6 546.7 321.5 547.2 321.4 547.7 321.3 548.2 321.2 548.7 321.1 549.2 321.0 549.7 320.9 550.2 320.8 550.7 320.7 551.2 320.6 551.7 320.5 552.2 320.4 552.7 320.3 553.2 320.2 553.7 320.1 554.2 320.0 554.7 319.9 555.2 319.8 555.7 319.7 556.2 319.6 556.7 319.5 557.2 319.4 557.7 319.4 558.2 319.3 558.7 319.2 559.2 319.1 559.7 319.0 560.2 318.9 560.7 318.9 561.2 318.8 561.7 318.7 562.2 318.6 562.7 318.5 563.2 318.5 563.7 318.4 564.2 318.3 564.7 318.2 565.2 318.2 565.7 318.1 566.2 318.0 566.7 317.9 567.2 317.9 567.7 317.8 568.2 317.7 568.7 317.6 569.2 317.6 569.7 317.5 570.2 317.4 570.7 317.3 571.2 317.3 571.7 317.2 572.2 317.1 572.7 317.1 573.2 317.0 573.7 316.9 574.2 316.9 574.7 316.8 575.2 316.8 575.7 316.7 576.2 316.6 576.7 316.6 577.2 316.5 577.7 316.5 578.2 316.4 578.7 316.4 579.2 316.4 579.7 316.3 580.2 316.3 580.7 316.2 581.2 316.2 581.7 316.2 582.2 316.1 582.7 316.1 583.2 316.1 583.7 316.0 584.2 316.0 584.7 315.9 585.2 315.9 585.7 315.9 586.2 315.8 586.7 315.8 587.2 315.8 587.7 315.7 588.2 315.7 588.7 315.7 589.2 315.7 589.7 315.6 590.2 315.6 590.7 315.6 591.2 315.5 591.7 315.5 592.2 315.5 592.7 315.5 593.2 315.4 593.7 315.4 594.2 315.4 594.7 315.4 595.2 315.3 595.7 315.3 596.2 315.3 596.7 315.3 597.2 315.2 597.7 315.2 598.2 315.2 598.7 315.2 599.2 315.1 599.7 315.1 600.2 315.1 600.7 315.1 601.2 315.1 601.7 315.0 602.2 315.0 602.7 315.0 603.2 315.0 603.7 315.0 604.2 314.9 604.7 314.9 605.2 314.9 605.7 314.9 606.2 314.9 606.7 314.8 607.2 314.8 607.7 314.8 608.2 314.8 608.7 314.8 609.2 314.8 609.7 314.7 610.2 314.7 610.7 314.7 611.2 314.7 611.7 314.7 612.2 314.7 612.7 314.7 613.2 314.6 613.7 314.6 614.2 314.6 614.7 314.6 615.2 314.6 615.7 314.6 616.2 314.6 616.7 314.6 617.2 314.5 617.7 314.5 618.2 314.5 618.7 314.5 619.2 314.5 619.7 314.5 620.2 314.5 620.7 314.5 621.2 314.5 621.7 314.5 622.2 314.4 622.7 314.4 623.2 314.4 623.7 314.4 624.2 314.4 624.7 314.4 625.2 314.4 625.7 314.4 626.2 314.4 626.7 314.4 627.2 314.4 627.7 314.4 628.2 314.4 628.7 314.4 629.2 314.4 629.7 314.4 630.2 314.3 630.7 314.3 631.2 314.3 631.7 314.3 632.2 314.3 632.7 314.3 633.2 314.3 633.7 314.3 634.2 314.3 634.7 314.3 635.2 314.3 635.7 314.3 636.2 314.3 636.7 314.3 637.2 314.3 637.7 314.3 638.2 314.3 638.7 314.3 639.2 314.3 639.7 314.3 640.2 314.3 640.7 314.3 641.2 314.3 641.7 314.3 642.2 314.3 642.7 314.3 643.2 314.3 643.7 314.3 644.2 314.3 644.7 314.3 645.2 314.3 645.7 314.4 646.2 314.4 646.7 314.4 647.2 314.4 647.7 314.4 648.2 314.4 648.7 314.4 649.2 314.4"/><path d="M366.7 306.9 367.2 306.4 367.7 306.0 368.2 299.3 368.7 291.6 369.2 287.8 369.7 286.7 370.2 286.6 370.7 286.5 371.2 285.0 371.7 282.8 372.2 280.8 372.7 280.1 373.2 280.1 373.7 280.0 374.2 278.9 374.7 277.3 375.2 275.8 375.7 275.3 376.2 275.2 376.7 275.2 377.2 274.3 377.7 273.0 378.2 271.7 378.7 271.2 379.2 271.2 379.7 271.2 380.2 270.4 380.7 269.2 381.2 268.1 381.7 267.7 382.2 267.6 382.7 267.6 383.2 266.9 383.7 265.8 384.2 264.7 384.7 264.3 385.2 264.2 385.7 264.2 386.2 263.5 386.7 262.5 387.2 261.5 387.7 261.1 388.2 261.1 388.7 261.0 389.2 260.4 389.7 259.4 390.2 258.4 390.7 258.0 391.2 257.9 391.7 257.9 392.2 257.2 392.7 256.2 393.2 255.4 393.7 255.1 394.2 255.1 394.7 255.0 395.2 254.6 395.7 253.9 396.2 253.3 396.7 253.1 397.2 253.1 397.7 253.1 398.2 252.7 398.7 252.2 399.2 251.8 399.7 251.6 400.2 251.6 400.7 251.6 401.2 251.3 401.7 251.0 402.2 250.7 402.7 250.6 403.2 250.6 403.7 250.6 404.2 250.4 404.7 250.3 405.2 250.1 405.7 250.0 406.2 250.0 406.7 250.0 407.2 250.0 407.7 249.9 408.2 249.8 408.7 249.8 409.2 249.8 409.7 249.8 410.2 249.8 410.7 249.9 411.2 249.9 411.7 250.0 412.2 250.0 412.7 250.0 413.2 250.1 413.7 250.2 414.2 250.4 414.7 250.5 415.2 250.5 415.7 250.5 416.2 250.7 416.7 250.9 417.2 251.2 417.7 251.3 418.2 251.3 418.7 251.3 419.2 251.5 419.7 251.9 420.2 252.2 420.7 252.4 421.2 252.4 421.7 252.4 422.2 252.7 422.7 253.1 423.2 253.5 423.7 253.7 424.2 253.7 424.7 253.7 425.2 254.0 425.7 254.5 426.2 255.0 426.7 255.2 427.2 255.3 427.7 255.3 428.2 255.7 428.7 256.2 429.2 256.8 429.7 257.0 430.2 257.1 430.7 257.2 431.2 257.6 431.7 258.2 432.2 258.8 432.7 259.1 433.2 259.2 433.7 259.4 434.2 259.8 434.7 260.4 435.2 260.9 435.7 261.3 436.2 261.5 436.7 261.8 437.2 262.3 437.7 262.9 438.2 263.6 438.7 264.0 439.2 264.4 439.7 264.8 440.2 265.3 440.7 266.0 441.2 266.6 441.7 267.1 442.2 267.6 442.7 268.1 443.2 268.7 443.7 269.3 444.2 269.9 444.7 270.5 445.2 271.1 445.7 271.8 446.2 272.4 446.7 273.1 447.2 273.8 447.7 274.5 448.2 275.2 448.7 275.8 449.2 276.5 449.7 277.2 450.2 277.9 450.7 278.6 451.2 279.2 451.7 279.9 452.2 280.6 452.7 281.3 453.2 282.0 453.7 282.7 454.2 283.4 454.7 284.0 455.2 284.7 455.7 285.4 456.2 286.1 456.7 286.7 457.2 287.4 457.7 288.1 458.2 288.7 458.7 289.3 459.2 290.0 459.7 290.6 460.2 291.2 460.7 291.8 461.2 292.5 461.7 293.1 462.2 293.6 462.7 294.2 463.2 294.8 463.7 295.4 464.2 295.9 464.7 296.5 465.2 297.0 465.7 297.6 466.2 298.1 466.7 298.6 467.2 299.1 467.7 299.7 468.2 300.2 468.7 300.7 469.2 301.1 469.7 301.6 470.2 302.1 470.7 302.6 471.2 303.0 471.7 303.5 472.2 304.0 472.7 304.4 473.2 304.8 473.7 305.3 474.2 305.7 474.7 306.1 475.2 306.5 475.7 306.9 476.2 307.3 476.7 307.7 477.2 308.1 477.7 308.5 478.2 308.9 478.7 309.2 479.2 309.6 479.7 310.0 480.2 310.3 480.7 310.7 481.2 311.0 481.7 311.4 482.2 311.7 482.7 312.1 483.2 312.4 483.7 312.7 484.2 313.0 484.7 313.4 485.2 313.7 485.7 314.0 486.2 314.3 486.7 314.6 487.2 314.9 487.7 315.2 488.2 315.5 488.7 315.8 489.2 316.1 489.7 316.3 490.2 316.6 490.7 316.9 491.2 317.1 491.7 317.4 492.2 317.6 492.7 317.9 493.2 318.1 493.7 318.4 494.2 318.6 494.7 318.8 495.2 319.0 495.7 319.2 496.2 319.4 496.7 319.6 497.2 319.8 497.7 320.0 498.2 320.2 498.7 320.3 499.2 320.5 499.7 320.6 500.2 320.8 500.7 320.9 501.2 321.0 501.7 321.1 502.2 321.2 502.7 321.3 503.2 321.4 503.7 321.5 504.2 321.6 504.7 321.6 505.2 321.7 505.7 321.8 506.2 321.8 506.7 321.9 507.2 321.9 507.7 322.0 508.2 322.0 508.7 322.0 509.2 322.1 509.7 322.1 510.2 322.2 510.7 322.2 511.2 322.3 511.7 322.3 512.2 322.3 512.7 322.4 513.2 322.4 513.7 322.5 514.2 322.5 514.7 322.5 515.2 322.6 515.7 322.6 516.2 322.7 516.7 322.7 517.2 322.7 517.7 322.7 518.2 322.8 518.7 322.8 519.2 322.8 519.7 322.8 520.2 322.9 520.7 322.9 521.2 322.9 521.7 322.9 522.2 322.9 522.7 322.9 523.2 322.9 523.7 322.9 524.2 322.9 524.7 322.9 525.2 322.9 525.7 322.9 526.2 322.9 526.7 322.9 527.2 322.9 527.7 322.9 528.2 322.8 528.7 322.8 529.2 322.8 529.7 322.8 530.2 322.8 530.7 322.7 531.2 322.7 531.7 322.7 532.2 322.7 532.7 322.6 533.2 322.6 533.7 322.6 534.2 322.6 534.7 322.5 535.2 322.5 535.7 322.5 536.2 322.4 536.7 322.4 537.2 322.3 537.7 322.3 538.2 322.3 538.7 322.2 539.2 322.2 539.7 322.1 540.2 322.1 540.7 322.0 541.2 322.0 541.7 321.9 542.2 321.9 542.7 321.8 543.2 321.8 543.7 321.7 544.2 321.7 544.7 321.6 545.2 321.6 545.7 321.5 546.2 321.4 546.7 321.4 547.2 321.3 547.7 321.3 548.2 321.2 548.7 321.2 549.2 321.1 549.7 321.0 550.2 321.0 550.7 320.9 551.2 320.9 551.7 320.8 552.2 320.8 552.7 320.7 553.2 320.7 553.7 320.6 554.2 320.5 554.7 320.5 555.2 320.4 555.7 320.4 556.2 320.3 556.7 320.3 557.2 320.2 557.7 320.2 558.2 320.1 558.7 320.0 559.2 320.0 559.7 319.9 560.2 319.9 560.7 319.8 561.2 319.8 561.7 319.7 562.2 319.7 562.7 319.6 563.2 319.5 563.7 319.5 564.2 319.4 564.7 319.4 565.2 319.3 565.7 319.2 566.2 319.2 566.7 319.1 567.2 319.1 567.7 319.0 568.2 318.9 568.7 318.9 569.2 318.8 569.7 318.7 570.2 318.7 570.7 318.6 571.2 318.5 571.7 318.5 572.2 318.4 572.7 318.3 573.2 318.3 573.7 318.2 574.2 318.1 574.7 318.1 575.2 318.0 575.7 318.0 576.2 317.9 576.7 317.9 577.2 317.8 577.7 317.8 578.2 317.7 578.7 317.7 579.2 317.6 579.7 317.6 580.2 317.6 580.7 317.5 581.2 317.5 581.7 317.5 582.2 317.4 582.7 317.4 583.2 317.4 583.7 317.3 584.2 317.3 584.7 317.3 585.2 317.2 585.7 317.2 586.2 317.2 586.7 317.1 587.2 317.1 587.7 317.1 588.2 317.0 588.7 317.0 589.2 317.0 589.7 316.9 590.2 316.9 590.7 316.9 591.2 316.9 591.7 316.8 592.2 316.8 592.7 316.8 593.2 316.7 593.7 316.7 594.2 316.7 594.7 316.7 595.2 316.6 595.7 316.6 596.2 316.6 596.7 316.6 597.2 316.5 597.7 316.5 598.2 316.5 598.7 316.5 599.2 316.4 599.7 316.4 600.2 316.4 600.7 316.4 601.2 316.3 601.7 316.3 602.2 316.3 602.7 316.3 603.2 316.2 603.7 316.2 604.2 316.2 604.7 316.2 605.2 316.1 605.7 316.1 606.2 316.1 606.7 316.1 607.2 316.0 607.7 316.0 608.2 316.0 608.7 316.0 609.2 315.9 609.7 315.9 610.2 315.9 610.7 315.9 611.2 315.9 611.7 315.8 612.2 315.8 612.7 315.8 613.2 315.8 613.7 315.7 614.2 315.7 614.7 315.7 615.2 315.7 615.7 315.7 616.2 315.6 616.7 315.6 617.2 315.6 617.7 315.6 618.2 315.6 618.7 315.5 619.2 315.5 619.7 315.5 620.2 315.5 620.7 315.5 621.2 315.5 621.7 315.4 622.2 315.4 622.7 315.4 623.2 315.4 623.7 315.4 624.2 315.3 624.7 315.3 625.2 315.3 625.7 315.3 626.2 315.3 626.7 315.3 627.2 315.3 627.7 315.2 628.2 315.2 628.7 315.2 629.2 315.2 629.7 315.2 630.2 315.2 630.7 315.2 631.2 315.1 631.7 315.1 632.2 315.1 632.7 315.1 633.2 315.1 633.7 315.1 634.2 315.1 634.7 315.0 635.2 315.0 635.7 315.0 636.2 315.0 636.7 315.0 637.2 315.0 637.7 315.0 638.2 315.0 638.7 315.0 639.2 315.0 639.7 314.9 640.2 314.9 640.7 314.9 641.2 314.9 641.7 314.9 642.2 314.9 642.7 314.9 643.2 314.9 643.7 314.9 644.2 314.9 644.7 314.9 645.2 314.9 645.7 314.8 646.2 314.8 646.7 314.8 647.2 314.8 647.7 314.8 648.2 314.8 648.7 314.8 649.2 314.8"/><path d="M366.7 314.8 367.2 314.1 367.7 311.8 368.2 310.0 368.7 309.8 369.2 309.7 369.7 309.7 370.2 308.6 370.7 307.5 371.2 306.4 371.7 306.2 372.2 306.2 372.7 306.1 373.2 305.2 373.7 304.1 374.2 302.9 374.7 302.7 375.2 302.7 375.7 302.7 376.2 301.7 376.7 300.6 377.2 299.5 377.7 299.2 378.2 299.2 378.7 299.2 379.2 298.2 379.7 297.1 380.2 295.9 380.7 295.7 381.2 295.7 381.7 295.7 382.2 294.7 382.7 293.5 383.2 292.3 383.7 292.1 384.2 292.1 384.7 292.0 385.2 291.0 385.7 289.9 386.2 288.7 386.7 288.5 387.2 288.4 387.7 288.4 388.2 287.4 388.7 286.2 389.2 284.9 389.7 284.7 390.2 284.7 390.7 284.6 391.2 283.5 391.7 282.2 392.2 281.0 392.7 280.7 393.2 280.7 393.7 280.6 394.2 279.6 394.7 278.5 395.2 277.3 395.7 277.1 396.2 277.1 396.7 277.0 397.2 276.1 397.7 275.0 398.2 273.9 398.7 273.7 399.2 273.7 399.7 273.6 400.2 272.7 400.7 271.7 401.2 270.6 401.7 270.4 402.2 270.4 402.7 270.4 403.2 269.5 403.7 268.6 404.2 267.6 404.7 267.4 405.2 267.4 405.7 267.3 406.2 266.5 406.7 265.6 407.2 264.7 407.7 264.5 408.2 264.5 408.7 264.4 409.2 263.7 409.7 262.8 410.2 262.0 410.7 261.8 411.2 261.8 411.7 261.7 412.2 261.0 412.7 260.2 413.2 259.5 413.7 259.3 414.2 259.3 414.7 259.3 415.2 258.7 415.7 258.0 416.2 257.3 416.7 257.1 417.2 257.1 417.7 257.1 418.2 256.5 418.7 255.9 419.2 255.3 419.7 255.2 420.2 255.1 420.7 255.1 421.2 254.6 421.7 254.1 422.2 253.6 422.7 253.5 423.2 253.4 423.7 253.4 424.2 253.0 424.7 252.6 425.2 252.1 425.7 252.1 426.2 252.0 426.7 252.0 427.2 251.7 427.7 251.4 428.2 251.1 428.7 251.0 429.2 251.0 429.7 250.9 430.2 250.7 430.7 250.5 431.2 250.3 431.7 250.2 432.2 250.2 432.7 250.2 433.2 250.0 433.7 249.9 434.2 249.8 434.7 249.7 435.2 249.7 435.7 249.7 436.2 249.7 436.7 249.7 437.2 249.7 437.7 249.7 438.2 249.8 438.7 249.8 439.2 249.9 439.7 250.1 440.2 250.2 440.7 250.4 441.2 250.5 441.7 250.6 442.2 250.8 442.7 251.0 443.2 251.2 443.7 251.4 444.2 251.6 444.7 251.9 445.2 252.2 445.7 252.5 446.2 252.9 446.7 253.2 447.2 253.6 447.7 254.0 448.2 254.4 448.7 254.8 449.2 255.2 449.7 255.7 450.2 256.1 450.7 256.5 451.2 256.9 451.7 257.4 452.2 257.8 452.7 258.3 453.2 258.8 453.7 259.3 454.2 259.8 454.7 260.3 455.2 260.8 455.7 261.3 456.2 261.8 456.7 262.3 457.2 262.8 457.7 263.4 458.2 263.9 458.7 264.4 459.2 264.9 459.7 265.5 460.2 266.0 460.7 266.5 461.2 267.0 461.7 267.5 462.2 268.0 462.7 268.5 463.2 269.1 463.7 269.6 464.2 270.1 464.7 270.6 465.2 271.1 465.7 271.6 466.2 272.1 466.7 272.6 467.2 273.1 467.7 273.6 468.2 274.1 468.7 274.6 469.2 275.1 469.7 275.7 470.2 276.2 470.7 276.7 471.2 277.2 471.7 277.7 472.2 278.2 472.7 278.6 473.2 279.1 473.7 279.6 474.2 280.1 474.7 280.6 475.2 281.0 475.7 281.5 476.2 282.0 476.7 282.4 477.2 282.9 477.7 283.3 478.2 283.8 478.7 284.2 479.2 284.6 479.7 285.1 480.2 285.5 480.7 285.9 481.2 286.4 481.7 286.8 482.2 287.2 482.7 287.6 483.2 288.1 483.7 288.5 484.2 288.9 484.7 289.3 485.2 289.7 485.7 290.2 486.2 290.6 486.7 291.0 487.2 291.4 487.7 291.9 488.2 292.3 488.7 292.7 489.2 293.1 489.7 293.5 490.2 293.9 490.7 294.3 491.2 294.7 491.7 295.1 492.2 295.5 492.7 295.9 493.2 296.3 493.7 296.7 494.2 297.1 494.7 297.5 495.2 297.9 495.7 298.3 496.2 298.7 496.7 299.1 497.2 299.5 497.7 299.9 498.2 300.3 498.7 300.7 499.2 301.1 499.7 301.5 500.2 301.9 500.7 302.3 501.2 302.7 501.7 303.1 502.2 303.5 502.7 303.9 503.2 304.3 503.7 304.7 504.2 305.0 504.7 305.4 505.2 305.7 505.7 306.1 506.2 306.4 506.7 306.7 507.2 307.0 507.7 307.4 508.2 307.6 508.7 307.9 509.2 308.2 509.7 308.5 510.2 308.7 510.7 309.0 511.2 309.2 511.7 309.4 512.2 309.7 512.7 309.9 513.2 310.1 513.7 310.3 514.2 310.5 514.7 310.7 515.2 310.9 515.7 311.1 516.2 311.3 516.7 311.5 517.2 311.7 517.7 311.8 518.2 312.0 518.7 312.2 519.2 312.4 519.7 312.5 520.2 312.7 520.7 312.8 521.2 313.0 521.7 313.1 522.2 313.3 522.7 313.4 523.2 313.6 523.7 313.7 524.2 313.9 524.7 314.0 525.2 314.1 525.7 314.2 526.2 314.4 526.7 314.5 527.2 314.6 527.7 314.7 528.2 314.8 528.7 315.0 529.2 315.1 529.7 315.2 530.2 315.3 530.7 315.4 531.2 315.5 531.7 315.6 532.2 315.7 532.7 315.7 533.2 315.8 533.7 315.9 534.2 316.0 534.7 316.1 535.2 316.2 535.7 316.2 536.2 316.3 536.7 316.4 537.2 316.4 537.7 316.5 538.2 316.6 538.7 316.6 539.2 316.7 539.7 316.8 540.2 316.8 540.7 316.9 541.2 316.9 541.7 317.0 542.2 317.0 542.7 317.1 543.2 317.1 543.7 317.2 544.2 317.2 544.7 317.2 545.2 317.3 545.7 317.3 546.2 317.4 546.7 317.4 547.2 317.4 547.7 317.5 548.2 317.5 548.7 317.5 549.2 317.5 549.7 317.6 550.2 317.6 550.7 317.6 551.2 317.6 551.7 317.6 552.2 317.7 552.7 317.7 553.2 317.7 553.7 317.7 554.2 317.7 554.7 317.7 555.2 317.8 555.7 317.8 556.2 317.8 556.7 317.8 557.2 317.8 557.7 317.8 558.2 317.8 558.7 317.8 559.2 317.8 559.7 317.8 560.2 317.8 560.7 317.8 561.2 317.8 561.7 317.8 562.2 317.8 562.7 317.8 563.2 317.8 563.7 317.8 564.2 317.8 564.7 317.8 565.2 317.8 565.7 317.8 566.2 317.8 566.7 317.8 567.2 317.8 567.7 317.7 568.2 317.7 568.7 317.7 569.2 317.7 569.7 317.7 570.2 317.7 570.7 317.6 571.2 317.6 571.7 317.6 572.2 317.6 572.7 317.5 573.2 317.5 573.7 317.5 574.2 317.5 574.7 317.4 575.2 317.4 575.7 317.4 576.2 317.4 576.7 317.3 577.2 317.3 577.7 317.3 578.2 317.3 578.7 317.3 579.2 317.3 579.7 317.2 580.2 317.2 580.7 317.2 581.2 317.2 581.7 317.2 582.2 317.2 582.7 317.2 583.2 317.2 583.7 317.1 584.2 317.1 584.7 317.1 585.2 317.1 585.7 317.1 586.2 317.1 586.7 317.1 587.2 317.1 587.7 317.1 588.2 317.0 588.7 317.0 589.2 317.0 589.7 317.0 590.2 317.0 590.7 317.0 591.2 317.0 591.7 317.0 592.2 316.9 592.7 316.9 593.2 316.9 593.7 316.9 594.2 316.9 594.7 316.9 595.2 316.9 595.7 316.9 596.2 316.8 596.7 316.8 597.2 316.8 597.7 316.8 598.2 316.8 598.7 316.8 599.2 316.8 599.7 316.8 600.2 316.7 600.7 316.7 601.2 316.7 601.7 316.7 602.2 316.7 602.7 316.7 603.2 316.7 603.7 316.6 604.2 316.6 604.7 316.6 605.2 316.6 605.7 316.6 606.2 316.6 606.7 316.5 607.2 316.5 607.7 316.5 608.2 316.5 608.7 316.5 609.2 316.5 609.7 316.4 610.2 316.4 610.7 316.4 611.2 316.4 611.7 316.4 612.2 316.4 612.7 316.3 613.2 316.3 613.7 316.3 614.2 316.3 614.7 316.3 615.2 316.3 615.7 316.2 616.2 316.2 616.7 316.2 617.2 316.2 617.7 316.2 618.2 316.2 618.7 316.1 619.2 316.1 619.7 316.1 620.2 316.1 620.7 316.1 621.2 316.1 621.7 316.0 622.2 316.0 622.7 316.0 623.2 316.0 623.7 316.0 624.2 316.0 624.7 315.9 625.2 315.9 625.7 315.9 626.2 315.9 626.7 315.9 627.2 315.9 627.7 315.8 628.2 315.8 628.7 315.8 629.2 315.8 629.7 315.8 630.2 315.8 630.7 315.7 631.2 315.7 631.7 315.7 632.2 315.7 632.7 315.7 633.2 315.7 633.7 315.7 634.2 315.6 634.7 315.6 635.2 315.6 635.7 315.6 636.2 315.6 636.7 315.6 637.2 315.5 637.7 315.5 638.2 315.5 638.7 315.5 639.2 315.5 639.7 315.5 640.2 315.5 640.7 315.4 641.2 315.4 641.7 315.4 642.2 315.4 642.7 315.4 643.2 315.4 643.7 315.4 644.2 315.3 644.7 315.3 645.2 315.3 645.7 315.3 646.2 315.3 646.7 315.3 647.2 315.3 647.7 315.3 648.2 315.2 648.7 315.2 649.2 315.2"/><path d="M366.7 319.0 367.2 326.7 367.7 326.9 368.2 327.1 368.7 327.7 369.2 331.8 369.7 333.4 370.2 334.3 370.7 334.3 371.2 334.3 371.7 334.4 372.2 334.9 372.7 335.2 373.2 335.4 373.7 335.4 374.2 335.4 374.7 335.4 375.2 335.4 375.7 335.2 376.2 335.1 376.7 335.0 377.2 335.0 377.7 335.0 378.2 334.7 378.7 334.4 379.2 334.0 379.7 334.0 380.2 334.0 380.7 333.9 381.2 333.5 381.7 333.0 382.2 332.5 382.7 332.5 383.2 332.5 383.7 332.4 384.2 331.9 384.7 331.3 385.2 330.7 385.7 330.7 386.2 330.6 386.7 330.6 387.2 329.9 387.7 329.2 388.2 328.6 388.7 328.6 389.2 328.5 389.7 328.5 390.2 327.7 390.7 327.0 391.2 326.2 391.7 326.2 392.2 326.2 392.7 326.1 393.2 325.3 393.7 324.4 394.2 323.5 394.7 323.5 395.2 323.5 395.7 323.4 396.2 322.4 396.7 321.5 397.2 320.5 397.7 320.5 398.2 320.5 398.7 320.4 399.2 319.3 399.7 318.3 400.2 317.3 400.7 317.2 401.2 317.2 401.7 317.1 402.2 316.0 402.7 314.8 403.2 313.8 403.7 313.7 404.2 313.7 404.7 313.6 405.2 312.4 405.7 311.2 406.2 310.1 406.7 310.0 407.2 310.0 407.7 309.9 408.2 308.6 408.7 307.4 409.2 306.2 409.7 306.2 410.2 306.1 410.7 306.0 411.2 304.8 411.7 303.5 412.2 302.4 412.7 302.3 413.2 302.3 413.7 302.2 414.2 300.9 414.7 299.7 415.2 298.5 415.7 298.5 416.2 298.4 416.7 298.3 417.2 297.1 417.7 295.9 418.2 294.7 418.7 294.7 419.2 294.6 419.7 294.5 420.2 293.3 420.7 292.1 421.2 291.0 421.7 291.0 422.2 291.0 422.7 290.8 423.2 289.7 423.7 288.6 424.2 287.5 424.7 287.5 425.2 287.4 425.7 287.3 426.2 286.2 426.7 285.2 427.2 284.3 427.7 284.2 428.2 284.1 428.7 283.9 429.2 282.9 429.7 282.0 430.2 281.2 430.7 281.1 431.2 280.9 431.7 280.6 432.2 279.8 432.7 279.0 433.2 278.3 433.7 278.1 434.2 277.9 434.7 277.6 435.2 276.9 435.7 276.2 436.2 275.6 436.7 275.4 437.2 275.1 437.7 274.8 438.2 274.3 438.7 273.8 439.2 273.4 439.7 273.1 440.2 272.9 440.7 272.6 441.2 272.2 441.7 271.8 442.2 271.5 442.7 271.2 443.2 270.9 443.7 270.7 444.2 270.4 444.7 270.2 445.2 270.0 445.7 269.8 446.2 269.6 446.7 269.4 447.2 269.3 447.7 269.2 448.2 269.1 448.7 269.0 449.2 268.9 449.7 268.8 450.2 268.7 450.7 268.6 451.2 268.5 451.7 268.5 452.2 268.4 452.7 268.4 453.2 268.4 453.7 268.4 454.2 268.4 454.7 268.4 455.2 268.5 455.7 268.5 456.2 268.6 456.7 268.6 457.2 268.7 457.7 268.8 458.2 268.9 458.7 269.0 459.2 269.1 459.7 269.2 460.2 269.3 460.7 269.4 461.2 269.5 461.7 269.7 462.2 269.8 462.7 270.0 463.2 270.1 463.7 270.3 464.2 270.4 464.7 270.6 465.2 270.8 465.7 270.9 466.2 271.1 466.7 271.3 467.2 271.5 467.7 271.7 468.2 271.9 468.7 272.2 469.2 272.4 469.7 272.6 470.2 272.8 470.7 273.1 471.2 273.3 471.7 273.6 472.2 273.8 472.7 274.1 473.2 274.3 473.7 274.6 474.2 274.8 474.7 275.1 475.2 275.3 475.7 275.6 476.2 275.8 476.7 276.1 477.2 276.3 477.7 276.6 478.2 276.8 478.7 277.1 479.2 277.3 479.7 277.6 480.2 277.8 480.7 278.1 481.2 278.4 481.7 278.6 482.2 278.9 482.7 279.1 483.2 279.4 483.7 279.7 484.2 279.9 484.7 280.2 485.2 280.5 485.7 280.8 486.2 281.1 486.7 281.3 487.2 281.6 487.7 281.9 488.2 282.2 488.7 282.5 489.2 282.8 489.7 283.1 490.2 283.4 490.7 283.7 491.2 284.0 491.7 284.4 492.2 284.7 492.7 285.0 493.2 285.3 493.7 285.6 494.2 286.0 494.7 286.3 495.2 286.7 495.7 287.0 496.2 287.4 496.7 287.7 497.2 288.1 497.7 288.5 498.2 288.9 498.7 289.3 499.2 289.7 499.7 290.1 500.2 290.6 500.7 291.0 501.2 291.4 501.7 291.9 502.2 292.3 502.7 292.8 503.2 293.2 503.7 293.7 504.2 294.1 504.7 294.6 505.2 295.0 505.7 295.4 506.2 295.8 506.7 296.2 507.2 296.6 507.7 297.0 508.2 297.4 508.7 297.8 509.2 298.1 509.7 298.4 510.2 298.8 510.7 299.1 511.2 299.4 511.7 299.6 512.2 299.9 512.7 300.2 513.2 300.4 513.7 300.7 514.2 300.9 514.7 301.2 515.2 301.4 515.7 301.7 516.2 301.9 516.7 302.1 517.2 302.4 517.7 302.6 518.2 302.8 518.7 303.0 519.2 303.2 519.7 303.4 520.2 303.7 520.7 303.9 521.2 304.1 521.7 304.3 522.2 304.5 522.7 304.7 523.2 304.9 523.7 305.1 524.2 305.3 524.7 305.4 525.2 305.6 525.7 305.8 526.2 306.0 526.7 306.2 527.2 306.4 527.7 306.5 528.2 306.7 528.7 306.9 529.2 307.1 529.7 307.2 530.2 307.4 530.7 307.6 531.2 307.7 531.7 307.9 532.2 308.0 532.7 308.2 533.2 308.4 533.7 308.5 534.2 308.7 534.7 308.8 535.2 309.0 535.7 309.1 536.2 309.2 536.7 309.4 537.2 309.5 537.7 309.7 538.2 309.8 538.7 309.9 539.2 310.1 539.7 310.2 540.2 310.3 540.7 310.4 541.2 310.6 541.7 310.7 542.2 310.8 542.7 310.9 543.2 311.1 543.7 311.2 544.2 311.3 544.7 311.4 545.2 311.5 545.7 311.6 546.2 311.7 546.7 311.8 547.2 311.9 547.7 312.0 548.2 312.1 548.7 312.2 549.2 312.3 549.7 312.4 550.2 312.5 550.7 312.6 551.2 312.7 551.7 312.8 552.2 312.9 552.7 312.9 553.2 313.0 553.7 313.1 554.2 313.2 554.7 313.3 555.2 313.3 555.7 313.4 556.2 313.5 556.7 313.6 557.2 313.6 557.7 313.7 558.2 313.8 558.7 313.8 559.2 313.9 559.7 313.9 560.2 314.0 560.7 314.1 561.2 314.1 561.7 314.2 562.2 314.2 562.7 314.3 563.2 314.3 563.7 314.4 564.2 314.5 564.7 314.5 565.2 314.5 565.7 314.6 566.2 314.6 566.7 314.7 567.2 314.7 567.7 314.8 568.2 314.8 568.7 314.9 569.2 314.9 569.7 314.9 570.2 315.0 570.7 315.0 571.2 315.0 571.7 315.1 572.2 315.1 572.7 315.1 573.2 315.2 573.7 315.2 574.2 315.2 574.7 315.2 575.2 315.3 575.7 315.3 576.2 315.3 576.7 315.3 577.2 315.4 577.7 315.4 578.2 315.4 578.7 315.4 579.2 315.4 579.7 315.5 580.2 315.5 580.7 315.5 581.2 315.5 581.7 315.5 582.2 315.6 582.7 315.6 583.2 315.6 583.7 315.6 584.2 315.6 584.7 315.6 585.2 315.7 585.7 315.7 586.2 315.7 586.7 315.7 587.2 315.7 587.7 315.7 588.2 315.7 588.7 315.7 589.2 315.8 589.7 315.8 590.2 315.8 590.7 315.8 591.2 315.8 591.7 315.8 592.2 315.8 592.7 315.8 593.2 315.8 593.7 315.9 594.2 315.9 594.7 315.9 595.2 315.9 595.7 315.9 596.2 315.9 596.7 315.9 597.2 315.9 597.7 315.9 598.2 315.9 598.7 315.9 599.2 315.9 599.7 316.0 600.2 316.0 600.7 316.0 601.2 316.0 601.7 316.0 602.2 316.0 602.7 316.0 603.2 316.0 603.7 316.0 604.2 316.0 604.7 316.0 605.2 316.0 605.7 316.0 606.2 316.0 606.7 316.0 607.2 316.0 607.7 316.0 608.2 316.0 608.7 316.0 609.2 316.0 609.7 316.0 610.2 316.0 610.7 316.0 611.2 316.0 611.7 316.0 612.2 316.0 612.7 316.0 613.2 316.0 613.7 316.0 614.2 316.0 614.7 316.0 615.2 316.0 615.7 316.0 616.2 316.0 616.7 316.0 617.2 316.0 617.7 316.0 618.2 316.0 618.7 316.0 619.2 315.9 619.7 315.9 620.2 315.9 620.7 315.9 621.2 315.9 621.7 315.9 622.2 315.9 622.7 315.9 623.2 315.9 623.7 315.9 624.2 315.9 624.7 315.9 625.2 315.9 625.7 315.9 626.2 315.9 626.7 315.9 627.2 315.8 627.7 315.8 628.2 315.8 628.7 315.8 629.2 315.8 629.7 315.8 630.2 315.8 630.7 315.8 631.2 315.8 631.7 315.8 632.2 315.8 632.7 315.8 633.2 315.7 633.7 315.7 634.2 315.7 634.7 315.7 635.2 315.7 635.7 315.7 636.2 315.7 636.7 315.7 637.2 315.7 637.7 315.6 638.2 315.6 638.7 315.6 639.2 315.6 639.7 315.6 640.2 315.6 640.7 315.6 641.2 315.6 641.7 315.6 642.2 315.6 642.7 315.5 643.2 315.5 643.7 315.5 644.2 315.5 644.7 315.5 645.2 315.5 645.7 315.5 646.2 315.5 646.7 315.4 647.2 315.4 647.7 315.4 648.2 315.4 648.7 315.4 649.2 315.4"/><path d="M366.7 317.6 367.2 318.5 367.7 324.9 368.2 336.9 368.7 344.1 369.2 346.7 369.7 346.8 370.2 347.0 370.7 347.8 371.2 350.0 371.7 351.8 372.2 353.0 372.7 353.0 373.2 353.1 373.7 353.5 374.2 354.8 374.7 355.9 375.2 356.5 375.7 356.6 376.2 356.6 376.7 356.9 377.2 357.7 377.7 358.4 378.2 358.8 378.7 358.9 379.2 358.9 379.7 359.0 380.2 359.6 380.7 360.1 381.2 360.4 381.7 360.4 382.2 360.4 382.7 360.5 383.2 361.0 383.7 361.3 384.2 361.6 384.7 361.6 385.2 361.6 385.7 361.7 386.2 362.0 386.7 362.2 387.2 362.4 387.7 362.4 388.2 362.4 388.7 362.4 389.2 362.6 389.7 362.8 390.2 363.0 390.7 363.0 391.2 363.0 391.7 363.0 392.2 363.2 392.7 363.3 393.2 363.3 393.7 363.3 394.2 363.3 394.7 363.2 395.2 363.0 395.7 362.8 396.2 362.6 396.7 362.6 397.2 362.6 397.7 362.5 398.2 362.2 398.7 361.8 399.2 361.5 399.7 361.4 400.2 361.4 400.7 361.3 401.2 360.8 401.7 360.2 402.2 359.8 402.7 359.8 403.2 359.7 403.7 359.5 404.2 358.9 404.7 358.2 405.2 357.7 405.7 357.6 406.2 357.6 406.7 357.4 407.2 356.6 407.7 355.8 408.2 355.2 408.7 355.2 409.2 355.1 409.7 354.9 410.2 354.0 410.7 353.1 411.2 352.4 411.7 352.4 412.2 352.4 412.7 352.1 413.2 351.1 413.7 350.1 414.2 349.4 414.7 349.3 415.2 349.3 415.7 349.0 416.2 348.0 416.7 346.9 417.2 346.2 417.7 346.1 418.2 346.1 418.7 345.8 419.2 344.7 419.7 343.6 420.2 342.8 420.7 342.8 421.2 342.8 421.7 342.4 422.2 341.3 422.7 340.2 423.2 339.4 423.7 339.4 424.2 339.3 424.7 339.0 425.2 337.9 425.7 336.8 426.2 336.0 426.7 335.9 427.2 335.8 427.7 335.5 428.2 334.4 428.7 333.4 429.2 332.6 429.7 332.4 430.2 332.3 430.7 331.8 431.2 330.9 431.7 329.9 432.2 329.2 432.7 328.9 433.2 328.7 433.7 328.2 434.2 327.3 434.7 326.4 435.2 325.7 435.7 325.4 436.2 325.0 436.7 324.5 437.2 323.7 437.7 322.8 438.2 322.2 438.7 321.7 439.2 321.3 439.7 320.7 440.2 320.0 440.7 319.3 441.2 318.6 441.7 318.1 442.2 317.6 442.7 317.0 443.2 316.4 443.7 315.7 444.2 315.1 444.7 314.6 445.2 314.0 445.7 313.4 446.2 312.8 446.7 312.2 447.2 311.6 447.7 311.1 448.2 310.5 448.7 309.9 449.2 309.4 449.7 308.8 450.2 308.3 450.7 307.7 451.2 307.2 451.7 306.7 452.2 306.2 452.7 305.7 453.2 305.2 453.7 304.7 454.2 304.2 454.7 303.8 455.2 303.3 455.7 302.9 456.2 302.4 456.7 302.0 457.2 301.6 457.7 301.2 458.2 300.8 458.7 300.4 459.2 300.0 459.7 299.7 460.2 299.3 460.7 298.9 461.2 298.6 461.7 298.3 462.2 297.9 462.7 297.6 463.2 297.3 463.7 297.0 464.2 296.8 464.7 296.5 465.2 296.2 465.7 296.0 466.2 295.7 466.7 295.5 467.2 295.3 467.7 295.0 468.2 294.8 468.7 294.6 469.2 294.5 469.7 294.3 470.2 294.1 470.7 293.9 471.2 293.8 471.7 293.6 472.2 293.5 472.7 293.3 473.2 293.2 473.7 293.1 474.2 293.0 474.7 292.9 475.2 292.7 475.7 292.6 476.2 292.5 476.7 292.4 477.2 292.3 477.7 292.2 478.2 292.1 478.7 292.1 479.2 292.0 479.7 291.9 480.2 291.8 480.7 291.8 481.2 291.7 481.7 291.6 482.2 291.6 482.7 291.5 483.2 291.5 483.7 291.4 484.2 291.4 484.7 291.3 485.2 291.3 485.7 291.3 486.2 291.3 486.7 291.3 487.2 291.3 487.7 291.3 488.2 291.3 488.7 291.3 489.2 291.3 489.7 291.3 490.2 291.3 490.7 291.3 491.2 291.4 491.7 291.4 492.2 291.5 492.7 291.5 493.2 291.6 493.7 291.6 494.2 291.7 494.7 291.8 495.2 291.9 495.7 292.0 496.2 292.1 496.7 292.2 497.2 292.3 497.7 292.5 498.2 292.6 498.7 292.8 499.2 293.0 499.7 293.2 500.2 293.4 500.7 293.6 501.2 293.8 501.7 294.1 502.2 294.3 502.7 294.6 503.2 294.8 503.7 295.1 504.2 295.3 504.7 295.6 505.2 295.8 505.7 296.1 506.2 296.4 506.7 296.6 507.2 296.9 507.7 297.1 508.2 297.3 508.7 297.6 509.2 297.8 509.7 298.0 510.2 298.2 510.7 298.4 511.2 298.5 511.7 298.7 512.2 298.9 512.7 299.0 513.2 299.2 513.7 299.3 514.2 299.5 514.7 299.6 515.2 299.8 515.7 299.9 516.2 300.1 516.7 300.2 517.2 300.3 517.7 300.5 518.2 300.6 518.7 300.8 519.2 300.9 519.7 301.0 520.2 301.2 520.7 301.3 521.2 301.4 521.7 301.6 522.2 301.7 522.7 301.8 523.2 302.0 523.7 302.1 524.2 302.2 524.7 302.4 525.2 302.5 525.7 302.7 526.2 302.8 526.7 302.9 527.2 303.1 527.7 303.2 528.2 303.3 528.7 303.5 529.2 303.6 529.7 303.7 530.2 303.9 530.7 304.0 531.2 304.1 531.7 304.3 532.2 304.4 532.7 304.5 533.2 304.6 533.7 304.8 534.2 304.9 534.7 305.0 535.2 305.2 535.7 305.3 536.2 305.4 536.7 305.5 537.2 305.7 537.7 305.8 538.2 305.9 538.7 306.0 539.2 306.2 539.7 306.3 540.2 306.4 540.7 306.5 541.2 306.7 541.7 306.8 542.2 306.9 542.7 307.0 543.2 307.2 543.7 307.3 544.2 307.4 544.7 307.5 545.2 307.6 545.7 307.8 546.2 307.9 546.7 308.0 547.2 308.1 547.7 308.2 548.2 308.3 548.7 308.4 549.2 308.5 549.7 308.6 550.2 308.8 550.7 308.9 551.2 309.0 551.7 309.1 552.2 309.2 552.7 309.3 553.2 309.4 553.7 309.5 554.2 309.5 554.7 309.6 555.2 309.7 555.7 309.8 556.2 309.9 556.7 310.0 557.2 310.1 557.7 310.2 558.2 310.3 558.7 310.4 559.2 310.4 559.7 310.5 560.2 310.6 560.7 310.7 561.2 310.8 561.7 310.8 562.2 310.9 562.7 311.0 563.2 311.1 563.7 311.2 564.2 311.2 564.7 311.3 565.2 311.4 565.7 311.5 566.2 311.5 566.7 311.6 567.2 311.7 567.7 311.8 568.2 311.9 568.7 311.9 569.2 312.0 569.7 312.1 570.2 312.2 570.7 312.2 571.2 312.3 571.7 312.4 572.2 312.4 572.7 312.5 573.2 312.6 573.7 312.6 574.2 312.7 574.7 312.8 575.2 312.8 575.7 312.9 576.2 312.9 576.7 313.0 577.2 313.0 577.7 313.1 578.2 313.1 578.7 313.2 579.2 313.2 579.7 313.3 580.2 313.3 580.7 313.3 581.2 313.4 581.7 313.4 582.2 313.5 582.7 313.5 583.2 313.5 583.7 313.6 584.2 313.6 584.7 313.6 585.2 313.7 585.7 313.7 586.2 313.7 586.7 313.8 587.2 313.8 587.7 313.8 588.2 313.9 588.7 313.9 589.2 313.9 589.7 314.0 590.2 314.0 590.7 314.0 591.2 314.0 591.7 314.1 592.2 314.1 592.7 314.1 593.2 314.2 593.7 314.2 594.2 314.2 594.7 314.2 595.2 314.3 595.7 314.3 596.2 314.3 596.7 314.3 597.2 314.4 597.7 314.4 598.2 314.4 598.7 314.4 599.2 314.5 599.7 314.5 600.2 314.5 600.7 314.5 601.2 314.5 601.7 314.6 602.2 314.6 602.7 314.6 603.2 314.6 603.7 314.6 604.2 314.7 604.7 314.7 605.2 314.7 605.7 314.7 606.2 314.7 606.7 314.8 607.2 314.8 607.7 314.8 608.2 314.8 608.7 314.8 609.2 314.8 609.7 314.9 610.2 314.9 610.7 314.9 611.2 314.9 611.7 314.9 612.2 314.9 612.7 314.9 613.2 315.0 613.7 315.0 614.2 315.0 614.7 315.0 615.2 315.0 615.7 315.0 616.2 315.0 616.7 315.0 617.2 315.1 617.7 315.1 618.2 315.1 618.7 315.1 619.2 315.1 619.7 315.1 620.2 315.1 620.7 315.1 621.2 315.1 621.7 315.1 622.2 315.2 622.7 315.2 623.2 315.2 623.7 315.2 624.2 315.2 624.7 315.2 625.2 315.2 625.7 315.2 626.2 315.2 626.7 315.2 627.2 315.2 627.7 315.2 628.2 315.2 628.7 315.2 629.2 315.2 629.7 315.2 630.2 315.2 630.7 315.3 631.2 315.3 631.7 315.3 632.2 315.3 632.7 315.3 633.2 315.3 633.7 315.3 634.2 315.3 634.7 315.3 635.2 315.3 635.7 315.3 636.2 315.3 636.7 315.3 637.2 315.3 637.7 315.3 638.2 315.3 638.7 315.3 639.2 315.3 639.7 315.3 640.2 315.3 640.7 315.3 641.2 315.3 641.7 315.3 642.2 315.3 642.7 315.3 643.2 315.3 643.7 315.3 644.2 315.3 644.7 315.2 645.2 315.2 645.7 315.2 646.2 315.2 646.7 315.2 647.2 315.2 647.7 315.2 648.2 315.2 648.7 315.2 649.2 315.2"/><path d="M366.7 314.8 367.2 323.8 367.7 333.4 368.2 337.2 368.7 337.4 369.2 337.6 369.7 339.8 370.2 342.8 370.7 345.1 371.2 346.2 371.7 346.3 372.2 346.4 372.7 347.4 373.2 349.2 373.7 350.9 374.2 351.7 374.7 351.7 375.2 351.8 375.7 352.6 376.2 354.0 376.7 355.3 377.2 356.0 377.7 356.0 378.2 356.1 378.7 356.7 379.2 358.0 379.7 359.1 380.2 359.7 380.7 359.7 381.2 359.8 381.7 360.4 382.2 361.5 382.7 362.6 383.2 363.2 383.7 363.2 384.2 363.2 384.7 363.8 385.2 364.8 385.7 365.8 386.2 366.4 386.7 366.4 387.2 366.4 387.7 366.9 388.2 367.9 388.7 368.9 389.2 369.4 389.7 369.5 390.2 369.5 390.7 370.0 391.2 371.1 391.7 372.1 392.2 372.6 392.7 372.6 393.2 372.6 393.7 373.1 394.2 373.9 394.7 374.5 395.2 374.9 395.7 374.9 396.2 374.9 396.7 375.2 397.2 375.8 397.7 376.3 398.2 376.6 398.7 376.6 399.2 376.6 399.7 376.9 400.2 377.3 400.7 377.7 401.2 377.8 401.7 377.8 402.2 377.8 402.7 378.0 403.2 378.3 403.7 378.5 404.2 378.6 404.7 378.6 405.2 378.6 405.7 378.7 406.2 378.8 406.7 378.9 407.2 378.9 407.7 378.9 408.2 378.9 408.7 379.0 409.2 379.0 409.7 379.0 410.2 379.0 410.7 379.0 411.2 379.0 411.7 378.9 412.2 378.8 412.7 378.7 413.2 378.6 413.7 378.6 414.2 378.6 414.7 378.5 415.2 378.3 415.7 378.1 416.2 377.9 416.7 377.9 417.2 377.9 417.7 377.8 418.2 377.5 418.7 377.2 419.2 377.0 419.7 377.0 420.2 377.0 420.7 376.8 421.2 376.4 421.7 376.0 422.2 375.8 422.7 375.8 423.2 375.8 423.7 375.6 424.2 375.1 424.7 374.7 425.2 374.4 425.7 374.4 426.2 374.3 426.7 374.1 427.2 373.6 427.7 373.0 428.2 372.8 428.7 372.7 429.2 372.6 429.7 372.3 430.2 371.7 430.7 371.2 431.2 370.9 431.7 370.7 432.2 370.6 432.7 370.3 433.2 369.7 433.7 369.1 434.2 368.8 434.7 368.6 435.2 368.4 435.7 368.0 436.2 367.4 436.7 366.8 437.2 366.4 437.7 366.1 438.2 365.7 438.7 365.2 439.2 364.6 439.7 364.0 440.2 363.5 440.7 363.1 441.2 362.6 441.7 362.1 442.2 361.4 442.7 360.8 443.2 360.3 443.7 359.8 444.2 359.2 444.7 358.6 445.2 357.9 445.7 357.3 446.2 356.7 446.7 356.0 447.2 355.3 447.7 354.6 448.2 354.0 448.7 353.3 449.2 352.6 449.7 351.9 450.2 351.3 450.7 350.6 451.2 349.9 451.7 349.3 452.2 348.6 452.7 347.9 453.2 347.2 453.7 346.5 454.2 345.9 454.7 345.2 455.2 344.5 455.7 343.9 456.2 343.2 456.7 342.5 457.2 341.9 457.7 341.2 458.2 340.6 458.7 339.9 459.2 339.3 459.7 338.7 460.2 338.1 460.7 337.5 461.2 336.9 461.7 336.3 462.2 335.7 462.7 335.1 463.2 334.6 463.7 334.0 464.2 333.4 464.7 332.9 465.2 332.4 465.7 331.8 466.2 331.3 466.7 330.8 467.2 330.3 467.7 329.8 468.2 329.3 468.7 328.8 469.2 328.3 469.7 327.8 470.2 327.3 470.7 326.9 471.2 326.4 471.7 326.0 472.2 325.5 472.7 325.1 473.2 324.6 473.7 324.2 474.2 323.8 474.7 323.4 475.2 323.0 475.7 322.6 476.2 322.2 476.7 321.8 477.2 321.4 477.7 321.0 478.2 320.7 478.7 320.3 479.2 319.9 479.7 319.6 480.2 319.2 480.7 318.9 481.2 318.5 481.7 318.2 482.2 317.8 482.7 317.5 483.2 317.2 483.7 316.9 484.2 316.5 484.7 316.2 485.2 315.9 485.7 315.6 486.2 315.3 486.7 315.0 487.2 314.7 487.7 314.4 488.2 314.1 488.7 313.8 489.2 313.5 489.7 313.2 490.2 313.0 490.7 312.7 491.2 312.4 491.7 312.2 492.2 311.9 492.7 311.7 493.2 311.4 493.7 311.2 494.2 311.0 494.7 310.7 495.2 310.5 495.7 310.3 496.2 310.1 496.7 309.9 497.2 309.7 497.7 309.5 498.2 309.4 498.7 309.2 499.2 309.0 499.7 308.9 500.2 308.8 500.7 308.6 501.2 308.5 501.7 308.4 502.2 308.3 502.7 308.2 503.2 308.1 503.7 308.0 504.2 307.9 504.7 307.9 505.2 307.8 505.7 307.7 506.2 307.7 506.7 307.6 507.2 307.6 507.7 307.6 508.2 307.5 508.7 307.5 509.2 307.4 509.7 307.4 510.2 307.3 510.7 307.3 511.2 307.3 511.7 307.2 512.2 307.2 512.7 307.1 513.2 307.1 513.7 307.0 514.2 307.0 514.7 307.0 515.2 306.9 515.7 306.9 516.2 306.9 516.7 306.8 517.2 306.8 517.7 306.8 518.2 306.7 518.7 306.7 519.2 306.7 519.7 306.7 520.2 306.7 520.7 306.6 521.2 306.6 521.7 306.6 522.2 306.6 522.7 306.6 523.2 306.6 523.7 306.6 524.2 306.6 524.7 306.6 525.2 306.6 525.7 306.6 526.2 306.6 526.7 306.6 527.2 306.6 527.7 306.6 528.2 306.7 528.7 306.7 529.2 306.7 529.7 306.7 530.2 306.7 530.7 306.8 531.2 306.8 531.7 306.8 532.2 306.8 532.7 306.9 533.2 306.9 533.7 306.9 534.2 306.9 534.7 307.0 535.2 307.0 535.7 307.0 536.2 307.1 536.7 307.1 537.2 307.2 537.7 307.2 538.2 307.2 538.7 307.3 539.2 307.3 539.7 307.4 540.2 307.4 540.7 307.5 541.2 307.5 541.7 307.6 542.2 307.6 542.7 307.7 543.2 307.7 543.7 307.8 544.2 307.8 544.7 307.9 545.2 308.0 545.7 308.0 546.2 308.1 546.7 308.1 547.2 308.2 547.7 308.2 548.2 308.3 548.7 308.4 549.2 308.4 549.7 308.5 550.2 308.5 550.7 308.6 551.2 308.7 551.7 308.7 552.2 308.8 552.7 308.8 553.2 308.9 553.7 308.9 554.2 309.0 554.7 309.0 555.2 309.1 555.7 309.2 556.2 309.2 556.7 309.3 557.2 309.3 557.7 309.4 558.2 309.4 558.7 309.5 559.2 309.5 559.7 309.6 560.2 309.7 560.7 309.7 561.2 309.8 561.7 309.8 562.2 309.9 562.7 309.9 563.2 310.0 563.7 310.1 564.2 310.1 564.7 310.2 565.2 310.2 565.7 310.3 566.2 310.4 566.7 310.4 567.2 310.5 567.7 310.6 568.2 310.6 568.7 310.7 569.2 310.8 569.7 310.8 570.2 310.9 570.7 311.0 571.2 311.0 571.7 311.1 572.2 311.2 572.7 311.2 573.2 311.3 573.7 311.4 574.2 311.4 574.7 311.5 575.2 311.5 575.7 311.6 576.2 311.6 576.7 311.7 577.2 311.7 577.7 311.8 578.2 311.8 578.7 311.9 579.2 311.9 579.7 312.0 580.2 312.0 580.7 312.0 581.2 312.1 581.7 312.1 582.2 312.1 582.7 312.2 583.2 312.2 583.7 312.2 584.2 312.3 584.7 312.3 585.2 312.3 585.7 312.4 586.2 312.4 586.7 312.4 587.2 312.5 587.7 312.5 588.2 312.5 588.7 312.6 589.2 312.6 589.7 312.6 590.2 312.7 590.7 312.7 591.2 312.7 591.7 312.7 592.2 312.8 592.7 312.8 593.2 312.8 593.7 312.9 594.2 312.9 594.7 312.9 595.2 312.9 595.7 313.0 596.2 313.0 596.7 313.0 597.2 313.0 597.7 313.1 598.2 313.1 598.7 313.1 599.2 313.1 599.7 313.2 600.2 313.2 600.7 313.2 601.2 313.2 601.7 313.3 602.2 313.3 602.7 313.3 603.2 313.3 603.7 313.4 604.2 313.4 604.7 313.4 605.2 313.4 605.7 313.5 606.2 313.5 606.7 313.5 607.2 313.5 607.7 313.6 608.2 313.6 608.7 313.6 609.2 313.6 609.7 313.7 610.2 313.7 610.7 313.7 611.2 313.7 611.7 313.8 612.2 313.8 612.7 313.8 613.2 313.8 613.7 313.8 614.2 313.9 614.7 313.9 615.2 313.9 615.7 313.9 616.2 313.9 616.7 314.0 617.2 314.0 617.7 314.0 618.2 314.0 618.7 314.0 619.2 314.1 619.7 314.1 620.2 314.1 620.7 314.1 621.2 314.1 621.7 314.2 622.2 314.2 622.7 314.2 623.2 314.2 623.7 314.2 624.2 314.2 624.7 314.3 625.2 314.3 625.7 314.3 626.2 314.3 626.7 314.3 627.2 314.3 627.7 314.4 628.2 314.4 628.7 314.4 629.2 314.4 629.7 314.4 630.2 314.4 630.7 314.4 631.2 314.5 631.7 314.5 632.2 314.5 632.7 314.5 633.2 314.5 633.7 314.5 634.2 314.5 634.7 314.5 635.2 314.6 635.7 314.6 636.2 314.6 636.7 314.6 637.2 314.6 637.7 314.6 638.2 314.6 638.7 314.6 639.2 314.6 639.7 314.7 640.2 314.7 640.7 314.7 641.2 314.7 641.7 314.7 642.2 314.7 642.7 314.7 643.2 314.7 643.7 314.7 644.2 314.7 644.7 314.7 645.2 314.7 645.7 314.8 646.2 314.8 646.7 314.8 647.2 314.8 647.7 314.8 648.2 314.8 648.7 314.8 649.2 314.8"/><path d="M366.7 316.5 367.2 317.1 367.7 317.2 368.2 317.3 368.7 318.6 369.2 320.2 369.7 321.3 370.2 321.7 370.7 321.7 371.2 321.7 371.7 322.5 372.2 323.6 372.7 324.7 373.2 325.1 373.7 325.1 374.2 325.1 374.7 326.0 375.2 327.1 375.7 328.2 376.2 328.5 376.7 328.5 377.2 328.6 377.7 329.4 378.2 330.5 378.7 331.6 379.2 332.0 379.7 332.0 380.2 332.0 380.7 332.9 381.2 334.0 381.7 335.1 382.2 335.5 382.7 335.5 383.2 335.6 383.7 336.4 384.2 337.6 384.7 338.7 385.2 339.1 385.7 339.1 386.2 339.2 386.7 340.0 387.2 341.2 387.7 342.4 388.2 342.7 388.7 342.8 389.2 342.8 389.7 343.7 390.2 344.9 390.7 346.2 391.2 346.6 391.7 346.6 392.2 346.7 392.7 347.6 393.2 348.8 393.7 350.0 394.2 350.4 394.7 350.4 395.2 350.4 395.7 351.3 396.2 352.4 396.7 353.5 397.2 353.8 397.7 353.8 398.2 353.9 398.7 354.7 399.2 355.7 399.7 356.8 400.2 357.1 400.7 357.1 401.2 357.2 401.7 357.9 402.2 358.9 402.7 359.9 403.2 360.2 403.7 360.2 404.2 360.3 404.7 361.0 405.2 361.9 405.7 362.8 406.2 363.1 406.7 363.2 407.2 363.2 407.7 363.9 408.2 364.8 408.7 365.6 409.2 365.9 409.7 365.9 410.2 366.0 410.7 366.6 411.2 367.4 411.7 368.2 412.2 368.5 412.7 368.5 413.2 368.5 413.7 369.1 414.2 369.8 414.7 370.5 415.2 370.7 415.7 370.8 416.2 370.8 416.7 371.3 417.2 372.0 417.7 372.6 418.2 372.8 418.7 372.8 419.2 372.9 419.7 373.3 420.2 373.9 420.7 374.5 421.2 374.6 421.7 374.6 422.2 374.7 422.7 375.0 423.2 375.5 423.7 376.0 424.2 376.2 424.7 376.2 425.2 376.2 425.7 376.5 426.2 376.9 426.7 377.3 427.2 377.4 427.7 377.4 428.2 377.4 428.7 377.7 429.2 377.9 429.7 378.2 430.2 378.3 430.7 378.3 431.2 378.3 431.7 378.5 432.2 378.7 432.7 378.8 433.2 378.9 433.7 378.9 434.2 378.9 434.7 379.0 435.2 379.1 435.7 379.2 436.2 379.2 436.7 379.2 437.2 379.2 437.7 379.1 438.2 379.0 438.7 378.9 439.2 378.8 439.7 378.8 440.2 378.7 440.7 378.5 441.2 378.3 441.7 378.2 442.2 378.0 442.7 377.8 443.2 377.7 443.7 377.5 444.2 377.2 444.7 376.9 445.2 376.6 445.7 376.3 446.2 376.0 446.7 375.6 447.2 375.2 447.7 374.9 448.2 374.5 448.7 374.0 449.2 373.6 449.7 373.2 450.2 372.8 450.7 372.4 451.2 372.0 451.7 371.5 452.2 371.1 452.7 370.6 453.2 370.1 453.7 369.7 454.2 369.2 454.7 368.7 455.2 368.2 455.7 367.7 456.2 367.2 456.7 366.7 457.2 366.1 457.7 365.6 458.2 365.1 458.7 364.6 459.2 364.1 459.7 363.6 460.2 363.0 460.7 362.5 461.2 362.0 461.7 361.5 462.2 361.0 462.7 360.5 463.2 360.0 463.7 359.5 464.2 359.0 464.7 358.5 465.2 358.0 465.7 357.5 466.2 357.0 466.7 356.5 467.2 356.0 467.7 355.5 468.2 355.0 468.7 354.5 469.2 354.0 469.7 353.5 470.2 353.0 470.7 352.5 471.2 352.0 471.7 351.5 472.2 351.0 472.7 350.5 473.2 350.0 473.7 349.6 474.2 349.1 474.7 348.6 475.2 348.1 475.7 347.7 476.2 347.2 476.7 346.8 477.2 346.3 477.7 345.9 478.2 345.5 478.7 345.0 479.2 344.6 479.7 344.2 480.2 343.7 480.7 343.3 481.2 342.9 481.7 342.5 482.2 342.1 482.7 341.6 483.2 341.2 483.7 340.8 484.2 340.4 484.7 340.0 485.2 339.6 485.7 339.1 486.2 338.7 486.7 338.3 487.2 337.9 487.7 337.5 488.2 337.1 488.7 336.6 489.2 336.2 489.7 335.8 490.2 335.4 490.7 335.0 491.2 334.6 491.7 334.2 492.2 333.8 492.7 333.4 493.2 333.0 493.7 332.7 494.2 332.3 494.7 331.9 495.2 331.5 495.7 331.1 496.2 330.7 496.7 330.3 497.2 329.9 497.7 329.5 498.2 329.1 498.7 328.7 499.2 328.3 499.7 327.9 500.2 327.5 500.7 327.1 501.2 326.7 501.7 326.3 502.2 325.9 502.7 325.6 503.2 325.2 503.7 324.8 504.2 324.5 504.7 324.1 505.2 323.8 505.7 323.4 506.2 323.1 506.7 322.8 507.2 322.5 507.7 322.2 508.2 321.9 508.7 321.6 509.2 321.3 509.7 321.0 510.2 320.8 510.7 320.6 511.2 320.3 511.7 320.1 512.2 319.9 512.7 319.7 513.2 319.4 513.7 319.2 514.2 319.0 514.7 318.8 515.2 318.6 515.7 318.4 516.2 318.3 516.7 318.1 517.2 317.9 517.7 317.7 518.2 317.5 518.7 317.4 519.2 317.2 519.7 317.1 520.2 316.9 520.7 316.7 521.2 316.6 521.7 316.4 522.2 316.3 522.7 316.1 523.2 316.0 523.7 315.9 524.2 315.7 524.7 315.6 525.2 315.5 525.7 315.3 526.2 315.2 526.7 315.1 527.2 315.0 527.7 314.9 528.2 314.8 528.7 314.6 529.2 314.5 529.7 314.4 530.2 314.3 530.7 314.2 531.2 314.1 531.7 314.0 532.2 313.9 532.7 313.8 533.2 313.8 533.7 313.7 534.2 313.6 534.7 313.5 535.2 313.4 535.7 313.4 536.2 313.3 536.7 313.2 537.2 313.1 537.7 313.1 538.2 313.0 538.7 312.9 539.2 312.9 539.7 312.8 540.2 312.8 540.7 312.7 541.2 312.6 541.7 312.6 542.2 312.5 542.7 312.5 543.2 312.4 543.7 312.4 544.2 312.4 544.7 312.3 545.2 312.3 545.7 312.2 546.2 312.2 546.7 312.2 547.2 312.1 547.7 312.1 548.2 312.1 548.7 312.1 549.2 312.0 549.7 312.0 550.2 312.0 550.7 312.0 551.2 311.9 551.7 311.9 552.2 311.9 552.7 311.9 553.2 311.9 553.7 311.8 554.2 311.8 554.7 311.8 555.2 311.8 555.7 311.8 556.2 311.8 556.7 311.8 557.2 311.8 557.7 311.8 558.2 311.7 558.7 311.7 559.2 311.7 559.7 311.7 560.2 311.7 560.7 311.7 561.2 311.7 561.7 311.7 562.2 311.7 562.7 311.7 563.2 311.7 563.7 311.7 564.2 311.7 564.7 311.7 565.2 311.8 565.7 311.8 566.2 311.8 566.7 311.8 567.2 311.8 567.7 311.8 568.2 311.8 568.7 311.9 569.2 311.9 569.7 311.9 570.2 311.9 570.7 311.9 571.2 312.0 571.7 312.0 572.2 312.0 572.7 312.0 573.2 312.1 573.7 312.1 574.2 312.1 574.7 312.1 575.2 312.2 575.7 312.2 576.2 312.2 576.7 312.2 577.2 312.2 577.7 312.3 578.2 312.3 578.7 312.3 579.2 312.3 579.7 312.3 580.2 312.3 580.7 312.3 581.2 312.4 581.7 312.4 582.2 312.4 582.7 312.4 583.2 312.4 583.7 312.4 584.2 312.4 584.7 312.4 585.2 312.5 585.7 312.5 586.2 312.5 586.7 312.5 587.2 312.5 587.7 312.5 588.2 312.5 588.7 312.5 589.2 312.6 589.7 312.6 590.2 312.6 590.7 312.6 591.2 312.6 591.7 312.6 592.2 312.6 592.7 312.6 593.2 312.7 593.7 312.7 594.2 312.7 594.7 312.7 595.2 312.7 595.7 312.7 596.2 312.7 596.7 312.7 597.2 312.8 597.7 312.8 598.2 312.8 598.7 312.8 599.2 312.8 599.7 312.8 600.2 312.8 600.7 312.9 601.2 312.9 601.7 312.9 602.2 312.9 602.7 312.9 603.2 312.9 603.7 312.9 604.2 313.0 604.7 313.0 605.2 313.0 605.7 313.0 606.2 313.0 606.7 313.0 607.2 313.1 607.7 313.1 608.2 313.1 608.7 313.1 609.2 313.1 609.7 313.1 610.2 313.2 610.7 313.2 611.2 313.2 611.7 313.2 612.2 313.2 612.7 313.2 613.2 313.3 613.7 313.3 614.2 313.3 614.7 313.3 615.2 313.3 615.7 313.3 616.2 313.4 616.7 313.4 617.2 313.4 617.7 313.4 618.2 313.4 618.7 313.4 619.2 313.5 619.7 313.5 620.2 313.5 620.7 313.5 621.2 313.5 621.7 313.5 622.2 313.6 622.7 313.6 623.2 313.6 623.7 313.6 624.2 313.6 624.7 313.6 625.2 313.7 625.7 313.7 626.2 313.7 626.7 313.7 627.2 313.7 627.7 313.7 628.2 313.8 628.7 313.8 629.2 313.8 629.7 313.8 630.2 313.8 630.7 313.8 631.2 313.9 631.7 313.9 632.2 313.9 632.7 313.9 633.2 313.9 633.7 313.9 634.2 314.0 634.7 314.0 635.2 314.0 635.7 314.0 636.2 314.0 636.7 314.0 637.2 314.0 637.7 314.1 638.2 314.1 638.7 314.1 639.2 314.1 639.7 314.1 640.2 314.1 640.7 314.1 641.2 314.2 641.7 314.2 642.2 314.2 642.7 314.2 643.2 314.2 643.7 314.2 644.2 314.2 644.7 314.3 645.2 314.3 645.7 314.3 646.2 314.3 646.7 314.3 647.2 314.3 647.7 314.3 648.2 314.4 648.7 314.4 649.2 314.4"/><path d="M366.7 314.8 367.2 314.8 367.7 305.8 368.2 299.8 368.7 296.8 369.2 296.7 369.7 296.6 370.2 296.5 370.7 295.4 371.2 294.8 371.7 294.3 372.2 294.3 372.7 294.3 373.2 294.2 373.7 294.0 374.2 294.0 374.7 294.0 375.2 294.0 375.7 294.0 376.2 294.0 376.7 294.2 377.2 294.4 377.7 294.8 378.2 294.8 378.7 294.8 379.2 294.8 379.7 295.2 380.2 295.6 380.7 296.1 381.2 296.1 381.7 296.2 382.2 296.2 382.7 296.7 383.2 297.2 383.7 297.8 384.2 297.8 384.7 297.8 385.2 297.9 385.7 298.4 386.2 299.1 386.7 299.8 387.2 299.8 387.7 299.8 388.2 299.9 388.7 300.5 389.2 301.3 389.7 302.0 390.2 302.1 390.7 302.1 391.2 302.1 391.7 302.9 392.2 303.7 392.7 304.5 393.2 304.6 393.7 304.6 394.2 304.7 394.7 305.5 395.2 306.5 395.7 307.4 396.2 307.5 396.7 307.6 397.2 307.6 397.7 308.6 398.2 309.6 398.7 310.6 399.2 310.7 399.7 310.8 400.2 310.8 400.7 311.8 401.2 312.9 401.7 314.1 402.2 314.2 402.7 314.2 403.2 314.2 403.7 315.3 404.2 316.5 404.7 317.6 405.2 317.8 405.7 317.8 406.2 317.8 406.7 319.0 407.2 320.2 407.7 321.4 408.2 321.5 408.7 321.5 409.2 321.6 409.7 322.7 410.2 323.9 410.7 325.2 411.2 325.3 411.7 325.3 412.2 325.4 412.7 326.5 413.2 327.8 413.7 329.0 414.2 329.1 414.7 329.2 415.2 329.2 415.7 330.3 416.2 331.6 416.7 332.8 417.2 332.9 417.7 332.9 418.2 333.0 418.7 334.1 419.2 335.3 419.7 336.5 420.2 336.6 420.7 336.6 421.2 336.7 421.7 337.8 422.2 338.9 422.7 340.0 423.2 340.1 423.7 340.2 424.2 340.2 424.7 341.3 425.2 342.4 425.7 343.4 426.2 343.5 426.7 343.6 427.2 343.7 427.7 344.6 428.2 345.6 428.7 346.5 429.2 346.7 429.7 346.8 430.2 347.0 430.7 347.8 431.2 348.6 431.7 349.4 432.2 349.7 432.7 349.9 433.2 350.1 433.7 350.8 434.2 351.5 434.7 352.2 435.2 352.5 435.7 352.7 436.2 353.0 436.7 353.6 437.2 354.1 437.7 354.7 438.2 354.9 438.7 355.2 439.2 355.5 439.7 355.9 440.2 356.3 440.7 356.7 441.2 357.0 441.7 357.2 442.2 357.5 442.7 357.8 443.2 358.2 443.7 358.4 444.2 358.7 444.7 358.9 445.2 359.1 445.7 359.3 446.2 359.5 446.7 359.6 447.2 359.8 447.7 359.9 448.2 360.0 448.7 360.1 449.2 360.2 449.7 360.3 450.2 360.4 450.7 360.4 451.2 360.5 451.7 360.6 452.2 360.6 452.7 360.6 453.2 360.6 453.7 360.6 454.2 360.6 454.7 360.6 455.2 360.6 455.7 360.5 456.2 360.5 456.7 360.4 457.2 360.3 457.7 360.2 458.2 360.2 458.7 360.1 459.2 360.0 459.7 359.9 460.2 359.7 460.7 359.6 461.2 359.5 461.7 359.4 462.2 359.2 462.7 359.1 463.2 359.0 463.7 358.8 464.2 358.6 464.7 358.5 465.2 358.3 465.7 358.1 466.2 358.0 466.7 357.8 467.2 357.6 467.7 357.4 468.2 357.2 468.7 356.9 469.2 356.7 469.7 356.5 470.2 356.3 470.7 356.0 471.2 355.8 471.7 355.5 472.2 355.3 472.7 355.0 473.2 354.8 473.7 354.5 474.2 354.3 474.7 354.0 475.2 353.8 475.7 353.5 476.2 353.3 476.7 353.0 477.2 352.8 477.7 352.5 478.2 352.3 478.7 352.1 479.2 351.8 479.7 351.6 480.2 351.3 480.7 351.1 481.2 350.8 481.7 350.6 482.2 350.3 482.7 350.0 483.2 349.8 483.7 349.5 484.2 349.3 484.7 349.0 485.2 348.7 485.7 348.4 486.2 348.1 486.7 347.8 487.2 347.6 487.7 347.3 488.2 347.0 488.7 346.7 489.2 346.4 489.7 346.1 490.2 345.8 490.7 345.5 491.2 345.2 491.7 344.9 492.2 344.6 492.7 344.3 493.2 343.9 493.7 343.6 494.2 343.3 494.7 342.9 495.2 342.6 495.7 342.3 496.2 341.9 496.7 341.6 497.2 341.2 497.7 340.8 498.2 340.4 498.7 340.0 499.2 339.6 499.7 339.2 500.2 338.7 500.7 338.3 501.2 337.9 501.7 337.4 502.2 337.0 502.7 336.6 503.2 336.1 503.7 335.7 504.2 335.2 504.7 334.8 505.2 334.4 505.7 334.0 506.2 333.5 506.7 333.1 507.2 332.7 507.7 332.4 508.2 332.0 508.7 331.6 509.2 331.3 509.7 331.0 510.2 330.6 510.7 330.3 511.2 330.1 511.7 329.8 512.2 329.5 512.7 329.3 513.2 329.0 513.7 328.7 514.2 328.5 514.7 328.2 515.2 328.0 515.7 327.8 516.2 327.5 516.7 327.3 517.2 327.1 517.7 326.9 518.2 326.6 518.7 326.4 519.2 326.2 519.7 326.0 520.2 325.8 520.7 325.6 521.2 325.4 521.7 325.2 522.2 325.0 522.7 324.8 523.2 324.6 523.7 324.4 524.2 324.2 524.7 324.0 525.2 323.9 525.7 323.7 526.2 323.5 526.7 323.3 527.2 323.1 527.7 323.0 528.2 322.8 528.7 322.6 529.2 322.4 529.7 322.3 530.2 322.1 530.7 321.9 531.2 321.8 531.7 321.6 532.2 321.5 532.7 321.3 533.2 321.2 533.7 321.0 534.2 320.9 534.7 320.7 535.2 320.6 535.7 320.4 536.2 320.3 536.7 320.2 537.2 320.0 537.7 319.9 538.2 319.7 538.7 319.6 539.2 319.5 539.7 319.4 540.2 319.2 540.7 319.1 541.2 319.0 541.7 318.9 542.2 318.7 542.7 318.6 543.2 318.5 543.7 318.4 544.2 318.3 544.7 318.2 545.2 318.0 545.7 317.9 546.2 317.8 546.7 317.7 547.2 317.6 547.7 317.5 548.2 317.4 548.7 317.3 549.2 317.2 549.7 317.1 550.2 317.1 550.7 317.0 551.2 316.9 551.7 316.8 552.2 316.7 552.7 316.6 553.2 316.6 553.7 316.5 554.2 316.4 554.7 316.3 555.2 316.2 555.7 316.2 556.2 316.1 556.7 316.0 557.2 316.0 557.7 315.9 558.2 315.8 558.7 315.8 559.2 315.7 559.7 315.6 560.2 315.6 560.7 315.5 561.2 315.5 561.7 315.4 562.2 315.4 562.7 315.3 563.2 315.2 563.7 315.2 564.2 315.1 564.7 315.1 565.2 315.0 565.7 315.0 566.2 315.0 566.7 314.9 567.2 314.9 567.7 314.8 568.2 314.8 568.7 314.7 569.2 314.7 569.7 314.7 570.2 314.6 570.7 314.6 571.2 314.6 571.7 314.5 572.2 314.5 572.7 314.5 573.2 314.4 573.7 314.4 574.2 314.4 574.7 314.4 575.2 314.3 575.7 314.3 576.2 314.3 576.7 314.3 577.2 314.2 577.7 314.2 578.2 314.2 578.7 314.2 579.2 314.2 579.7 314.1 580.2 314.1 580.7 314.1 581.2 314.1 581.7 314.1 582.2 314.0 582.7 314.0 583.2 314.0 583.7 314.0 584.2 314.0 584.7 314.0 585.2 313.9 585.7 313.9 586.2 313.9 586.7 313.9 587.2 313.9 587.7 313.9 588.2 313.9 588.7 313.8 589.2 313.8 589.7 313.8 590.2 313.8 590.7 313.8 591.2 313.8 591.7 313.8 592.2 313.8 592.7 313.7 593.2 313.7 593.7 313.7 594.2 313.7 594.7 313.7 595.2 313.7 595.7 313.7 596.2 313.7 596.7 313.7 597.2 313.7 597.7 313.7 598.2 313.7 598.7 313.6 599.2 313.6 599.7 313.6 600.2 313.6 600.7 313.6 601.2 313.6 601.7 313.6 602.2 313.6 602.7 313.6 603.2 313.6 603.7 313.6 604.2 313.6 604.7 313.6 605.2 313.6 605.7 313.6 606.2 313.6 606.7 313.6 607.2 313.6 607.7 313.6 608.2 313.6 608.7 313.6 609.2 313.6 609.7 313.6 610.2 313.6 610.7 313.6 611.2 313.6 611.7 313.6 612.2 313.6 612.7 313.6 613.2 313.6 613.7 313.6 614.2 313.6 614.7 313.6 615.2 313.6 615.7 313.6 616.2 313.6 616.7 313.6 617.2 313.6 617.7 313.6 618.2 313.6 618.7 313.6 619.2 313.6 619.7 313.6 620.2 313.6 620.7 313.7 621.2 313.7 621.7 313.7 622.2 313.7 622.7 313.7 623.2 313.7 623.7 313.7 624.2 313.7 624.7 313.7 625.2 313.7 625.7 313.7 626.2 313.7 626.7 313.7 627.2 313.7 627.7 313.7 628.2 313.8 628.7 313.8 629.2 313.8 629.7 313.8 630.2 313.8 630.7 313.8 631.2 313.8 631.7 313.8 632.2 313.8 632.7 313.8 633.2 313.8 633.7 313.9 634.2 313.9 634.7 313.9 635.2 313.9 635.7 313.9 636.2 313.9 636.7 313.9 637.2 313.9 637.7 313.9 638.2 314.0 638.7 314.0 639.2 314.0 639.7 314.0 640.2 314.0 640.7 314.0 641.2 314.0 641.7 314.0 642.2 314.0 642.7 314.1 643.2 314.1 643.7 314.1 644.2 314.1 644.7 314.1 645.2 314.1 645.7 314.1 646.2 314.1 646.7 314.1 647.2 314.2 647.7 314.2 648.2 314.2 648.7 314.2 649.2 314.2"/></g>
<g fill="none" stroke="#d8393b" stroke-width="1.4" stroke-dasharray="4.5 3.3"><path d="M366.7 314.8 367.7 296.2 368.7 286.2 369.7 281.7 370.7 278.7 371.7 276.5 372.7 274.5 373.7 272.8 374.7 271.4 375.7 270.0 376.7 268.8 377.7 267.7 378.7 266.6 379.7 265.7 380.7 264.7 381.7 263.8 382.7 262.9 383.7 262.0 384.7 261.2 385.7 260.3 386.7 259.5 387.7 258.7 388.7 257.9 389.7 257.0 390.7 256.1 391.7 255.2 392.7 254.4 393.7 253.6 394.7 253.1 395.7 252.5 396.7 252.0 397.7 251.5 398.7 251.1 399.7 250.7 400.7 250.3 401.7 250.0 402.7 249.7 403.7 249.5 404.7 249.2 405.7 249.0 406.7 248.8 407.7 248.6 408.7 248.5 409.7 248.3 410.7 248.1 411.7 248.0 412.7 247.9 413.7 247.8 414.7 247.7 415.7 247.7 416.7 247.6 417.7 247.5 418.7 247.5 419.7 247.4 420.7 247.3 421.7 247.3 422.7 247.3 423.7 247.2 424.7 247.2 425.7 247.2 426.7 247.2 427.7 247.2 428.7 247.3 429.7 247.3 430.7 247.4 431.7 247.4 432.7 247.5 433.7 247.6 434.7 247.7 435.7 247.8 436.7 248.0 437.7 248.2 438.7 248.5 439.7 248.8 440.7 249.2 441.7 249.6 442.7 250.0 443.7 250.4 444.7 251.0 445.7 251.6 446.7 252.3 447.7 253.0 448.7 253.7 449.7 254.5 450.7 255.2 451.7 255.9 452.7 256.7 453.7 257.5 454.7 258.3 455.7 259.1 456.7 260.0 457.7 260.8 458.7 261.6 459.7 262.4 460.7 263.2 461.7 263.9 462.7 264.7 463.7 265.5 464.7 266.2 465.7 267.0 466.7 267.7 467.7 268.4 468.7 269.2 469.7 269.9 470.7 270.7 471.7 271.4 472.7 272.1 473.7 272.8 474.7 273.5 475.7 274.2 476.7 274.9 477.7 275.5 478.7 276.1 479.7 276.7 480.7 277.3 481.7 277.9 482.7 278.5 483.7 279.1 484.7 279.6 485.7 280.2 486.7 280.8 487.7 281.4 488.7 282.0 489.7 282.6 490.7 283.2 491.7 283.8 492.7 284.4 493.7 285.0 494.7 285.6 495.7 286.2 496.7 286.9 497.7 287.6 498.7 288.3 499.7 289.0 500.7 289.8 501.7 290.6 502.7 291.5 503.7 292.3 504.7 293.1 505.7 293.9 506.7 294.6 507.7 295.3 508.7 296.0 509.7 296.6 510.7 297.1 511.7 297.6 512.7 298.0 513.7 298.4 514.7 298.9 515.7 299.2 516.7 299.6 517.7 300.0 518.7 300.3 519.7 300.6 520.7 300.9 521.7 301.3 522.7 301.6 523.7 301.9 524.7 302.2 525.7 302.5 526.7 302.7 527.7 303.0 528.7 303.3 529.7 303.6 530.7 303.8 531.7 304.1 532.7 304.3 533.7 304.6 534.7 304.8 535.7 305.0 536.7 305.3 537.7 305.5 538.7 305.7 539.7 305.9 540.7 306.2 541.7 306.4 542.7 306.6 543.7 306.8 544.7 307.0 545.7 307.2 546.7 307.4 547.7 307.6 548.7 307.8 549.7 307.9 550.7 308.1 551.7 308.3 552.7 308.4 553.7 308.6 554.7 308.8 555.7 308.9 556.7 309.0 557.7 309.2 558.7 309.3 559.7 309.5 560.7 309.6 561.7 309.7 562.7 309.8 563.7 310.0 564.7 310.1 565.7 310.2 566.7 310.4 567.7 310.5 568.7 310.6 569.7 310.8 570.7 310.9 571.7 311.0 572.7 311.2 573.7 311.3 574.7 311.4 575.7 311.5 576.7 311.6 577.7 311.7 578.7 311.8 579.7 311.8 580.7 311.9 581.7 312.0 582.7 312.0 583.7 312.1 584.7 312.1 585.7 312.2 586.7 312.2 587.7 312.3 588.7 312.3 589.7 312.4 590.7 312.4 591.7 312.5 592.7 312.5 593.7 312.5 594.7 312.6 595.7 312.6 596.7 312.7 597.7 312.7 598.7 312.7 599.7 312.8 600.7 312.8 601.7 312.8 602.7 312.9 603.7 312.9 604.7 312.9 605.7 313.0 606.7 313.0 607.7 313.0 608.7 313.1 609.7 313.1 610.7 313.1 611.7 313.2 612.7 313.2 613.7 313.2 614.7 313.3 615.7 313.3 616.7 313.3 617.7 313.4 618.7 313.4 619.7 313.4 620.7 313.4 621.7 313.5 622.7 313.5 623.7 313.5 624.7 313.6 625.7 313.6 626.7 313.6 627.7 313.6 628.7 313.7 629.7 313.7 630.7 313.7 631.7 313.7 632.7 313.8 633.7 313.8 634.7 313.8 635.7 313.9 636.7 313.9 637.7 313.9 638.7 313.9 639.7 314.0 640.7 314.0 641.7 314.0 642.7 314.0 643.7 314.1 644.7 314.1 645.7 314.1 646.7 314.1 647.7 314.2 648.7 314.2"/><path d="M366.7 314.8 367.7 333.2 368.7 343.0 369.7 347.5 370.7 350.4 371.7 352.7 372.7 354.6 373.7 356.3 374.7 357.7 375.7 359.0 376.7 360.2 377.7 361.4 378.7 362.4 379.7 363.3 380.7 364.3 381.7 365.2 382.7 366.1 383.7 367.0 384.7 367.8 385.7 368.6 386.7 369.4 387.7 370.2 388.7 371.1 389.7 371.9 390.7 372.7 391.7 373.6 392.7 374.5 393.7 375.2 394.7 375.8 395.7 376.3 396.7 376.8 397.7 377.3 398.7 377.7 399.7 378.1 400.7 378.5 401.7 378.8 402.7 379.1 403.7 379.3 404.7 379.6 405.7 379.8 406.7 380.0 407.7 380.2 408.7 380.3 409.7 380.5 410.7 380.7 411.7 380.8 412.7 380.9 413.7 381.0 414.7 381.1 415.7 381.1 416.7 381.2 417.7 381.3 418.7 381.3 419.7 381.4 420.7 381.4 421.7 381.5 422.7 381.5 423.7 381.6 424.7 381.6 425.7 381.6 426.7 381.6 427.7 381.6 428.7 381.5 429.7 381.5 430.7 381.4 431.7 381.4 432.7 381.3 433.7 381.2 434.7 381.1 435.7 381.0 436.7 380.8 437.7 380.6 438.7 380.3 439.7 380.0 440.7 379.6 441.7 379.2 442.7 378.8 443.7 378.4 444.7 377.9 445.7 377.3 446.7 376.6 447.7 375.9 448.7 375.1 449.7 374.4 450.7 373.7 451.7 373.0 452.7 372.2 453.7 371.4 454.7 370.6 455.7 369.8 456.7 369.0 457.7 368.2 458.7 367.4 459.7 366.6 460.7 365.8 461.7 365.0 462.7 364.3 463.7 363.5 464.7 362.8 465.7 362.1 466.7 361.3 467.7 360.6 468.7 359.9 469.7 359.1 470.7 358.4 471.7 357.7 472.7 357.0 473.7 356.3 474.7 355.6 475.7 354.9 476.7 354.3 477.7 353.6 478.7 353.0 479.7 352.4 480.7 351.8 481.7 351.3 482.7 350.7 483.7 350.1 484.7 349.5 485.7 348.9 486.7 348.4 487.7 347.8 488.7 347.2 489.7 346.6 490.7 346.0 491.7 345.4 492.7 344.9 493.7 344.3 494.7 343.7 495.7 343.0 496.7 342.4 497.7 341.7 498.7 341.0 499.7 340.2 500.7 339.5 501.7 338.7 502.7 337.9 503.7 337.1 504.7 336.3 505.7 335.5 506.7 334.8 507.7 334.1 508.7 333.4 509.7 332.8 510.7 332.3 511.7 331.8 512.7 331.4 513.7 331.0 514.7 330.6 515.7 330.2 516.7 329.8 517.7 329.5 518.7 329.1 519.7 328.8 520.7 328.5 521.7 328.2 522.7 327.9 523.7 327.6 524.7 327.3 525.7 327.0 526.7 326.7 527.7 326.4 528.7 326.2 529.7 325.9 530.7 325.7 531.7 325.4 532.7 325.2 533.7 324.9 534.7 324.7 535.7 324.5 536.7 324.2 537.7 324.0 538.7 323.8 539.7 323.6 540.7 323.3 541.7 323.1 542.7 322.9 543.7 322.7 544.7 322.5 545.7 322.3 546.7 322.1 547.7 321.9 548.7 321.8 549.7 321.6 550.7 321.4 551.7 321.2 552.7 321.1 553.7 320.9 554.7 320.8 555.7 320.6 556.7 320.5 557.7 320.4 558.7 320.2 559.7 320.1 560.7 320.0 561.7 319.8 562.7 319.7 563.7 319.6 564.7 319.4 565.7 319.3 566.7 319.2 567.7 319.1 568.7 318.9 569.7 318.8 570.7 318.7 571.7 318.5 572.7 318.4 573.7 318.3 574.7 318.2 575.7 318.1 576.7 318.0 577.7 317.9 578.7 317.8 579.7 317.7 580.7 317.7 581.7 317.6 582.7 317.5 583.7 317.5 584.7 317.4 585.7 317.4 586.7 317.3 587.7 317.3 588.7 317.2 589.7 317.2 590.7 317.1 591.7 317.1 592.7 317.1 593.7 317.0 594.7 317.0 595.7 316.9 596.7 316.9 597.7 316.9 598.7 316.8 599.7 316.8 600.7 316.8 601.7 316.7 602.7 316.7 603.7 316.7 604.7 316.6 605.7 316.6 606.7 316.6 607.7 316.5 608.7 316.5 609.7 316.5 610.7 316.4 611.7 316.4 612.7 316.4 613.7 316.3 614.7 316.3 615.7 316.3 616.7 316.3 617.7 316.2 618.7 316.2 619.7 316.2 620.7 316.1 621.7 316.1 622.7 316.1 623.7 316.1 624.7 316.0 625.7 316.0 626.7 316.0 627.7 315.9 628.7 315.9 629.7 315.9 630.7 315.9 631.7 315.8 632.7 315.8 633.7 315.8 634.7 315.8 635.7 315.7 636.7 315.7 637.7 315.7 638.7 315.7 639.7 315.6 640.7 315.6 641.7 315.6 642.7 315.6 643.7 315.5 644.7 315.5 645.7 315.5 646.7 315.5 647.7 315.4 648.7 315.4"/></g>
<circle cx="413.9" cy="247.4" r="2.4" fill="#0000ff"/>
<rect x="366.7" y="232.9" width="282.7" height="165.2" fill="none" stroke="#5a5a5a" stroke-width="1.2"/>
<path d="M366.7 398.1h2.5M649.4 398.1h-2.5M366.7 370.6h2.5M649.4 370.6h-2.5M366.7 343.0h2.5M649.4 343.0h-2.5M366.7 315.5h2.5M649.4 315.5h-2.5M366.7 288.0h2.5M649.4 288.0h-2.5M366.7 260.4h2.5M649.4 260.4h-2.5M366.7 232.9h2.5M649.4 232.9h-2.5M366.7 398.1v-2.5M366.7 232.9v2.5M460.9 398.1v-2.5M460.9 232.9v2.5M555.2 398.1v-2.5M555.2 232.9v2.5M649.4 398.1v-2.5M649.4 232.9v2.5" stroke="#5a5a5a" stroke-width="1" fill="none"/>
<polygon points="466.4,358.9 470.2,355.5 480.0,356.7 520.0,362.1 560.0,368.2 648.8,384.5 628.4,396.9 560.0,378.5 540.6,374.2 528.5,372.6 516.4,372.6 504.2,371.2 492.1,366.4 480.0,361.5 467.0,359.6" fill="url(#lgd)"/>
<g clip-path="url(#pcd)">
<ellipse cx="510" cy="366.5" rx="42" ry="5.5" transform="rotate(9 510 366.5)" fill="url(#gcy)"/>
<ellipse cx="512" cy="369.6" rx="18" ry="3" transform="rotate(8 512 369.6)" fill="url(#gbl3)"/>
</g>
<path d="M494.0 367.3 500.0 369.8 506.0 371.5 516.0 372.6 527.0 372.6" fill="none" stroke="#1a50c8" stroke-width="1.1"/>
<text x="364.7" y="402.4" font-size="10.4" text-anchor="end" fill="#333333" >-0.6</text>
<text x="364.7" y="374.7" font-size="10.4" text-anchor="end" fill="#333333" >-0.4</text>
<text x="364.7" y="348.2" font-size="10.4" text-anchor="end" fill="#333333" >-0.2</text>
<text x="363.0" y="322.4" font-size="10.4" text-anchor="end" fill="#333333" >0</text>
<text x="366.0" y="293.6" font-size="10.4" text-anchor="end" fill="#333333" >0.2</text>
<text x="366.0" y="266.5" font-size="10.4" text-anchor="end" fill="#333333" >0.4</text>
<text x="366.0" y="238.2" font-size="10.4" text-anchor="end" fill="#333333" >0.6</text>
<text x="367.0" y="414.4" font-size="10.4" text-anchor="middle" fill="#333333" >0</text>
<text x="461.2" y="414.4" font-size="10.4" text-anchor="middle" fill="#333333" >50</text>
<text x="556.4" y="414.4" font-size="10.4" text-anchor="middle" fill="#333333" >100</text>
<text x="650.6" y="414.4" font-size="10.4" text-anchor="middle" fill="#333333" >150</text>
<text transform="translate(401.8,431.2) scale(0.966,1)" font-size="17" fill="#333333" stroke="#333333" stroke-width="0.25" >Distance from the base (mm)</text>
<text transform="translate(344.2,378.0) rotate(-90) scale(0.964,1)" font-size="17" fill="#333333" stroke="#333333" stroke-width="0.25" >Displacement (mm)</text>
<text x="588.4" y="256" font-size="20.5" font-weight="bold" fill="#111" >d</text>
<text transform="translate(602.2,253.6) scale(1.0,1)" font-size="14" fill="#1a1a1a">150 Hz</text>
</svg></body></html>
